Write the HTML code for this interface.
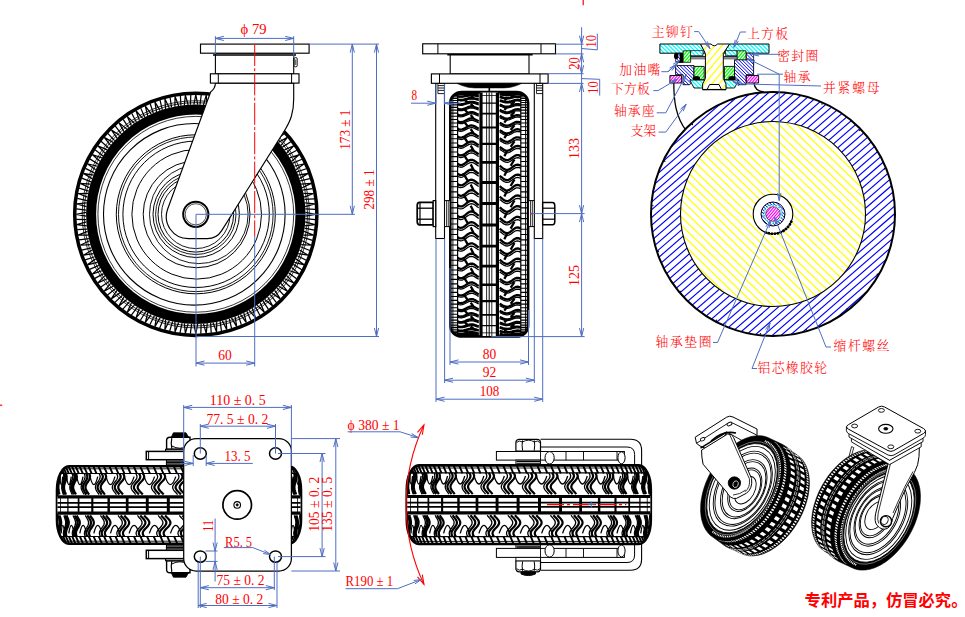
<!DOCTYPE html>
<html lang="zh"><head><meta charset="utf-8"><title>脚轮图纸</title>
<style>
html,body{margin:0;padding:0;background:#fff;}
body{width:965px;height:617px;overflow:hidden;font-family:"Liberation Serif","Noto Serif CJK SC",serif;}
svg{display:block;}
text{white-space:pre;}
</style></head><body>
<svg width="965" height="617" viewBox="0 0 965 617">
<defs>

</defs>
<rect width="965" height="617" fill="#fff"/>
<g id="v1">
<circle cx="195.8" cy="214.3" r="121.1" stroke="#000" stroke-width="3.5" fill="#fff"/>
<path d="M315.4 214.3L305.38 212.39M315.4 214.3L305.38 216.21M315.28 219.73L305.32 218.51M314.94 224.72L305.13 221.95M314.94 224.72L304.8 225.76M314.35 230.12L304.54 228.04M313.58 235.07L304.05 231.45M313.58 235.07L303.39 235.21M312.52 240.39L302.92 237.46M311.32 245.25L302.14 240.81M311.32 245.25L301.15 244.51M309.8 250.46L300.5 246.71M308.19 255.21L299.43 249.98M308.19 255.21L298.12 253.58M306.22 260.26L297.28 255.71M304.19 264.85L295.92 258.88M304.19 264.85L294.31 262.35M301.79 269.71L293.28 264.4M299.38 274.1L291.66 267.44M299.38 274.1L289.75 270.75M296.56 278.74L288.54 272.7M293.77 282.9L286.66 275.59M293.77 282.9L284.47 278.72M290.56 287.27L283.1 280.56M287.42 291.18L280.98 283.27M287.42 291.18L278.52 286.2M283.84 295.25L276.99 287.92M280.37 298.87L274.64 290.43M280.37 298.87L271.93 293.14M276.45 302.62L270.27 294.72M272.68 305.92L267.7 297.02M272.68 305.92L264.77 299.48M268.44 309.31L262.97 300.9M264.4 312.27L260.22 302.97M264.4 312.27L257.09 305.16M259.88 315.28L255.17 306.43M255.6 317.88L252.25 308.25M255.6 317.88L248.94 310.16M250.84 320.48L246.92 311.25M246.35 322.69L243.85 312.81M246.35 322.69L240.38 314.42M241.38 324.88L238.27 315.34M236.71 326.69L235.08 316.62M236.71 326.69L231.48 317.93M231.57 328.43L229.3 318.65M226.75 329.82L226.01 319.65M226.75 329.82L222.31 320.64M221.48 331.11L220.08 321.18M216.57 332.08L216.71 321.89M216.57 332.08L212.95 322.55M211.2 332.9L210.67 322.89M206.22 333.44L207.26 323.3M206.22 333.44L203.45 323.63M200.81 333.8L201.15 323.77M195.8 333.9L197.71 323.88M195.8 333.9L193.89 323.88M190.37 333.78L191.59 323.82M185.38 333.44L188.15 323.63M185.38 333.44L184.34 323.3M179.98 332.85L182.06 323.04M175.03 332.08L178.65 322.55M175.03 332.08L174.89 321.89M169.71 331.02L172.64 321.42M164.85 329.82L169.29 320.64M164.85 329.82L165.59 319.65M159.64 328.3L163.39 319M154.89 326.69L160.12 317.93M154.89 326.69L156.52 316.62M149.84 324.72L154.39 315.78M145.25 322.69L151.22 314.42M145.25 322.69L147.75 312.81M140.39 320.29L145.7 311.78M136 317.88L142.66 310.16M136 317.88L139.35 308.25M131.36 315.06L137.4 307.04M127.2 312.27L134.51 305.16M127.2 312.27L131.38 302.97M122.83 309.06L129.54 301.6M118.92 305.92L126.83 299.48M118.92 305.92L123.9 297.02M114.85 302.34L122.18 295.49M111.23 298.87L119.67 293.14M111.23 298.87L116.96 290.43M107.48 294.95L115.38 288.77M104.18 291.18L113.08 286.2M104.18 291.18L110.62 283.27M100.79 286.94L109.2 281.47M97.83 282.9L107.13 278.72M97.83 282.9L104.94 275.59M94.82 278.38L103.67 273.67M92.22 274.1L101.85 270.75M92.22 274.1L99.94 267.44M89.62 269.34L98.85 265.42M87.41 264.85L97.29 262.35M87.41 264.85L95.68 258.88M85.22 259.88L94.76 256.77M83.41 255.21L93.48 253.58M83.41 255.21L92.17 249.98M81.67 250.07L91.45 247.8M80.28 245.25L90.45 244.51M80.28 245.25L89.46 240.81M78.99 239.98L88.92 238.58M78.02 235.07L88.21 235.21M78.02 235.07L87.55 231.45M77.2 229.7L87.21 229.17M76.66 224.72L86.8 225.76M76.66 224.72L86.47 221.95M76.3 219.31L86.33 219.65M76.2 214.3L86.22 216.21M76.2 214.3L86.22 212.39M76.32 208.87L86.28 210.09M76.66 203.88L86.47 206.65M76.66 203.88L86.8 202.84M77.25 198.48L87.06 200.56M78.02 193.53L87.55 197.15M78.02 193.53L88.21 193.39M79.08 188.21L88.68 191.14M80.28 183.35L89.46 187.79M80.28 183.35L90.45 184.09M81.8 178.14L91.1 181.89M83.41 173.39L92.17 178.62M83.41 173.39L93.48 175.02M85.38 168.34L94.32 172.89M87.41 163.75L95.68 169.72M87.41 163.75L97.29 166.25M89.81 158.89L98.32 164.2M92.22 154.5L99.94 161.16M92.22 154.5L101.85 157.85M95.04 149.86L103.06 155.9M97.83 145.7L104.94 153.01M97.83 145.7L107.13 149.88M101.04 141.33L108.5 148.04M104.18 137.42L110.62 145.33M104.18 137.42L113.08 142.4M107.76 133.35L114.61 140.68M111.23 129.73L116.96 138.17M111.23 129.73L119.67 135.46M115.15 125.98L121.33 133.88M118.92 122.68L123.9 131.58M118.92 122.68L126.83 129.12M123.16 119.29L128.63 127.7M127.2 116.33L131.38 125.63M127.2 116.33L134.51 123.44M131.72 113.32L136.43 122.17M136 110.72L139.35 120.35M136 110.72L142.66 118.44M140.76 108.12L144.68 117.35M145.25 105.91L147.75 115.79M145.25 105.91L151.22 114.18M150.22 103.72L153.33 113.26M154.89 101.91L156.52 111.98M154.89 101.91L160.12 110.67M160.03 100.17L162.3 109.95M164.85 98.78L165.59 108.95M164.85 98.78L169.29 107.96M170.12 97.49L171.52 107.42M175.03 96.52L174.89 106.71M175.03 96.52L178.65 106.05M180.4 95.7L180.93 105.71M185.38 95.16L184.34 105.3M185.38 95.16L188.15 104.97M190.79 94.8L190.45 104.83M195.8 94.7L193.89 104.72M195.8 94.7L197.71 104.72M201.23 94.82L200.01 104.78M206.22 95.16L203.45 104.97M206.22 95.16L207.26 105.3M211.62 95.75L209.54 105.56M216.57 96.52L212.95 106.05M216.57 96.52L216.71 106.71M221.89 97.58L218.96 107.18M226.75 98.78L222.31 107.96M226.75 98.78L226.01 108.95M231.96 100.3L228.21 109.6M236.71 101.91L231.48 110.67M236.71 101.91L235.08 111.98M241.76 103.88L237.21 112.82M246.35 105.91L240.38 114.18M246.35 105.91L243.85 115.79M251.21 108.31L245.9 116.82M255.6 110.72L248.94 118.44M255.6 110.72L252.25 120.35M260.24 113.54L254.2 121.56M264.4 116.33L257.09 123.44M264.4 116.33L260.22 125.63M268.77 119.54L262.06 127M272.68 122.68L264.77 129.12M272.68 122.68L267.7 131.58M276.75 126.26L269.42 133.11M280.37 129.73L271.93 135.46M280.37 129.73L274.64 138.17M284.12 133.65L276.22 139.83M287.42 137.42L278.52 142.4M287.42 137.42L280.98 145.33M290.81 141.66L282.4 147.13M293.77 145.7L284.47 149.88M293.77 145.7L286.66 153.01M296.78 150.22L287.93 154.93M299.38 154.5L289.75 157.85M299.38 154.5L291.66 161.16M301.98 159.26L292.75 163.18M304.19 163.75L294.31 166.25M304.19 163.75L295.92 169.72M306.38 168.72L296.84 171.83M308.19 173.39L298.12 175.02M308.19 173.39L299.43 178.62M309.93 178.53L300.15 180.8M311.32 183.35L301.15 184.09M311.32 183.35L302.14 187.79M312.61 188.62L302.68 190.02M313.58 193.53L303.39 193.39M313.58 193.53L304.05 197.15M314.4 198.9L304.39 199.43M314.94 203.88L304.8 202.84M314.94 203.88L305.13 206.65M315.3 209.29L305.27 208.95" stroke="#000" stroke-width="1.25" fill="none"/>
<circle cx="195.8" cy="214.3" r="111.7" stroke="#000" stroke-width="0.8" fill="none"/>
<circle cx="195.8" cy="214.3" r="113.6" stroke="#000" stroke-width="0.8" fill="none"/>
<circle cx="195.8" cy="214.3" r="104.7" stroke="#000" stroke-width="10" fill="none"/>
<circle cx="194.3" cy="214.3" r="90.8" stroke="#000" stroke-width="1.1" fill="none"/>
<circle cx="195.8" cy="214.3" r="79.5" stroke="#000" stroke-width="1" fill="none"/>
<circle cx="195.8" cy="214.3" r="77.3" stroke="#000" stroke-width="0.9" fill="none"/>
<circle cx="196.1" cy="214.3" r="73.2" stroke="#000" stroke-width="1" fill="none"/>
<circle cx="196.7" cy="214.3" r="64.8" stroke="#000" stroke-width="1" fill="none"/>
<circle cx="196.6" cy="214.3" r="53.4" stroke="#000" stroke-width="1" fill="none"/>
<circle cx="198.8" cy="214.3" r="49.3" stroke="#000" stroke-width="0.9" fill="none"/>
<circle cx="196.2" cy="214.3" r="43.2" stroke="#000" stroke-width="1" fill="none"/>
<circle cx="195.8" cy="214.3" r="40.2" stroke="#000" stroke-width="0.9" fill="none"/>
<circle cx="195.8" cy="214.3" r="37.8" stroke="#000" stroke-width="1" fill="none"/>
<circle cx="195.8" cy="214.3" r="34.3" stroke="#000" stroke-width="0.9" fill="none"/>
<circle cx="195.8" cy="214.3" r="97.9" stroke="#000" stroke-width="0.8" fill="none"/>
<path d="M215.4 83.1 Q215.4 88.5 210.63 92 L167.67 209.05 A22 22 0 0 0 188.33 238.6 L207.3 238.6 A17 17 0 0 0 221.7 230.64 L284.27 131 C290.5 121 293.7 113 293.7 99 L293.7 83.1 Z" stroke="#000" stroke-width="1.15" fill="#fff" stroke-linejoin="round"/>
<circle cx="195.8" cy="214.3" r="12.6" stroke="#000" stroke-width="2" fill="#fff"/>
<circle cx="195.8" cy="214.3" r="10.6" stroke="#000" stroke-width="0.7" fill="none"/>
<rect x="215.4" y="53.2" width="78.3" height="20.6" stroke="#000" stroke-width="1.1" fill="#fff"/>
<line x1="213" y1="55" x2="296" y2="55" stroke="#000" stroke-width="1.7"/>
<rect x="200.5" y="44.1" width="108.6" height="9.1" stroke="#000" stroke-width="1.15" fill="#fff"/>
<rect x="210.4" y="73.8" width="88.6" height="9.3" stroke="#000" stroke-width="1.15" fill="#fff"/>
<line x1="218.3" y1="73.8" x2="218.3" y2="83.1" stroke="#000" stroke-width="1"/>
<line x1="291.6" y1="73.8" x2="291.6" y2="83.1" stroke="#000" stroke-width="1"/>
<rect x="294.2" y="57.6" width="3" height="9.2" stroke="#000" stroke-width="0.9" fill="#fff" rx="1.2"/>
<line x1="295.7" y1="59.5" x2="295.7" y2="65" stroke="#000" stroke-width="0.7"/>
<line x1="254.7" y1="44" x2="254.7" y2="236" stroke="#ff0000" stroke-width="1" stroke-dasharray="22 2.2 3 2.2"/>
<line x1="215.4" y1="36.2" x2="215.4" y2="54" stroke="#4f6ec2" stroke-width="1"/>
<line x1="293.7" y1="36.2" x2="293.7" y2="57.5" stroke="#4f6ec2" stroke-width="1"/>
<line x1="215.4" y1="38.4" x2="293.7" y2="38.4" stroke="#4f6ec2" stroke-width="1"/>
<polyline points="223.9,36.3 215.4,38.4 223.9,40.5" stroke="#4f6ec2" stroke-width="1" fill="none"/>
<polyline points="285.2,40.5 293.7,38.4 285.2,36.3" stroke="#4f6ec2" stroke-width="1" fill="none"/>
<text x="253.6" y="33.8" font-size="14" text-anchor="middle" fill="#ff0000" font-family="'Liberation Serif','Noto Serif CJK SC',serif" textLength="26" lengthAdjust="spacingAndGlyphs">ϕ 79</text>
<line x1="309.1" y1="44.1" x2="379" y2="44.1" stroke="#4f6ec2" stroke-width="1"/>
<line x1="196" y1="214.3" x2="355" y2="214.3" stroke="#4f6ec2" stroke-width="1"/>
<line x1="196" y1="336.5" x2="379" y2="336.5" stroke="#4f6ec2" stroke-width="1"/>
<line x1="352.3" y1="44.1" x2="352.3" y2="214.3" stroke="#4f6ec2" stroke-width="1"/>
<polyline points="354.4,52.6 352.3,44.1 350.2,52.6" stroke="#4f6ec2" stroke-width="1" fill="none"/>
<polyline points="350.2,205.8 352.3,214.3 354.4,205.8" stroke="#4f6ec2" stroke-width="1" fill="none"/>
<line x1="376.5" y1="44.1" x2="376.5" y2="336.5" stroke="#4f6ec2" stroke-width="1"/>
<polyline points="378.6,52.6 376.5,44.1 374.4,52.6" stroke="#4f6ec2" stroke-width="1" fill="none"/>
<polyline points="374.4,328 376.5,336.5 378.6,328" stroke="#4f6ec2" stroke-width="1" fill="none"/>
<text x="350.4" y="129.7" font-size="14" text-anchor="middle" fill="#ff0000" font-family="'Liberation Serif','Noto Serif CJK SC',serif" transform="rotate(-90 350.4 129.7)" textLength="40" lengthAdjust="spacingAndGlyphs">173 ± 1</text>
<text x="373.6" y="189.5" font-size="14" text-anchor="middle" fill="#ff0000" font-family="'Liberation Serif','Noto Serif CJK SC',serif" transform="rotate(-90 373.6 189.5)" textLength="40" lengthAdjust="spacingAndGlyphs">298 ± 1</text>
<line x1="196" y1="214.3" x2="196" y2="366.5" stroke="#4f6ec2" stroke-width="1"/>
<line x1="254.7" y1="236" x2="254.7" y2="366.5" stroke="#4f6ec2" stroke-width="1"/>
<line x1="196" y1="363.1" x2="254.7" y2="363.1" stroke="#4f6ec2" stroke-width="1"/>
<polyline points="204.5,361 196,363.1 204.5,365.2" stroke="#4f6ec2" stroke-width="1" fill="none"/>
<polyline points="246.2,365.2 254.7,363.1 246.2,361" stroke="#4f6ec2" stroke-width="1" fill="none"/>
<text x="224.9" y="360.1" font-size="14" text-anchor="middle" fill="#ff0000" font-family="'Liberation Serif','Noto Serif CJK SC',serif" textLength="13.5" lengthAdjust="spacingAndGlyphs">60</text>
</g>
<g id="v2">
<g transform="matrix(0 1 1 0 489.2 214.3)" fill="none" stroke="#000" stroke-linecap="butt">
<rect x="-122.2" y="-38.9" width="244.4" height="77.8" rx="10.5" ry="11.55" fill="#fff" stroke="#000" stroke-width="2.6"/>
<clipPath id="tc57"><rect x="-121.8" y="-38.5" width="243.6" height="77" rx="10.5" ry="11.55"/></clipPath>
<g clip-path="url(#tc57)">
<path d="M-122.73 -31.6L-122.73 -38.5M-122.73 31.6L-122.73 38.5M-122.42 -31.6L-122.42 -38.5M-122.42 31.6L-122.42 38.5M-121.88 -31.6L-121.88 -38.5M-121.88 31.6L-121.88 38.5M-121.12 -31.6L-121.12 -38.5M-121.12 31.6L-121.12 38.5M-120.12 -31.6L-120.12 -38.5M-120.12 31.6L-120.12 38.5M-118.89 -31.6L-118.89 -38.5M-118.89 31.6L-118.89 38.5M-117.43 -31.6L-117.43 -38.5M-117.43 31.6L-117.43 38.5M-115.76 -31.6L-115.76 -38.5M-115.76 31.6L-115.76 38.5M-113.86 -31.6L-113.86 -38.5M-113.86 31.6L-113.86 38.5M-111.74 -31.6L-111.74 -38.5M-111.74 31.6L-111.74 38.5M-109.42 -31.6L-109.42 -38.5M-109.42 31.6L-109.42 38.5M-106.88 -31.6L-106.88 -38.5M-106.88 31.6L-106.88 38.5M-104.14 -31.6L-104.14 -38.5M-104.14 31.6L-104.14 38.5M-101.2 -31.6L-101.2 -38.5M-101.2 31.6L-101.2 38.5M-98.07 -31.6L-98.07 -38.5M-98.07 31.6L-98.07 38.5M-94.76 -31.6L-94.76 -38.5M-94.76 31.6L-94.76 38.5M-91.26 -31.6L-91.26 -38.5M-91.26 31.6L-91.26 38.5M-87.59 -31.6L-87.59 -38.5M-87.59 31.6L-87.59 38.5M-83.75 -31.6L-83.75 -38.5M-83.75 31.6L-83.75 38.5M-79.75 -31.6L-79.75 -38.5M-79.75 31.6L-79.75 38.5M-75.6 -31.6L-75.6 -38.5M-75.6 31.6L-75.6 38.5M-71.31 -31.6L-71.31 -38.5M-71.31 31.6L-71.31 38.5M-66.88 -31.6L-66.88 -38.5M-66.88 31.6L-66.88 38.5M-62.33 -31.6L-62.33 -38.5M-62.33 31.6L-62.33 38.5M-57.65 -31.6L-57.65 -38.5M-57.65 31.6L-57.65 38.5M-52.87 -31.6L-52.87 -38.5M-52.87 31.6L-52.87 38.5M-47.98 -31.6L-47.98 -38.5M-47.98 31.6L-47.98 38.5M-43.01 -31.6L-43.01 -38.5M-43.01 31.6L-43.01 38.5M-37.95 -31.6L-37.95 -38.5M-37.95 31.6L-37.95 38.5M-32.82 -31.6L-32.82 -38.5M-32.82 31.6L-32.82 38.5M-27.62 -31.6L-27.62 -38.5M-27.62 31.6L-27.62 38.5M-22.38 -31.6L-22.38 -38.5M-22.38 31.6L-22.38 38.5M-17.09 -31.6L-17.09 -38.5M-17.09 31.6L-17.09 38.5M-11.77 -31.6L-11.77 -38.5M-11.77 31.6L-11.77 38.5M-6.43 -31.6L-6.43 -38.5M-6.43 31.6L-6.43 38.5M-1.07 -31.6L-1.07 -38.5M-1.07 31.6L-1.07 38.5M4.29 -31.6L4.29 -38.5M4.29 31.6L4.29 38.5M9.63 -31.6L9.63 -38.5M9.63 31.6L9.63 38.5M14.97 -31.6L14.97 -38.5M14.97 31.6L14.97 38.5M20.27 -31.6L20.27 -38.5M20.27 31.6L20.27 38.5M25.53 -31.6L25.53 -38.5M25.53 31.6L25.53 38.5M30.75 -31.6L30.75 -38.5M30.75 31.6L30.75 38.5M35.9 -31.6L35.9 -38.5M35.9 31.6L35.9 38.5M40.99 -31.6L40.99 -38.5M40.99 31.6L40.99 38.5M46 -31.6L46 -38.5M46 31.6L46 38.5M50.92 -31.6L50.92 -38.5M50.92 31.6L50.92 38.5M55.75 -31.6L55.75 -38.5M55.75 31.6L55.75 38.5M60.47 -31.6L60.47 -38.5M60.47 31.6L60.47 38.5M65.07 -31.6L65.07 -38.5M65.07 31.6L65.07 38.5M69.55 -31.6L69.55 -38.5M69.55 31.6L69.55 38.5M73.9 -31.6L73.9 -38.5M73.9 31.6L73.9 38.5M78.11 -31.6L78.11 -38.5M78.11 31.6L78.11 38.5M82.17 -31.6L82.17 -38.5M82.17 31.6L82.17 38.5M86.07 -31.6L86.07 -38.5M86.07 31.6L86.07 38.5M89.81 -31.6L89.81 -38.5M89.81 31.6L89.81 38.5M93.38 -31.6L93.38 -38.5M93.38 31.6L93.38 38.5M96.77 -31.6L96.77 -38.5M96.77 31.6L96.77 38.5M99.97 -31.6L99.97 -38.5M99.97 31.6L99.97 38.5M102.99 -31.6L102.99 -38.5M102.99 31.6L102.99 38.5M105.81 -31.6L105.81 -38.5M105.81 31.6L105.81 38.5M108.43 -31.6L108.43 -38.5M108.43 31.6L108.43 38.5M110.84 -31.6L110.84 -38.5M110.84 31.6L110.84 38.5M113.04 -31.6L113.04 -38.5M113.04 31.6L113.04 38.5M115.02 -31.6L115.02 -38.5M115.02 31.6L115.02 38.5M116.79 -31.6L116.79 -38.5M116.79 31.6L116.79 38.5M118.33 -31.6L118.33 -38.5M118.33 31.6L118.33 38.5M119.65 -31.6L119.65 -38.5M119.65 31.6L119.65 38.5M120.74 -31.6L120.74 -38.5M120.74 31.6L120.74 38.5M121.6 -31.6L121.6 -38.5M121.6 31.6L121.6 38.5M122.23 -31.6L122.23 -38.5M122.23 31.6L122.23 38.5M122.63 -31.6L122.63 -38.5M122.63 31.6L122.63 38.5" stroke-width="1.1"/>
<line x1="-122.8" y1="-31.6" x2="122.8" y2="-31.6" stroke-width="1.2"/>
<line x1="-122.8" y1="-36.3" x2="122.8" y2="-36.3" stroke-width="0.9"/>
<line x1="-122.8" y1="31.6" x2="122.8" y2="31.6" stroke-width="1.2"/>
<line x1="-122.8" y1="36.3" x2="122.8" y2="36.3" stroke-width="0.9"/>
<path d="M-122.79 -31.6L-122.77 -30.09L-122.77 -28.58L-122.77 -27.07L-122.78 -25.56L-122.8 -24.05L-122.8 -22.54L-122.8 -21.03L-122.8 -19.52L-122.8 -18.01L-122.8 -16.51L-122.8 -15L-122.8 -13.49L-122.8 -11.98L-122.79 -10.47M-122.78 -25.26L-122.47 -21.46M-122.74 31.6L-122.77 30.09L-122.78 28.58L-122.77 27.07L-122.75 25.56L-122.72 24.05L-122.66 22.54L-122.6 21.03L-122.55 19.52L-122.52 18.01L-122.54 16.51L-122.58 15L-122.64 13.49L-122.7 11.98L-122.74 10.47M-122.57 25.26L-121.96 21.46M-122.18 -31.6L-122.09 -30.09L-122.05 -28.58L-122.07 -27.07L-122.15 -25.56L-122.26 -24.05L-122.37 -22.54L-122.46 -21.03L-122.53 -19.52L-122.55 -18.01L-122.54 -16.51L-122.49 -15L-122.4 -13.49L-122.29 -11.98L-122.18 -10.47M-122.13 -18.5L-121.22 -15.12M-121.95 31.6L-122.05 30.09L-122.09 28.58L-122.07 27.07L-121.99 25.56L-121.86 24.05L-121.69 22.54L-121.53 21.03L-121.4 19.52L-121.34 18.01L-121.37 16.51L-121.48 15L-121.64 13.49L-121.81 11.98L-121.95 10.47M-121.45 18.5L-120.25 15.12M-120.64 -31.6L-120.47 -30.09L-120.4 -28.58L-120.44 -27.07L-120.58 -25.56L-120.78 -24.05L-121.01 -22.54L-121.21 -21.03L-121.34 -19.52L-121.4 -18.01L-121.37 -16.51L-121.26 -15L-121.08 -13.49L-120.86 -11.98L-120.64 -10.47M-120.54 -25.26L-119.05 -21.46M-120.23 31.6L-120.41 30.09L-120.48 28.58L-120.44 27.07L-120.3 25.56L-120.07 24.05L-119.79 22.54L-119.52 21.03L-119.32 19.52L-119.23 18.01L-119.28 16.51L-119.45 15L-119.7 13.49L-119.98 11.98L-120.23 10.47M-119.41 25.26L-117.62 21.46M-118.18 -31.6L-117.94 -30.09L-117.84 -28.58L-117.89 -27.07L-118.09 -25.56L-118.39 -24.05L-118.73 -22.54L-119.03 -21.03L-119.24 -19.52L-119.33 -18.01L-119.28 -16.51L-119.11 -15L-118.83 -13.49L-118.5 -11.98L-118.18 -10.47M-118.04 -18.5L-115.97 -15.12M-117.6 31.6L-117.85 30.09L-117.95 28.58L-117.9 27.07L-117.69 25.56L-117.37 24.05L-116.98 22.54L-116.61 21.03L-116.34 19.52L-116.22 18.01L-116.28 16.51L-116.51 15L-116.86 13.49L-117.25 11.98L-117.6 10.47M-116.45 18.5L-114.1 15.12M-114.83 -31.6L-114.51 -30.09L-114.38 -28.58L-114.45 -27.07L-114.71 -25.56L-115.1 -24.05L-115.54 -22.54L-115.94 -21.03L-116.23 -19.52L-116.35 -18.01L-116.29 -16.51L-116.05 -15L-115.68 -13.49L-115.24 -11.98L-114.83 -10.47M-114.64 -25.26L-112.01 -21.46M-114.07 31.6L-114.39 30.09L-114.53 28.58L-114.46 27.07L-114.19 25.56L-113.77 24.05L-113.28 22.54L-112.82 21.03L-112.47 19.52L-112.32 18.01L-112.4 16.51L-112.69 15L-113.13 13.49L-113.62 11.98L-114.07 10.47M-112.61 25.26L-109.71 21.46M-110.59 -31.6L-110.21 -30.09L-110.04 -28.58L-110.13 -27.07L-110.45 -25.56L-110.93 -24.05L-111.48 -22.54L-111.98 -21.03L-112.33 -19.52L-112.48 -18.01L-112.41 -16.51L-112.11 -15L-111.65 -13.49L-111.11 -11.98L-110.59 -10.47M-110.37 -18.5L-107.19 -15.12M-109.67 31.6L-110.06 30.09L-110.23 28.58L-110.14 27.07L-109.82 25.56L-109.31 24.05L-108.72 22.54L-108.16 21.03L-107.74 19.52L-107.56 18.01L-107.66 16.51L-108 15L-108.53 13.49L-109.13 11.98L-109.67 10.47M-107.92 18.5L-104.48 15.12M-105.52 -31.6L-105.07 -30.09L-104.88 -28.58L-104.98 -27.07L-105.35 -25.56L-105.92 -24.05L-106.57 -22.54L-107.16 -21.03L-107.58 -19.52L-107.76 -18.01L-107.67 -16.51L-107.32 -15L-106.77 -13.49L-106.13 -11.98L-105.52 -10.47M-105.26 -25.26L-101.57 -21.46M-104.44 31.6L-104.89 30.09L-105.09 28.58L-104.99 27.07L-104.61 25.56L-104.02 24.05L-103.33 22.54L-102.68 21.03L-102.2 19.52L-101.99 18.01L-102.1 16.51L-102.5 15L-103.11 13.49L-103.8 11.98L-104.44 10.47M-102.4 25.26L-98.46 21.46M-99.65 -31.6L-99.13 -30.09L-98.91 -28.58L-99.02 -27.07L-99.45 -25.56L-100.1 -24.05L-100.84 -22.54L-101.52 -21.03L-102.01 -19.52L-102.22 -18.01L-102.11 -16.51L-101.71 -15L-101.08 -13.49L-100.34 -11.98L-99.65 -10.47M-99.35 -18.5L-95.16 -15.12M-98.41 31.6L-98.93 30.09L-99.15 28.58L-99.04 27.07L-98.61 25.56L-97.94 24.05L-97.16 22.54L-96.42 21.03L-95.88 19.52L-95.64 18.01L-95.76 16.51L-96.22 15L-96.9 13.49L-97.69 11.98L-98.41 10.47M-96.1 18.5L-91.69 15.12M-93.01 -31.6L-92.44 -30.09L-92.19 -28.58L-92.32 -27.07L-92.8 -25.56L-93.52 -24.05L-94.35 -22.54L-95.11 -21.03L-95.66 -19.52L-95.9 -18.01L-95.78 -16.51L-95.32 -15L-94.61 -13.49L-93.79 -11.98L-93.01 -10.47M-92.68 -25.26L-88.04 -21.46M-91.63 31.6L-92.21 30.09L-92.46 28.58L-92.33 27.07L-91.85 25.56L-91.11 24.05L-90.24 22.54L-89.43 21.03L-88.82 19.52L-88.56 18.01L-88.7 16.51L-89.2 15L-89.96 13.49L-90.83 11.98L-91.63 10.47M-89.08 25.26L-84.22 21.46M-85.67 -31.6L-85.04 -30.09L-84.77 -28.58L-84.91 -27.07L-85.43 -25.56L-86.23 -24.05L-87.14 -22.54L-87.98 -21.03L-88.59 -19.52L-88.85 -18.01L-88.72 -16.51L-88.21 -15L-87.43 -13.49L-86.52 -11.98L-85.67 -10.47M-85.3 -18.5L-80.24 -15.12M-84.16 31.6L-84.79 30.09L-85.07 28.58L-84.93 27.07L-84.4 25.56L-83.59 24.05L-82.64 22.54L-81.75 21.03L-81.1 19.52L-80.81 18.01L-80.96 16.51L-81.5 15L-82.33 13.49L-83.28 11.98L-84.16 10.47M-81.37 18.5L-76.11 15.12M-77.68 -31.6L-77 -30.09L-76.7 -28.58L-76.85 -27.07L-77.42 -25.56L-78.28 -24.05L-79.27 -22.54L-80.18 -21.03L-80.84 -19.52L-81.12 -18.01L-80.98 -16.51L-80.43 -15L-79.58 -13.49L-78.6 -11.98L-77.68 -10.47M-77.28 -25.26L-71.83 -21.46M-76.05 31.6L-76.73 30.09L-77.02 28.58L-76.87 27.07L-76.3 25.56L-75.43 24.05L-74.41 22.54L-73.45 21.03L-72.75 19.52L-72.45 18.01L-72.6 16.51L-73.19 15L-74.08 13.49L-75.1 11.98L-76.05 10.47M-73.04 25.26L-67.42 21.46M-69.09 -31.6L-68.37 -30.09L-68.05 -28.58L-68.21 -27.07L-68.82 -25.56L-69.74 -24.05L-70.79 -22.54L-71.77 -21.03L-72.47 -19.52L-72.78 -18.01L-72.62 -16.51L-72.04 -15L-71.13 -13.49L-70.08 -11.98L-69.09 -10.47M-68.67 -18.5L-62.88 -15.12M-67.35 31.6L-68.08 30.09L-68.4 28.58L-68.23 27.07L-67.63 25.56L-66.69 24.05L-65.61 22.54L-64.6 21.03L-63.85 19.52L-63.53 18.01L-63.69 16.51L-64.32 15L-65.26 13.49L-66.35 11.98L-67.35 10.47M-64.16 18.5L-58.22 15.12M-59.98 -31.6L-59.22 -30.09L-58.88 -28.58L-59.05 -27.07L-59.69 -25.56L-60.66 -24.05L-61.78 -22.54L-62.81 -21.03L-63.56 -19.52L-63.88 -18.01L-63.72 -16.51L-63.09 -15L-62.13 -13.49L-61.02 -11.98L-59.98 -10.47M-59.53 -25.26L-53.45 -21.46M-58.15 31.6L-58.92 30.09L-59.25 28.58L-59.08 27.07L-58.44 25.56L-57.45 24.05L-56.32 22.54L-55.25 21.03L-54.47 19.52L-54.13 18.01L-54.3 16.51L-54.95 15L-55.95 13.49L-57.09 11.98L-58.15 10.47M-54.79 25.26L-48.57 21.46M-50.41 -31.6L-49.61 -30.09L-49.27 -28.58L-49.45 -27.07L-50.11 -25.56L-51.13 -24.05L-52.29 -22.54L-53.37 -21.03L-54.16 -19.52L-54.5 -18.01L-54.32 -16.51L-53.67 -15L-52.67 -13.49L-51.5 -11.98L-50.41 -10.47M-49.95 -18.5L-43.61 -15.12M-48.5 31.6L-49.3 30.09L-49.65 28.58L-49.47 27.07L-48.8 25.56L-47.78 24.05L-46.59 22.54L-45.48 21.03L-44.67 19.52L-44.31 18.01L-44.5 16.51L-45.17 15L-46.21 13.49L-47.4 11.98L-48.5 10.47M-45.01 18.5L-38.56 15.12M-40.46 -31.6L-39.63 -30.09L-39.28 -28.58L-39.46 -27.07L-40.15 -25.56L-41.2 -24.05L-42.41 -22.54L-43.53 -21.03L-44.35 -19.52L-44.7 -18.01L-44.52 -16.51L-43.84 -15L-42.8 -13.49L-41.59 -11.98L-40.46 -10.47M-39.98 -25.26L-33.44 -21.46M-38.48 31.6L-39.31 30.09L-39.67 28.58L-39.48 27.07L-38.8 25.56L-37.73 24.05L-36.51 22.54L-35.37 21.03L-34.53 19.52L-34.16 18.01L-34.35 16.51L-35.05 15L-36.12 13.49L-37.34 11.98L-38.48 10.47M-34.88 25.26L-28.25 21.46M-30.2 -31.6L-29.35 -30.09L-28.99 -28.58L-29.18 -27.07L-29.88 -25.56L-30.96 -24.05L-32.2 -22.54L-33.36 -21.03L-34.2 -19.52L-34.56 -18.01L-34.38 -16.51L-33.68 -15L-32.6 -13.49L-31.36 -11.98L-30.2 -10.47M-29.71 -18.5L-23.01 -15.12M-28.17 31.6L-29.02 30.09L-29.39 28.58L-29.2 27.07L-28.49 25.56L-27.41 24.05L-26.15 22.54L-24.98 21.03L-24.12 19.52L-23.75 18.01L-23.94 16.51L-24.66 15L-25.75 13.49L-27 11.98L-28.17 10.47M-24.48 18.5L-17.73 15.12M-19.71 -31.6L-18.85 -30.09L-18.48 -28.58L-18.67 -27.07L-19.39 -25.56L-20.49 -24.05L-21.75 -22.54L-22.93 -21.03L-23.79 -19.52L-24.16 -18.01L-23.97 -16.51L-23.26 -15L-22.16 -13.49L-20.89 -11.98L-19.71 -10.47M-19.21 -25.26L-12.41 -21.46M-17.65 31.6L-18.51 30.09L-18.88 28.58L-18.69 27.07L-17.97 25.56L-16.87 24.05L-15.6 22.54L-14.41 21.03L-13.54 19.52L-13.16 18.01L-13.36 16.51L-14.08 15L-15.19 13.49L-16.46 11.98L-17.65 10.47M-13.9 25.26L-7.07 21.46M-9.07 -31.6L-8.2 -30.09L-7.83 -28.58L-8.02 -27.07L-8.74 -25.56L-9.86 -24.05L-11.14 -22.54L-12.33 -21.03L-13.2 -19.52L-13.57 -18.01L-13.38 -16.51L-12.66 -15L-11.55 -13.49L-10.27 -11.98L-9.07 -10.47M-8.57 -18.5L-1.71 -15.12M-6.99 31.6L-7.86 30.09L-8.24 28.58L-8.04 27.07L-7.32 25.56L-6.2 24.05L-4.92 22.54L-3.72 21.03L-2.85 19.52L-2.47 18.01L-2.67 16.51L-3.39 15L-4.51 13.49L-5.79 11.98L-6.99 10.47M-3.21 18.5L3.64 15.12M1.63 -31.6L2.51 -30.09L2.89 -28.58L2.69 -27.07L1.96 -25.56L0.85 -24.05L-0.44 -22.54L-1.63 -21.03L-2.51 -19.52L-2.89 -18.01L-2.69 -16.51L-1.96 -15L-0.85 -13.49L0.44 -11.98L1.63 -10.47M2.14 -25.26L8.99 -21.46M3.72 31.6L2.85 30.09L2.47 28.58L2.67 27.07L3.39 25.56L4.51 24.05L5.79 22.54L6.99 21.03L7.86 19.52L8.24 18.01L8.04 16.51L7.32 15L6.2 13.49L4.92 11.98L3.72 10.47M7.5 25.26L14.33 21.46M12.33 -31.6L13.2 -30.09L13.57 -28.58L13.38 -27.07L12.66 -25.56L11.55 -24.05L10.27 -22.54L9.07 -21.03L8.2 -19.52L7.83 -18.01L8.02 -16.51L8.74 -15L9.86 -13.49L11.14 -11.98L12.33 -10.47M12.84 -18.5L19.63 -15.12M14.41 31.6L13.54 30.09L13.16 28.58L13.36 27.07L14.08 25.56L15.19 24.05L16.46 22.54L17.65 21.03L18.51 19.52L18.88 18.01L18.69 16.51L17.97 15L16.87 13.49L15.6 11.98L14.41 10.47M18.15 18.5L24.9 15.12M22.93 -31.6L23.79 -30.09L24.16 -28.58L23.97 -27.07L23.26 -25.56L22.16 -24.05L20.89 -22.54L19.71 -21.03L18.85 -19.52L18.48 -18.01L18.67 -16.51L19.39 -15L20.49 -13.49L21.75 -11.98L22.93 -10.47M23.43 -25.26L30.12 -21.46M24.98 31.6L24.12 30.09L23.75 28.58L23.94 27.07L24.66 25.56L25.75 24.05L27 22.54L28.17 21.03L29.02 19.52L29.39 18.01L29.2 16.51L28.49 15L27.41 13.49L26.15 11.98L24.98 10.47M28.67 25.26L35.29 21.46M33.36 -31.6L34.2 -30.09L34.56 -28.58L34.38 -27.07L33.68 -25.56L32.6 -24.05L31.36 -22.54L30.2 -21.03L29.35 -19.52L28.99 -18.01L29.18 -16.51L29.88 -15L30.96 -13.49L32.2 -11.98L33.36 -10.47M33.85 -18.5L40.38 -15.12M35.37 31.6L34.53 30.09L34.16 28.58L34.35 27.07L35.05 25.56L36.12 24.05L37.34 22.54L38.48 21.03L39.31 19.52L39.67 18.01L39.48 16.51L38.8 15L37.73 13.49L36.51 11.98L35.37 10.47M38.97 18.5L45.4 15.12M43.53 -31.6L44.35 -30.09L44.7 -28.58L44.52 -27.07L43.84 -25.56L42.8 -24.05L41.59 -22.54L40.46 -21.03L39.63 -19.52L39.28 -18.01L39.46 -16.51L40.15 -15L41.2 -13.49L42.41 -11.98L43.53 -10.47M44.01 -25.26L50.34 -21.46M45.48 31.6L44.67 30.09L44.31 28.58L44.5 27.07L45.17 25.56L46.21 24.05L47.4 22.54L48.5 21.03L49.3 19.52L49.65 18.01L49.47 16.51L48.8 15L47.78 13.49L46.59 11.98L45.48 10.47M48.97 25.26L55.18 21.46M53.37 -31.6L54.16 -30.09L54.5 -28.58L54.32 -27.07L53.67 -25.56L52.67 -24.05L51.5 -22.54L50.41 -21.03L49.61 -19.52L49.27 -18.01L49.45 -16.51L50.11 -15L51.13 -13.49L52.29 -11.98L53.37 -10.47M53.83 -18.5L59.91 -15.12M55.25 31.6L54.47 30.09L54.13 28.58L54.3 27.07L54.95 25.56L55.95 24.05L57.09 22.54L58.15 21.03L58.92 19.52L59.25 18.01L59.08 16.51L58.44 15L57.45 13.49L56.32 11.98L55.25 10.47M58.6 18.5L64.53 15.12M62.81 -31.6L63.56 -30.09L63.88 -28.58L63.72 -27.07L63.09 -25.56L62.13 -24.05L61.02 -22.54L59.98 -21.03L59.22 -19.52L58.88 -18.01L59.05 -16.51L59.69 -15L60.66 -13.49L61.78 -11.98L62.81 -10.47M63.25 -25.26L69.02 -21.46M64.6 31.6L63.85 30.09L63.53 28.58L63.69 27.07L64.32 25.56L65.26 24.05L66.35 22.54L67.35 21.03L68.08 19.52L68.4 18.01L68.23 16.51L67.63 15L66.69 13.49L65.61 11.98L64.6 10.47M67.78 25.26L73.39 21.46M71.77 -31.6L72.47 -30.09L72.78 -28.58L72.62 -27.07L72.04 -25.56L71.13 -24.05L70.08 -22.54L69.09 -21.03L68.37 -19.52L68.05 -18.01L68.21 -16.51L68.82 -15L69.74 -13.49L70.79 -11.98L71.77 -10.47M72.18 -18.5L77.61 -15.12M73.45 31.6L72.75 30.09L72.45 28.58L72.6 27.07L73.19 25.56L74.08 24.05L75.1 22.54L76.05 21.03L76.73 19.52L77.02 18.01L76.87 16.51L76.3 15L75.43 13.49L74.41 11.98L73.45 10.47M76.44 18.5L81.69 15.12M80.18 -31.6L80.84 -30.09L81.12 -28.58L80.98 -27.07L80.43 -25.56L79.58 -24.05L78.6 -22.54L77.68 -21.03L77 -19.52L76.7 -18.01L76.85 -16.51L77.42 -15L78.28 -13.49L79.27 -11.98L80.18 -10.47M80.56 -25.26L85.61 -21.46M81.75 31.6L81.1 30.09L80.81 28.58L80.96 27.07L81.5 25.56L82.33 24.05L83.28 22.54L84.16 21.03L84.79 19.52L85.07 18.01L84.93 16.51L84.4 15L83.59 13.49L82.64 11.98L81.75 10.47M84.53 25.26L89.37 21.46M87.98 -31.6L88.59 -30.09L88.85 -28.58L88.72 -27.07L88.21 -25.56L87.43 -24.05L86.52 -22.54L85.67 -21.03L85.04 -19.52L84.77 -18.01L84.91 -16.51L85.43 -15L86.23 -13.49L87.14 -11.98L87.98 -10.47M88.33 -18.5L92.96 -15.12M89.43 31.6L88.82 30.09L88.56 28.58L88.7 27.07L89.2 25.56L89.96 24.05L90.83 22.54L91.63 21.03L92.21 19.52L92.46 18.01L92.33 16.51L91.85 15L91.11 13.49L90.24 11.98L89.43 10.47M91.97 18.5L96.37 15.12M95.11 -31.6L95.66 -30.09L95.9 -28.58L95.78 -27.07L95.32 -25.56L94.61 -24.05L93.79 -22.54L93.01 -21.03L92.44 -19.52L92.19 -18.01L92.32 -16.51L92.8 -15L93.52 -13.49L94.35 -11.98L95.11 -10.47M95.43 -25.26L99.6 -21.46M96.42 31.6L95.88 30.09L95.64 28.58L95.76 27.07L96.22 25.56L96.9 24.05L97.69 22.54L98.41 21.03L98.93 19.52L99.15 18.01L99.04 16.51L98.61 15L97.94 13.49L97.16 11.98L96.42 10.47M98.71 25.26L102.64 21.46M101.52 -31.6L102.01 -30.09L102.22 -28.58L102.11 -27.07L101.71 -25.56L101.08 -24.05L100.34 -22.54L99.65 -21.03L99.13 -19.52L98.91 -18.01L99.02 -16.51L99.45 -15L100.1 -13.49L100.84 -11.98L101.52 -10.47M101.81 -18.5L105.48 -15.12M102.68 31.6L102.2 30.09L101.99 28.58L102.1 27.07L102.5 25.56L103.11 24.05L103.8 22.54L104.44 21.03L104.89 19.52L105.09 18.01L104.99 16.51L104.61 15L104.02 13.49L103.33 11.98L102.68 10.47M104.7 18.5L108.12 15.12M107.16 -31.6L107.58 -30.09L107.76 -28.58L107.67 -27.07L107.32 -25.56L106.77 -24.05L106.13 -22.54L105.52 -21.03L105.07 -19.52L104.88 -18.01L104.98 -16.51L105.35 -15L105.92 -13.49L106.57 -11.98L107.16 -10.47M107.4 -25.26L110.56 -21.46M108.16 31.6L107.74 30.09L107.56 28.58L107.66 27.07L108 25.56L108.53 24.05L109.13 22.54L109.67 21.03L110.06 19.52L110.23 18.01L110.14 16.51L109.82 15L109.31 13.49L108.72 11.98L108.16 10.47M109.9 25.26L112.79 21.46M111.98 -31.6L112.33 -30.09L112.48 -28.58L112.41 -27.07L112.11 -25.56L111.65 -24.05L111.11 -22.54L110.59 -21.03L110.21 -19.52L110.04 -18.01L110.13 -16.51L110.45 -15L110.93 -13.49L111.48 -11.98L111.98 -10.47M112.18 -18.5L114.8 -15.12M112.82 31.6L112.47 30.09L112.32 28.58L112.4 27.07L112.69 25.56L113.13 24.05L113.62 22.54L114.07 21.03L114.39 19.52L114.53 18.01L114.46 16.51L114.19 15L113.77 13.49L113.28 11.98L112.82 10.47M114.26 18.5L116.59 15.12M115.94 -31.6L116.23 -30.09L116.35 -28.58L116.29 -27.07L116.05 -25.56L115.68 -24.05L115.24 -22.54L114.83 -21.03L114.51 -19.52L114.38 -18.01L114.45 -16.51L114.71 -15L115.1 -13.49L115.54 -11.98L115.94 -10.47M116.11 -25.26L118.16 -21.46M116.61 31.6L116.34 30.09L116.22 28.58L116.28 27.07L116.51 25.56L116.86 24.05L117.25 22.54L117.6 21.03L117.85 19.52L117.95 18.01L117.9 16.51L117.69 15L117.37 13.49L116.98 11.98L116.61 10.47M117.74 25.26L119.51 21.46M119.03 -31.6L119.24 -30.09L119.33 -28.58L119.28 -27.07L119.11 -25.56L118.83 -24.05L118.5 -22.54L118.18 -21.03L117.94 -19.52L117.84 -18.01L117.89 -16.51L118.09 -15L118.39 -13.49L118.73 -11.98L119.03 -10.47M119.15 -18.5L120.62 -15.12M119.52 31.6L119.32 30.09L119.23 28.58L119.28 27.07L119.45 25.56L119.7 24.05L119.98 22.54L120.23 21.03L120.41 19.52L120.48 18.01L120.44 16.51L120.3 15L120.07 13.49L119.79 11.98L119.52 10.47M120.33 18.5L121.51 15.12M121.21 -31.6L121.34 -30.09L121.4 -28.58L121.37 -27.07L121.26 -25.56L121.08 -24.05L120.86 -22.54L120.64 -21.03L120.47 -19.52L120.4 -18.01L120.44 -16.51L120.58 -15L120.78 -13.49L121.01 -11.98L121.21 -10.47M121.29 -25.26L122.17 -21.46M121.53 31.6L121.4 30.09L121.34 28.58L121.37 27.07L121.48 25.56L121.64 24.05L121.81 22.54L121.95 21.03L122.05 19.52L122.09 18.01L122.07 16.51L121.99 15L121.86 13.49L121.69 11.98L121.53 10.47M122.01 25.26L122.6 21.46M122.46 -31.6L122.53 -30.09L122.55 -28.58L122.54 -27.07L122.49 -25.56L122.4 -24.05L122.29 -22.54L122.18 -21.03L122.09 -19.52L122.05 -18.01L122.07 -16.51L122.15 -15L122.26 -13.49L122.37 -11.98L122.46 -10.47M122.5 -18.5L122.79 -15.12M122.6 31.6L122.55 30.09L122.52 28.58L122.54 27.07L122.58 25.56L122.64 24.05L122.7 22.54L122.74 21.03L122.77 19.52L122.78 18.01L122.77 16.51L122.75 15L122.72 13.49L122.66 11.98L122.6 10.47M122.76 18.5L122.8 15.12M122.8 -31.6L122.8 -30.09L122.8 -28.58L122.8 -27.07L122.8 -25.56L122.8 -24.05L122.8 -22.54L122.79 -21.03L122.77 -19.52L122.77 -18.01L122.77 -16.51L122.78 -15L122.8 -13.49L122.8 -11.98L122.8 -10.47M122.8 -25.26L122.8 -21.46M122.8 31.6L122.8 30.09L122.8 28.58L122.8 27.07L122.8 25.56L122.8 24.05L122.8 22.54L122.8 21.03L122.8 19.52L122.8 18.01L122.8 16.51L122.8 15L122.8 13.49L122.8 11.98L122.8 10.47M122.8 25.26L122.8 21.46" stroke-width="2.3" stroke-linejoin="round"/>
<path d="M-122.73 -31.6L-122.7 -30.09L-122.69 -28.58L-122.69 -27.07L-122.72 -25.56L-122.75 -24.05L-122.78 -22.54L-122.79 -21.03L-122.8 -19.52L-122.8 -18.01L-122.8 -16.51L-122.8 -15L-122.79 -13.49L-122.76 -11.98L-122.73 -10.47M-122.62 31.6L-122.66 30.09L-122.68 28.58L-122.67 27.07L-122.64 25.56L-122.58 24.05L-122.51 22.54L-122.43 21.03L-122.37 19.52L-122.34 18.01L-122.35 16.51L-122.41 15L-122.48 13.49L-122.56 11.98L-122.62 10.47M-121.9 -31.6L-121.8 -30.09L-121.76 -28.58L-121.78 -27.07L-121.86 -25.56L-121.98 -24.05L-122.11 -22.54L-122.22 -21.03L-122.3 -19.52L-122.33 -18.01L-122.31 -16.51L-122.25 -15L-122.15 -13.49L-122.03 -11.98L-121.9 -10.47M-121.59 31.6L-121.69 30.09L-121.74 28.58L-121.72 27.07L-121.63 25.56L-121.48 24.05L-121.31 22.54L-121.14 21.03L-121.01 19.52L-120.95 18.01L-120.98 16.51L-121.09 15L-121.25 13.49L-121.43 11.98L-121.59 10.47M-120.14 -31.6L-119.98 -30.09L-119.91 -28.58L-119.94 -27.07L-120.08 -25.56L-120.29 -24.05L-120.52 -22.54L-120.72 -21.03L-120.86 -19.52L-120.92 -18.01L-120.89 -16.51L-120.77 -15L-120.59 -13.49L-120.36 -11.98L-120.14 -10.47M-119.62 31.6L-119.8 30.09L-119.87 28.58L-119.83 27.07L-119.69 25.56L-119.46 24.05L-119.19 22.54L-118.92 21.03L-118.72 19.52L-118.64 18.01L-118.68 16.51L-118.85 15L-119.1 13.49L-119.37 11.98L-119.62 10.47M-117.47 -31.6L-117.24 -30.09L-117.14 -28.58L-117.19 -27.07L-117.39 -25.56L-117.68 -24.05L-118 -22.54L-118.3 -21.03L-118.51 -19.52L-118.59 -18.01L-118.55 -16.51L-118.38 -15L-118.11 -13.49L-117.78 -11.98L-117.47 -10.47M-116.75 31.6L-116.99 30.09L-117.09 28.58L-117.04 27.07L-116.84 25.56L-116.53 24.05L-116.16 22.54L-115.8 21.03L-115.54 19.52L-115.42 18.01L-115.48 16.51L-115.7 15L-116.04 13.49L-116.41 11.98L-116.75 10.47M-113.91 -31.6L-113.61 -30.09L-113.48 -28.58L-113.55 -27.07L-113.8 -25.56L-114.17 -24.05L-114.59 -22.54L-114.98 -21.03L-115.25 -19.52L-115.37 -18.01L-115.31 -16.51L-115.08 -15L-114.73 -13.49L-114.31 -11.98L-113.91 -10.47M-112.98 31.6L-113.29 30.09L-113.42 28.58L-113.35 27.07L-113.1 25.56L-112.71 24.05L-112.24 22.54L-111.8 21.03L-111.47 19.52L-111.33 18.01L-111.4 16.51L-111.68 15L-112.09 13.49L-112.56 11.98L-112.98 10.47M-109.48 -31.6L-109.12 -30.09L-108.96 -28.58L-109.04 -27.07L-109.34 -25.56L-109.8 -24.05L-110.31 -22.54L-110.78 -21.03L-111.12 -19.52L-111.26 -18.01L-111.19 -16.51L-110.91 -15L-110.47 -13.49L-109.96 -11.98L-109.48 -10.47M-108.36 31.6L-108.73 30.09L-108.89 28.58L-108.81 27.07L-108.5 25.56L-108.03 24.05L-107.47 22.54L-106.95 21.03L-106.56 19.52L-106.39 18.01L-106.48 16.51L-106.8 15L-107.29 13.49L-107.85 11.98L-108.36 10.47M-104.21 -31.6L-103.79 -30.09L-103.61 -28.58L-103.71 -27.07L-104.06 -25.56L-104.59 -24.05L-105.19 -22.54L-105.74 -21.03L-106.14 -19.52L-106.31 -18.01L-106.22 -16.51L-105.89 -15L-105.38 -13.49L-104.78 -11.98L-104.21 -10.47M-102.91 31.6L-103.34 30.09L-103.52 28.58L-103.43 27.07L-103.08 25.56L-102.53 24.05L-101.89 22.54L-101.28 21.03L-100.83 19.52L-100.64 18.01L-100.74 16.51L-101.11 15L-101.68 13.49L-102.32 11.98L-102.91 10.47M-98.15 -31.6L-97.68 -30.09L-97.47 -28.58L-97.58 -27.07L-97.98 -25.56L-98.58 -24.05L-99.26 -22.54L-99.89 -21.03L-100.35 -19.52L-100.54 -18.01L-100.44 -16.51L-100.07 -15L-99.48 -13.49L-98.8 -11.98L-98.15 -10.47M-96.68 31.6L-97.17 30.09L-97.37 28.58L-97.27 27.07L-96.87 25.56L-96.25 24.05L-95.52 22.54L-94.84 21.03L-94.34 19.52L-94.12 18.01L-94.23 16.51L-94.65 15L-95.29 13.49L-96.01 11.98L-96.68 10.47M-91.35 -31.6L-90.82 -30.09L-90.59 -28.58L-90.71 -27.07L-91.15 -25.56L-91.82 -24.05L-92.58 -22.54L-93.29 -21.03L-93.8 -19.52L-94.02 -18.01L-93.91 -16.51L-93.48 -15L-92.83 -13.49L-92.07 -11.98L-91.35 -10.47M-89.72 31.6L-90.25 30.09L-90.48 28.58L-90.36 27.07L-89.92 25.56L-89.23 24.05L-88.43 22.54L-87.68 21.03L-87.13 19.52L-86.89 18.01L-87.01 16.51L-87.47 15L-88.18 13.49L-88.98 11.98L-89.72 10.47M-83.85 -31.6L-83.27 -30.09L-83.02 -28.58L-83.15 -27.07L-83.63 -25.56L-84.36 -24.05L-85.2 -22.54L-85.97 -21.03L-86.53 -19.52L-86.77 -18.01L-86.65 -16.51L-86.19 -15L-85.47 -13.49L-84.63 -11.98L-83.85 -10.47M-82.07 31.6L-82.65 30.09L-82.9 28.58L-82.77 27.07L-82.29 25.56L-81.54 24.05L-80.67 22.54L-79.86 21.03L-79.26 19.52L-79 18.01L-79.13 16.51L-79.63 15L-80.39 13.49L-81.26 11.98L-82.07 10.47M-75.71 -31.6L-75.09 -30.09L-74.82 -28.58L-74.96 -27.07L-75.48 -25.56L-76.27 -24.05L-77.17 -22.54L-78 -21.03L-78.61 -19.52L-78.87 -18.01L-78.74 -16.51L-78.23 -15L-77.46 -13.49L-76.56 -11.98L-75.71 -10.47M-73.79 31.6L-74.42 30.09L-74.69 28.58L-74.55 27.07L-74.03 25.56L-73.23 24.05L-72.3 22.54L-71.42 21.03L-70.78 19.52L-70.5 18.01L-70.65 16.51L-71.18 15L-72 13.49L-72.93 11.98L-73.79 10.47M-67 -31.6L-66.34 -30.09L-66.05 -28.58L-66.2 -27.07L-66.75 -25.56L-67.59 -24.05L-68.55 -22.54L-69.44 -21.03L-70.09 -19.52L-70.37 -18.01L-70.22 -16.51L-69.69 -15L-68.86 -13.49L-67.9 -11.98L-67 -10.47M-64.96 31.6L-65.62 30.09L-65.91 28.58L-65.76 27.07L-65.21 25.56L-64.36 24.05L-63.37 22.54L-62.44 21.03L-61.76 19.52L-61.47 18.01L-61.62 16.51L-62.19 15L-63.05 13.49L-64.04 11.98L-64.96 10.47M-57.77 -31.6L-57.08 -30.09L-56.78 -28.58L-56.93 -27.07L-57.51 -25.56L-58.39 -24.05L-59.41 -22.54L-60.35 -21.03L-61.03 -19.52L-61.33 -18.01L-61.18 -16.51L-60.61 -15L-59.73 -13.49L-58.72 -11.98L-57.77 -10.47M-55.63 31.6L-56.33 30.09L-56.63 28.58L-56.48 27.07L-55.89 25.56L-55 24.05L-53.96 22.54L-52.99 21.03L-52.28 19.52L-51.97 18.01L-52.13 16.51L-52.72 15L-53.63 13.49L-54.66 11.98L-55.63 10.47M-48.11 -31.6L-47.38 -30.09L-47.07 -28.58L-47.23 -27.07L-47.83 -25.56L-48.76 -24.05L-49.82 -22.54L-50.8 -21.03L-51.51 -19.52L-51.82 -18.01L-51.66 -16.51L-51.07 -15L-50.16 -13.49L-49.1 -11.98L-48.11 -10.47M-45.87 31.6L-46.6 30.09L-46.92 28.58L-46.76 27.07L-46.15 25.56L-45.22 24.05L-44.14 22.54L-43.13 21.03L-42.4 19.52L-42.08 18.01L-42.24 16.51L-42.85 15L-43.79 13.49L-44.87 11.98L-45.87 10.47M-38.08 -31.6L-37.33 -30.09L-37 -28.58L-37.17 -27.07L-37.79 -25.56L-38.75 -24.05L-39.84 -22.54L-40.86 -21.03L-41.6 -19.52L-41.92 -18.01L-41.76 -16.51L-41.14 -15L-40.2 -13.49L-39.1 -11.98L-38.08 -10.47M-35.77 31.6L-36.52 30.09L-36.85 28.58L-36.68 27.07L-36.06 25.56L-35.1 24.05L-33.99 22.54L-32.95 21.03L-32.19 19.52L-31.86 18.01L-32.03 16.51L-32.66 15L-33.63 13.49L-34.74 11.98L-35.77 10.47M-27.76 -31.6L-26.99 -30.09L-26.66 -28.58L-26.83 -27.07L-27.47 -25.56L-28.45 -24.05L-29.57 -22.54L-30.61 -21.03L-31.38 -19.52L-31.7 -18.01L-31.54 -16.51L-30.9 -15L-29.93 -13.49L-28.81 -11.98L-27.76 -10.47M-25.4 31.6L-26.17 30.09L-26.5 28.58L-26.33 27.07L-25.69 25.56L-24.71 24.05L-23.57 22.54L-22.51 21.03L-21.74 19.52L-21.4 18.01L-21.58 16.51L-22.22 15L-23.21 13.49L-24.34 11.98L-25.4 10.47M-17.23 -31.6L-16.45 -30.09L-16.11 -28.58L-16.28 -27.07L-16.93 -25.56L-17.93 -24.05L-19.07 -22.54L-20.13 -21.03L-20.91 -19.52L-21.24 -18.01L-21.07 -16.51L-20.43 -15L-19.44 -13.49L-18.29 -11.98L-17.23 -10.47M-14.83 31.6L-15.61 30.09L-15.95 28.58L-15.77 27.07L-15.13 25.56L-14.13 24.05L-12.98 22.54L-11.91 21.03L-11.12 19.52L-10.78 18.01L-10.96 16.51L-11.61 15L-12.61 13.49L-13.76 11.98L-14.83 10.47M-6.56 -31.6L-5.78 -30.09L-5.44 -28.58L-5.61 -27.07L-6.27 -25.56L-7.27 -24.05L-8.42 -22.54L-9.5 -21.03L-10.28 -19.52L-10.62 -18.01L-10.45 -16.51L-9.79 -15L-8.79 -13.49L-7.64 -11.98L-6.56 -10.47M-4.15 31.6L-4.94 30.09L-5.27 28.58L-5.1 27.07L-4.45 25.56L-3.44 24.05L-2.29 22.54L-1.21 21.03L-0.42 19.52L-0.08 18.01L-0.26 16.51L-0.91 15L-1.92 13.49L-3.07 11.98L-4.15 10.47M4.15 -31.6L4.94 -30.09L5.27 -28.58L5.1 -27.07L4.45 -25.56L3.44 -24.05L2.29 -22.54L1.21 -21.03L0.42 -19.52L0.08 -18.01L0.26 -16.51L0.91 -15L1.92 -13.49L3.07 -11.98L4.15 -10.47M6.56 31.6L5.78 30.09L5.44 28.58L5.61 27.07L6.27 25.56L7.27 24.05L8.42 22.54L9.5 21.03L10.28 19.52L10.62 18.01L10.45 16.51L9.79 15L8.79 13.49L7.64 11.98L6.56 10.47M14.83 -31.6L15.61 -30.09L15.95 -28.58L15.77 -27.07L15.13 -25.56L14.13 -24.05L12.98 -22.54L11.91 -21.03L11.12 -19.52L10.78 -18.01L10.96 -16.51L11.61 -15L12.61 -13.49L13.76 -11.98L14.83 -10.47M17.23 31.6L16.45 30.09L16.11 28.58L16.28 27.07L16.93 25.56L17.93 24.05L19.07 22.54L20.13 21.03L20.91 19.52L21.24 18.01L21.07 16.51L20.43 15L19.44 13.49L18.29 11.98L17.23 10.47M25.4 -31.6L26.17 -30.09L26.5 -28.58L26.33 -27.07L25.69 -25.56L24.71 -24.05L23.57 -22.54L22.51 -21.03L21.74 -19.52L21.4 -18.01L21.58 -16.51L22.22 -15L23.21 -13.49L24.34 -11.98L25.4 -10.47M27.76 31.6L26.99 30.09L26.66 28.58L26.83 27.07L27.47 25.56L28.45 24.05L29.57 22.54L30.61 21.03L31.38 19.52L31.7 18.01L31.54 16.51L30.9 15L29.93 13.49L28.81 11.98L27.76 10.47M35.77 -31.6L36.52 -30.09L36.85 -28.58L36.68 -27.07L36.06 -25.56L35.1 -24.05L33.99 -22.54L32.95 -21.03L32.19 -19.52L31.86 -18.01L32.03 -16.51L32.66 -15L33.63 -13.49L34.74 -11.98L35.77 -10.47M38.08 31.6L37.33 30.09L37 28.58L37.17 27.07L37.79 25.56L38.75 24.05L39.84 22.54L40.86 21.03L41.6 19.52L41.92 18.01L41.76 16.51L41.14 15L40.2 13.49L39.1 11.98L38.08 10.47M45.87 -31.6L46.6 -30.09L46.92 -28.58L46.76 -27.07L46.15 -25.56L45.22 -24.05L44.14 -22.54L43.13 -21.03L42.4 -19.52L42.08 -18.01L42.24 -16.51L42.85 -15L43.79 -13.49L44.87 -11.98L45.87 -10.47M48.11 31.6L47.38 30.09L47.07 28.58L47.23 27.07L47.83 25.56L48.76 24.05L49.82 22.54L50.8 21.03L51.51 19.52L51.82 18.01L51.66 16.51L51.07 15L50.16 13.49L49.1 11.98L48.11 10.47M55.63 -31.6L56.33 -30.09L56.63 -28.58L56.48 -27.07L55.89 -25.56L55 -24.05L53.96 -22.54L52.99 -21.03L52.28 -19.52L51.97 -18.01L52.13 -16.51L52.72 -15L53.63 -13.49L54.66 -11.98L55.63 -10.47M57.77 31.6L57.08 30.09L56.78 28.58L56.93 27.07L57.51 25.56L58.39 24.05L59.41 22.54L60.35 21.03L61.03 19.52L61.33 18.01L61.18 16.51L60.61 15L59.73 13.49L58.72 11.98L57.77 10.47M64.96 -31.6L65.62 -30.09L65.91 -28.58L65.76 -27.07L65.21 -25.56L64.36 -24.05L63.37 -22.54L62.44 -21.03L61.76 -19.52L61.47 -18.01L61.62 -16.51L62.19 -15L63.05 -13.49L64.04 -11.98L64.96 -10.47M67 31.6L66.34 30.09L66.05 28.58L66.2 27.07L66.75 25.56L67.59 24.05L68.55 22.54L69.44 21.03L70.09 19.52L70.37 18.01L70.22 16.51L69.69 15L68.86 13.49L67.9 11.98L67 10.47M73.79 -31.6L74.42 -30.09L74.69 -28.58L74.55 -27.07L74.03 -25.56L73.23 -24.05L72.3 -22.54L71.42 -21.03L70.78 -19.52L70.5 -18.01L70.65 -16.51L71.18 -15L72 -13.49L72.93 -11.98L73.79 -10.47M75.71 31.6L75.09 30.09L74.82 28.58L74.96 27.07L75.48 25.56L76.27 24.05L77.17 22.54L78 21.03L78.61 19.52L78.87 18.01L78.74 16.51L78.23 15L77.46 13.49L76.56 11.98L75.71 10.47M82.07 -31.6L82.65 -30.09L82.9 -28.58L82.77 -27.07L82.29 -25.56L81.54 -24.05L80.67 -22.54L79.86 -21.03L79.26 -19.52L79 -18.01L79.13 -16.51L79.63 -15L80.39 -13.49L81.26 -11.98L82.07 -10.47M83.85 31.6L83.27 30.09L83.02 28.58L83.15 27.07L83.63 25.56L84.36 24.05L85.2 22.54L85.97 21.03L86.53 19.52L86.77 18.01L86.65 16.51L86.19 15L85.47 13.49L84.63 11.98L83.85 10.47M89.72 -31.6L90.25 -30.09L90.48 -28.58L90.36 -27.07L89.92 -25.56L89.23 -24.05L88.43 -22.54L87.68 -21.03L87.13 -19.52L86.89 -18.01L87.01 -16.51L87.47 -15L88.18 -13.49L88.98 -11.98L89.72 -10.47M91.35 31.6L90.82 30.09L90.59 28.58L90.71 27.07L91.15 25.56L91.82 24.05L92.58 22.54L93.29 21.03L93.8 19.52L94.02 18.01L93.91 16.51L93.48 15L92.83 13.49L92.07 11.98L91.35 10.47M96.68 -31.6L97.17 -30.09L97.37 -28.58L97.27 -27.07L96.87 -25.56L96.25 -24.05L95.52 -22.54L94.84 -21.03L94.34 -19.52L94.12 -18.01L94.23 -16.51L94.65 -15L95.29 -13.49L96.01 -11.98L96.68 -10.47M98.15 31.6L97.68 30.09L97.47 28.58L97.58 27.07L97.98 25.56L98.58 24.05L99.26 22.54L99.89 21.03L100.35 19.52L100.54 18.01L100.44 16.51L100.07 15L99.48 13.49L98.8 11.98L98.15 10.47M102.91 -31.6L103.34 -30.09L103.52 -28.58L103.43 -27.07L103.08 -25.56L102.53 -24.05L101.89 -22.54L101.28 -21.03L100.83 -19.52L100.64 -18.01L100.74 -16.51L101.11 -15L101.68 -13.49L102.32 -11.98L102.91 -10.47M104.21 31.6L103.79 30.09L103.61 28.58L103.71 27.07L104.06 25.56L104.59 24.05L105.19 22.54L105.74 21.03L106.14 19.52L106.31 18.01L106.22 16.51L105.89 15L105.38 13.49L104.78 11.98L104.21 10.47M108.36 -31.6L108.73 -30.09L108.89 -28.58L108.81 -27.07L108.5 -25.56L108.03 -24.05L107.47 -22.54L106.95 -21.03L106.56 -19.52L106.39 -18.01L106.48 -16.51L106.8 -15L107.29 -13.49L107.85 -11.98L108.36 -10.47M109.48 31.6L109.12 30.09L108.96 28.58L109.04 27.07L109.34 25.56L109.8 24.05L110.31 22.54L110.78 21.03L111.12 19.52L111.26 18.01L111.19 16.51L110.91 15L110.47 13.49L109.96 11.98L109.48 10.47M112.98 -31.6L113.29 -30.09L113.42 -28.58L113.35 -27.07L113.1 -25.56L112.71 -24.05L112.24 -22.54L111.8 -21.03L111.47 -19.52L111.33 -18.01L111.4 -16.51L111.68 -15L112.09 -13.49L112.56 -11.98L112.98 -10.47M113.91 31.6L113.61 30.09L113.48 28.58L113.55 27.07L113.8 25.56L114.17 24.05L114.59 22.54L114.98 21.03L115.25 19.52L115.37 18.01L115.31 16.51L115.08 15L114.73 13.49L114.31 11.98L113.91 10.47M116.75 -31.6L116.99 -30.09L117.09 -28.58L117.04 -27.07L116.84 -25.56L116.53 -24.05L116.16 -22.54L115.8 -21.03L115.54 -19.52L115.42 -18.01L115.48 -16.51L115.7 -15L116.04 -13.49L116.41 -11.98L116.75 -10.47M117.47 31.6L117.24 30.09L117.14 28.58L117.19 27.07L117.39 25.56L117.68 24.05L118 22.54L118.3 21.03L118.51 19.52L118.59 18.01L118.55 16.51L118.38 15L118.11 13.49L117.78 11.98L117.47 10.47M119.62 -31.6L119.8 -30.09L119.87 -28.58L119.83 -27.07L119.69 -25.56L119.46 -24.05L119.19 -22.54L118.92 -21.03L118.72 -19.52L118.64 -18.01L118.68 -16.51L118.85 -15L119.1 -13.49L119.37 -11.98L119.62 -10.47M120.14 31.6L119.98 30.09L119.91 28.58L119.94 27.07L120.08 25.56L120.29 24.05L120.52 22.54L120.72 21.03L120.86 19.52L120.92 18.01L120.89 16.51L120.77 15L120.59 13.49L120.36 11.98L120.14 10.47M121.59 -31.6L121.69 -30.09L121.74 -28.58L121.72 -27.07L121.63 -25.56L121.48 -24.05L121.31 -22.54L121.14 -21.03L121.01 -19.52L120.95 -18.01L120.98 -16.51L121.09 -15L121.25 -13.49L121.43 -11.98L121.59 -10.47M121.9 31.6L121.8 30.09L121.76 28.58L121.78 27.07L121.86 25.56L121.98 24.05L122.11 22.54L122.22 21.03L122.3 19.52L122.33 18.01L122.31 16.51L122.25 15L122.15 13.49L122.03 11.98L121.9 10.47M122.62 -31.6L122.66 -30.09L122.68 -28.58L122.67 -27.07L122.64 -25.56L122.58 -24.05L122.51 -22.54L122.43 -21.03L122.37 -19.52L122.34 -18.01L122.35 -16.51L122.41 -15L122.48 -13.49L122.56 -11.98L122.62 -10.47M122.73 31.6L122.7 30.09L122.69 28.58L122.69 27.07L122.72 25.56L122.75 24.05L122.78 22.54L122.79 21.03L122.8 19.52L122.8 18.01L122.8 16.51L122.8 15L122.79 13.49L122.76 11.98L122.73 10.47M122.8 -31.6L122.8 -30.09L122.8 -28.58L122.8 -27.07L122.8 -25.56L122.8 -24.05L122.8 -22.54L122.8 -21.03L122.8 -19.52L122.8 -18.01L122.8 -16.51L122.8 -15L122.8 -13.49L122.8 -11.98L122.8 -10.47M122.8 31.6L122.8 30.09L122.8 28.58L122.8 27.07L122.8 25.56L122.8 24.05L122.8 22.54L122.8 21.03L122.8 19.52L122.8 18.01L122.8 16.51L122.8 15L122.8 13.49L122.8 11.98L122.8 10.47" stroke-width="1.3" stroke-linejoin="round"/>
<rect x="-122.8" y="-8.7" width="245.6" height="17.4" fill="#fff" stroke="none"/>
<line x1="-122.8" y1="-8.2" x2="122.8" y2="-8.2" stroke-width="3.2"/>
<line x1="-122.8" y1="8.2" x2="122.8" y2="8.2" stroke-width="3.2"/>
<line x1="-122.8" y1="-2.6" x2="122.8" y2="-2.6" stroke-width="0.85"/>
<line x1="-122.8" y1="0" x2="122.8" y2="0" stroke-width="1"/>
<line x1="-122.8" y1="2.6" x2="122.8" y2="2.6" stroke-width="0.85"/>
<path d="M-122.45 -7.5L-122.19 -7.5L-122.19 7.5L-122.45 7.5ZM-119 -7.5L-118.22 -7.5L-118.22 7.5L-119 7.5ZM-111.92 -7.5L-110.65 -7.5L-110.65 7.5L-111.92 7.5ZM-101.44 -7.5L-99.72 -7.5L-99.72 7.5L-101.44 7.5ZM-87.89 -7.5L-85.77 -7.5L-85.77 7.5L-87.89 7.5ZM-71.66 -7.5L-69.2 -7.5L-69.2 7.5L-71.66 7.5ZM-53.25 -7.5L-50.53 -7.5L-50.53 7.5L-53.25 7.5ZM-33.23 -7.5L-30.33 -7.5L-30.33 7.5L-33.23 7.5ZM-12.2 -7.5L-9.21 -7.5L-9.21 7.5L-12.2 7.5ZM9.21 -7.5L12.2 -7.5L12.2 7.5L9.21 7.5ZM30.33 -7.5L33.23 -7.5L33.23 7.5L30.33 7.5ZM50.53 -7.5L53.25 -7.5L53.25 7.5L50.53 7.5ZM69.2 -7.5L71.66 -7.5L71.66 7.5L69.2 7.5ZM85.77 -7.5L87.89 -7.5L87.89 7.5L85.77 7.5ZM99.72 -7.5L101.44 -7.5L101.44 7.5L99.72 7.5ZM110.65 -7.5L111.92 -7.5L111.92 7.5L110.65 7.5ZM118.22 -7.5L119 -7.5L119 7.5L118.22 7.5ZM122.19 -7.5L122.45 -7.5L122.45 7.5L122.19 7.5Z" fill="#000" stroke="none"/>
</g>
</g>
<rect x="435.7" y="83.3" width="8.8" height="155.2" stroke="#000" stroke-width="1.1" fill="#fff"/>
<line x1="437.9" y1="85.6" x2="444.5" y2="85.6" stroke="#000" stroke-width="0.9"/>
<line x1="437.9" y1="88" x2="444.5" y2="88" stroke="#000" stroke-width="0.9"/>
<line x1="437.9" y1="90.4" x2="444.5" y2="90.4" stroke="#000" stroke-width="0.9"/>
<line x1="437.9" y1="93.6" x2="444.5" y2="93.6" stroke="#000" stroke-width="0.9"/>
<line x1="437.9" y1="83.3" x2="437.9" y2="93.6" stroke="#000" stroke-width="0.8"/>
<rect x="534.3" y="83.3" width="8.4" height="155.2" stroke="#000" stroke-width="1.1" fill="#fff"/>
<line x1="536.5" y1="85.6" x2="542.7" y2="85.6" stroke="#000" stroke-width="0.9"/>
<line x1="536.5" y1="88" x2="542.7" y2="88" stroke="#000" stroke-width="0.9"/>
<line x1="536.5" y1="90.4" x2="542.7" y2="90.4" stroke="#000" stroke-width="0.9"/>
<line x1="536.5" y1="93.6" x2="542.7" y2="93.6" stroke="#000" stroke-width="0.9"/>
<line x1="536.5" y1="83.3" x2="536.5" y2="93.6" stroke="#000" stroke-width="0.8"/>
<rect x="444.5" y="200.6" width="5.5" height="26" stroke="#000" stroke-width="1" fill="#fff"/>
<line x1="446.45" y1="200.6" x2="446.45" y2="226.6" stroke="#000" stroke-width="0.8"/>
<line x1="448.25" y1="200.6" x2="448.25" y2="226.6" stroke="#000" stroke-width="0.8"/>
<rect x="528.4" y="200.6" width="5.9" height="26" stroke="#000" stroke-width="1" fill="#fff"/>
<line x1="530.55" y1="200.6" x2="530.55" y2="226.6" stroke="#000" stroke-width="0.8"/>
<line x1="532.35" y1="200.6" x2="532.35" y2="226.6" stroke="#000" stroke-width="0.8"/>
<path d="M419.5 202.4 L433.2 202.4 L433.2 224.8 L419.5 224.8 Q417.2 224.8 417.2 221.5 L417.2 205.7 Q417.2 202.4 419.5 202.4 Z" stroke="#000" stroke-width="1.7" fill="#fff"/>
<line x1="417.2" y1="208.2" x2="433.2" y2="208.2" stroke="#000" stroke-width="1.3"/>
<line x1="417.2" y1="219.2" x2="433.2" y2="219.2" stroke="#000" stroke-width="1.3"/>
<line x1="420" y1="202.4" x2="420" y2="224.8" stroke="#000" stroke-width="1.2"/>
<rect x="433.2" y="200.6" width="2.5" height="26" stroke="#000" stroke-width="1.2" fill="#fff"/>
<path d="M542.7 202.4 L552.5 202.4 Q554.8 202.4 554.8 205.7 L554.8 221.5 Q554.8 224.8 552.5 224.8 L542.7 224.8 Z" stroke="#000" stroke-width="1.5" fill="#fff"/>
<line x1="542.7" y1="208.2" x2="554.8" y2="208.2" stroke="#000" stroke-width="1.2"/>
<line x1="542.7" y1="219.2" x2="554.8" y2="219.2" stroke="#000" stroke-width="1.2"/>
<rect x="450.2" y="53.8" width="78.8" height="20.1" stroke="#000" stroke-width="1.1" fill="#fff"/>
<line x1="447.3" y1="54.7" x2="532.7" y2="54.7" stroke="#000" stroke-width="1.8"/>
<rect x="422.7" y="43.8" width="132.8" height="10" stroke="#000" stroke-width="1.15" fill="#fff"/>
<line x1="437.9" y1="43.8" x2="437.9" y2="53.8" stroke="#000" stroke-width="1"/>
<line x1="541" y1="43.8" x2="541" y2="53.8" stroke="#000" stroke-width="1"/>
<rect x="431.4" y="73.9" width="116.7" height="9.4" stroke="#000" stroke-width="1.15" fill="#fff"/>
<line x1="439.5" y1="73.9" x2="439.5" y2="83.3" stroke="#000" stroke-width="1"/>
<line x1="540" y1="73.9" x2="540" y2="83.3" stroke="#000" stroke-width="1"/>
<path d="M456.9 83.4 L521.7 83.4 L516.5 85.6 Q511 87.9 504 87.9 L474.5 87.9 Q468 87.9 462.2 85.6 Z" stroke="#000" stroke-width="0.6" fill="#000"/>
<line x1="489.3" y1="87.9" x2="489.3" y2="91.5" stroke="#000" stroke-width="1.6"/>
<rect x="530.2" y="212.8" width="1.7" height="1.7" fill="#ff0000"/>
<line x1="583.2" y1="0" x2="583.2" y2="5.2" stroke="#ff0000" stroke-width="1.2"/>
<line x1="581.6" y1="27.2" x2="581.6" y2="336.6" stroke="#4f6ec2" stroke-width="1"/>
<line x1="555.5" y1="44.2" x2="583.6" y2="44.2" stroke="#4f6ec2" stroke-width="1"/>
<line x1="555.5" y1="53.9" x2="583.6" y2="53.9" stroke="#4f6ec2" stroke-width="1"/>
<line x1="548.1" y1="73.7" x2="583.6" y2="73.7" stroke="#4f6ec2" stroke-width="1"/>
<line x1="548.1" y1="83.4" x2="583.6" y2="83.4" stroke="#4f6ec2" stroke-width="1"/>
<line x1="530.5" y1="213.6" x2="584.6" y2="213.6" stroke="#4f6ec2" stroke-width="1"/>
<line x1="491.4" y1="336.6" x2="584.6" y2="336.6" stroke="#4f6ec2" stroke-width="1"/>
<polyline points="579.5,35.7 581.6,44.2 583.7,35.7" stroke="#4f6ec2" stroke-width="1" fill="none"/>
<polyline points="583.7,62.4 581.6,53.9 579.5,62.4" stroke="#4f6ec2" stroke-width="1" fill="none"/>
<polyline points="579.5,65.2 581.6,73.7 583.7,65.2" stroke="#4f6ec2" stroke-width="1" fill="none"/>
<polyline points="583.7,91.9 581.6,83.4 579.5,91.9" stroke="#4f6ec2" stroke-width="1" fill="none"/>
<polyline points="579.5,205.1 581.6,213.6 583.7,205.1" stroke="#4f6ec2" stroke-width="1" fill="none"/>
<polyline points="583.7,222.1 581.6,213.6 579.5,222.1" stroke="#4f6ec2" stroke-width="1" fill="none"/>
<polyline points="579.5,328.1 581.6,336.6 583.7,328.1" stroke="#4f6ec2" stroke-width="1" fill="none"/>
<polyline points="597.3,33.6 597.3,49.9 581.6,48.5" stroke="#4f6ec2" stroke-width="1" fill="none"/>
<polyline points="581.6,78.6 599.7,79.3 599.7,95.6" stroke="#4f6ec2" stroke-width="1" fill="none"/>
<text x="595.6" y="41.3" font-size="14" text-anchor="middle" fill="#ff0000" font-family="'Liberation Serif','Noto Serif CJK SC',serif" transform="rotate(-90 595.6 41.3)" textLength="12.5" lengthAdjust="spacingAndGlyphs">10</text>
<text x="579" y="63.6" font-size="14" text-anchor="middle" fill="#ff0000" font-family="'Liberation Serif','Noto Serif CJK SC',serif" transform="rotate(-90 579 63.6)" textLength="12.5" lengthAdjust="spacingAndGlyphs">20</text>
<text x="597.6" y="87.6" font-size="14" text-anchor="middle" fill="#ff0000" font-family="'Liberation Serif','Noto Serif CJK SC',serif" transform="rotate(-90 597.6 87.6)" textLength="12.5" lengthAdjust="spacingAndGlyphs">10</text>
<text x="579" y="148.5" font-size="14" text-anchor="middle" fill="#ff0000" font-family="'Liberation Serif','Noto Serif CJK SC',serif" transform="rotate(-90 579 148.5)" textLength="21" lengthAdjust="spacingAndGlyphs">133</text>
<text x="579" y="275.5" font-size="14" text-anchor="middle" fill="#ff0000" font-family="'Liberation Serif','Noto Serif CJK SC',serif" transform="rotate(-90 579 275.5)" textLength="21" lengthAdjust="spacingAndGlyphs">125</text>
<text x="414.2" y="100" font-size="14" text-anchor="middle" fill="#ff0000" font-family="'Liberation Serif','Noto Serif CJK SC',serif" textLength="5.6" lengthAdjust="spacingAndGlyphs">8</text>
<line x1="435.9" y1="84" x2="435.9" y2="104.5" stroke="#4f6ec2" stroke-width="1"/>
<line x1="444.4" y1="84" x2="444.4" y2="104.5" stroke="#4f6ec2" stroke-width="1"/>
<line x1="411" y1="103.2" x2="435.7" y2="103.2" stroke="#4f6ec2" stroke-width="1"/>
<polyline points="427.2,105.3 435.7,103.2 427.2,101.1" stroke="#4f6ec2" stroke-width="1" fill="none"/>
<line x1="444.5" y1="103.2" x2="461" y2="103.2" stroke="#4f6ec2" stroke-width="1"/>
<polyline points="453,101.1 444.5,103.2 453,105.3" stroke="#4f6ec2" stroke-width="1" fill="none"/>
<line x1="450" y1="268" x2="450" y2="365" stroke="#4f6ec2" stroke-width="1"/>
<line x1="528.5" y1="310" x2="528.5" y2="365" stroke="#4f6ec2" stroke-width="1"/>
<line x1="444.6" y1="238.5" x2="444.6" y2="383" stroke="#4f6ec2" stroke-width="1"/>
<line x1="534.3" y1="238.5" x2="534.3" y2="383" stroke="#4f6ec2" stroke-width="1"/>
<line x1="436" y1="238.5" x2="436" y2="402" stroke="#4f6ec2" stroke-width="1"/>
<line x1="542.7" y1="238.5" x2="542.7" y2="402" stroke="#4f6ec2" stroke-width="1"/>
<line x1="450" y1="362" x2="528.5" y2="362" stroke="#4f6ec2" stroke-width="1"/>
<polyline points="458.5,359.9 450,362 458.5,364.1" stroke="#4f6ec2" stroke-width="1" fill="none"/>
<polyline points="520,364.1 528.5,362 520,359.9" stroke="#4f6ec2" stroke-width="1" fill="none"/>
<line x1="444.6" y1="380.2" x2="534.3" y2="380.2" stroke="#4f6ec2" stroke-width="1"/>
<polyline points="453.1,378.1 444.6,380.2 453.1,382.3" stroke="#4f6ec2" stroke-width="1" fill="none"/>
<polyline points="525.8,382.3 534.3,380.2 525.8,378.1" stroke="#4f6ec2" stroke-width="1" fill="none"/>
<line x1="436" y1="399.2" x2="542.7" y2="399.2" stroke="#4f6ec2" stroke-width="1"/>
<polyline points="444.5,397.1 436,399.2 444.5,401.3" stroke="#4f6ec2" stroke-width="1" fill="none"/>
<polyline points="534.2,401.3 542.7,399.2 534.2,397.1" stroke="#4f6ec2" stroke-width="1" fill="none"/>
<text x="489.5" y="358.8" font-size="14" text-anchor="middle" fill="#ff0000" font-family="'Liberation Serif','Noto Serif CJK SC',serif" textLength="13.5" lengthAdjust="spacingAndGlyphs">80</text>
<text x="489.5" y="377" font-size="14" text-anchor="middle" fill="#ff0000" font-family="'Liberation Serif','Noto Serif CJK SC',serif" textLength="13.5" lengthAdjust="spacingAndGlyphs">92</text>
<text x="489.5" y="396.4" font-size="14" text-anchor="middle" fill="#ff0000" font-family="'Liberation Serif','Noto Serif CJK SC',serif" textLength="19.5" lengthAdjust="spacingAndGlyphs">108</text>
</g>
<g id="v3">
<path d="M673.8 83 C673.8 100 675.5 117 686.5 131" stroke="#000" stroke-width="1.3" fill="none"/>
<path d="M754.0 83 C754.5 88 757 91.5 764 92" stroke="#000" stroke-width="1.4" fill="none"/>
<path d="M651 214A122 122 0 1 0 895 214A122 122 0 1 0 651 214ZM680.5 214A92.5 92.5 0 1 0 865.5 214A92.5 92.5 0 1 0 680.5 214Z" fill="#fff" fill-rule="evenodd"/>
<clipPath id="hc1"><path d="M651 214A122 122 0 1 0 895 214A122 122 0 1 0 651 214ZM680.5 214A92.5 92.5 0 1 0 865.5 214A92.5 92.5 0 1 0 680.5 214Z" clip-rule="evenodd"/></clipPath>
<path d="M519.37 194.06L788.55 -39.93M523.18 198.44L792.36 -35.56M526.98 202.82L796.16 -31.18M530.79 207.19L799.97 -26.8M534.59 211.57L803.77 -22.42M538.4 215.95L807.58 -18.05M542.2 220.33L811.38 -13.67M546.01 224.7L815.19 -9.29M549.81 229.08L819 -4.91M553.62 233.46L822.8 -0.54M557.42 237.84L826.61 3.84M561.23 242.21L830.41 8.22M565.03 246.59L834.22 12.59M568.84 250.97L838.02 16.97M572.65 255.34L841.83 21.35M576.45 259.72L845.63 25.73M580.26 264.1L849.44 30.1M584.06 268.48L853.24 34.48M587.87 272.85L857.05 38.86M591.67 277.23L860.85 43.24M595.48 281.61L864.66 47.61M599.28 285.99L868.46 51.99M603.09 290.36L872.27 56.37M606.89 294.74L876.07 60.74M610.7 299.12L879.88 65.12M614.5 303.49L883.68 69.5M618.31 307.87L887.49 73.88M622.11 312.25L891.29 78.25M625.92 316.63L895.1 82.63M629.72 321L898.9 87.01M633.53 325.38L902.71 91.39M637.33 329.76L906.51 95.76M641.14 334.14L910.32 100.14M644.94 338.51L914.12 104.52M648.75 342.89L917.93 108.9M652.55 347.27L921.73 113.27M656.36 351.65L925.54 117.65M660.16 356.02L929.34 122.03M663.97 360.4L933.15 126.4M667.77 364.78L936.95 130.78M671.58 369.15L940.76 135.16M675.38 373.53L944.56 139.54M679.19 377.91L948.37 143.91M682.99 382.29L952.18 148.29M686.8 386.66L955.98 152.67M690.6 391.04L959.79 157.05M694.41 395.42L963.59 161.42M698.21 399.8L967.4 165.8M702.02 404.17L971.2 170.18M705.83 408.55L975.01 174.56M709.63 412.93L978.81 178.93M713.44 417.31L982.62 183.31M717.24 421.68L986.42 187.69M721.05 426.06L990.23 192.06M724.85 430.44L994.03 196.44M728.66 434.81L997.84 200.82M732.46 439.19L1001.64 205.2M736.27 443.57L1005.45 209.57M740.07 447.95L1009.25 213.95M743.88 452.32L1013.06 218.33M747.68 456.7L1016.86 222.71M751.49 461.08L1020.67 227.08M755.29 465.46L1024.47 231.46M759.1 469.83L1028.28 235.84" stroke="#0000ff" stroke-width="1.15" fill="none" clip-path="url(#hc1)"/>
<circle cx="773" cy="214" r="122" stroke="#000" stroke-width="2" fill="none"/>
<path d="M680.5 214A92.5 92.5 0 1 0 865.5 214A92.5 92.5 0 1 0 680.5 214Z" fill="#fff" fill-rule="evenodd"/>
<clipPath id="hc2"><path d="M680.5 214A92.5 92.5 0 1 0 865.5 214A92.5 92.5 0 1 0 680.5 214Z"/></clipPath>
<path d="M772.85 17.06L969.83 207.27M768.62 21.44L965.59 211.66M764.38 25.83L961.35 216.05M760.14 30.22L957.12 220.44M755.9 34.61L952.88 224.83M751.67 39L948.64 229.21M747.43 43.38L944.4 233.6M743.19 47.77L940.17 237.99M738.95 52.16L935.93 242.38M734.72 56.55L931.69 246.77M730.48 60.94L927.46 251.15M726.24 65.32L923.22 255.54M722 69.71L918.98 259.93M717.77 74.1L914.74 264.32M713.53 78.49L910.51 268.71M709.29 82.88L906.27 273.09M705.05 87.26L902.03 277.48M700.82 91.65L897.79 281.87M696.58 96.04L893.56 286.26M692.34 100.43L889.32 290.65M688.1 104.82L885.08 295.03M683.87 109.2L880.84 299.42M679.63 113.59L876.61 303.81M675.39 117.98L872.37 308.2M671.16 122.37L868.13 312.58M666.92 126.75L863.89 316.97M662.68 131.14L859.66 321.36M658.44 135.53L855.42 325.75M654.21 139.92L851.18 330.14M649.97 144.31L846.94 334.52M645.73 148.69L842.71 338.91M641.49 153.08L838.47 343.3M637.26 157.47L834.23 347.69M633.02 161.86L829.99 352.08M628.78 166.25L825.76 356.46M624.54 170.63L821.52 360.85M620.31 175.02L817.28 365.24M616.07 179.41L813.05 369.63M611.83 183.8L808.81 374.02M607.59 188.19L804.57 378.4M603.36 192.57L800.33 382.79M599.12 196.96L796.1 387.18M594.88 201.35L791.86 391.57M590.64 205.74L787.62 395.96M586.41 210.13L783.38 400.34M582.17 214.51L779.15 404.73M577.93 218.9L774.91 409.12" stroke="#ffff00" stroke-width="1.25" fill="none" clip-path="url(#hc2)"/>
<circle cx="773" cy="214" r="92.5" stroke="#000" stroke-width="1.1" fill="none"/>
<circle cx="892.23" cy="230.76" r="0.7" stroke="#000" stroke-width="0" fill="#000"/>
<circle cx="877.27" cy="274.2" r="0.7" stroke="#000" stroke-width="0" fill="#000"/>
<circle cx="847.13" cy="308.88" r="0.7" stroke="#000" stroke-width="0" fill="#000"/>
<circle cx="806.19" cy="329.74" r="0.7" stroke="#000" stroke-width="0" fill="#000"/>
<circle cx="760.41" cy="333.74" r="0.7" stroke="#000" stroke-width="0" fill="#000"/>
<circle cx="716.48" cy="320.31" r="0.7" stroke="#000" stroke-width="0" fill="#000"/>
<circle cx="680.77" cy="291.39" r="0.7" stroke="#000" stroke-width="0" fill="#000"/>
<circle cx="658.49" cy="251.21" r="0.7" stroke="#000" stroke-width="0" fill="#000"/>
<circle cx="652.89" cy="205.6" r="0.7" stroke="#000" stroke-width="0" fill="#000"/>
<circle cx="664.79" cy="161.22" r="0.7" stroke="#000" stroke-width="0" fill="#000"/>
<circle cx="692.44" cy="124.53" r="0.7" stroke="#000" stroke-width="0" fill="#000"/>
<circle cx="731.82" cy="100.86" r="0.7" stroke="#000" stroke-width="0" fill="#000"/>
<circle cx="777.2" cy="93.67" r="0.7" stroke="#000" stroke-width="0" fill="#000"/>
<circle cx="821.97" cy="104.01" r="0.7" stroke="#000" stroke-width="0" fill="#000"/>
<circle cx="859.61" cy="130.36" r="0.7" stroke="#000" stroke-width="0" fill="#000"/>
<circle cx="884.63" cy="168.9" r="0.7" stroke="#000" stroke-width="0" fill="#000"/>
<circle cx="773" cy="214" r="19.8" stroke="#000" stroke-width="1.1" fill="#fff"/>
<path d="M791.61 220.77 A19.8 19.8 0 0 1 764.63 231.94" stroke="#000" stroke-width="2.6" fill="none" stroke-dasharray="2.2 0.8"/>
<path d="M761 214A12 12 0 1 0 785 214A12 12 0 1 0 761 214Z" fill="#fff" fill-rule="evenodd"/>
<clipPath id="hc3"><path d="M761 214A12 12 0 1 0 785 214A12 12 0 1 0 761 214Z"/></clipPath>
<path d="M773.39 186.21L800.79 213.61M771.7 187.91L799.09 215.3M770 189.61L797.39 217M768.3 191.3L795.7 218.7M766.61 193L794 220.39M764.91 194.7L792.3 222.09M763.21 196.39L790.61 223.79M761.51 198.09L788.91 225.49M759.82 199.79L787.21 227.18M758.12 201.49L785.51 228.88M756.42 203.18L783.82 230.58M754.73 204.88L782.12 232.27M753.03 206.58L780.42 233.97M751.33 208.27L778.73 235.67M749.63 209.97L777.03 237.37M747.94 211.67L775.33 239.06M746.24 213.37L773.63 240.76M744.54 215.06L771.94 242.46" stroke="#0000ff" stroke-width="1" fill="none" clip-path="url(#hc3)"/>
<circle cx="773" cy="214" r="12" stroke="#000" stroke-width="1" fill="none"/>
<circle cx="773" cy="214" r="9" stroke="#00d0d0" stroke-width="1.4" fill="#fff" stroke-dasharray="1.6 1.6"/>
<path d="M765.7 214A7.3 7.3 0 1 0 780.3 214A7.3 7.3 0 1 0 765.7 214Z" fill="#fff" fill-rule="evenodd"/>
<clipPath id="hc4"><path d="M765.7 214A7.3 7.3 0 1 0 780.3 214A7.3 7.3 0 1 0 765.7 214Z"/></clipPath>
<path d="M753.68 214.14L769.78 194.95M755.37 215.55L771.47 196.37M757.05 216.97L773.15 197.78M758.74 218.38L774.84 199.19M760.42 219.8L776.52 200.61M762.11 221.21L778.21 202.02M763.79 222.62L779.89 203.44M765.48 224.04L781.58 204.85M767.16 225.45L783.26 206.26M768.85 226.87L784.95 207.68M770.54 228.28L786.64 209.09M772.22 229.69L788.32 210.51M773.91 231.11L790.01 211.92M775.59 232.52L791.69 213.34" stroke="#ff00ff" stroke-width="1.15" fill="none" clip-path="url(#hc4)"/>
<circle cx="773" cy="214" r="7.3" stroke="#000" stroke-width="0.6" fill="none"/>
<path d="M659.9 44 L700.5 44 L705.5 53.2 L659.9 53.2 Z" stroke="none" stroke-width="0" fill="#fff"/>
<clipPath id="hc5"><path d="M659.9 44 L700.5 44 L705.5 53.2 L659.9 53.2 Z"/></clipPath>
<path d="M683.45 10.85L720.45 47.85M681.4 12.9L718.4 49.9M679.35 14.95L716.35 51.95M677.3 17L714.3 54M675.25 19.05L712.25 56.05M673.2 21.11L710.19 58.1M671.15 23.16L708.14 60.15M669.1 25.21L706.09 62.2M667.05 27.26L704.04 64.25M665 29.31L701.99 66.3M662.95 31.36L699.94 68.35M660.9 33.41L697.89 70.4M658.85 35.46L695.84 72.45M656.79 37.51L693.79 74.51M654.74 39.56L691.74 76.56M652.69 41.61L689.69 78.61M650.64 43.66L687.64 80.66M648.59 45.71L685.59 82.71M646.54 47.76L683.54 84.76M644.49 49.81L681.49 86.81" stroke="#00ffff" stroke-width="1.25" fill="none" clip-path="url(#hc5)"/>
<path d="M659.9 44 L700.5 44 L705.5 53.2 L659.9 53.2 Z" stroke="#000" stroke-width="1" fill="none"/>
<path d="M729.5 44 L769 44 L769 53.2 L723.5 53.2 Z" stroke="none" stroke-width="0" fill="#fff"/>
<clipPath id="hc6"><path d="M729.5 44 L769 44 L769 53.2 L723.5 53.2 Z"/></clipPath>
<path d="M748.07 9.85L785 46.78M746.02 11.9L782.95 48.83M743.97 13.95L780.9 50.88M741.92 16L778.85 52.93M739.87 18.05L776.8 54.98M737.82 20.11L774.74 57.03M735.77 22.16L772.69 59.08M733.72 24.21L770.64 61.13M731.67 26.26L768.59 63.18M729.62 28.31L766.54 65.23M727.57 30.36L764.49 67.28M725.52 32.41L762.44 69.33M723.46 34.46L760.39 71.39M721.41 36.51L758.34 73.44M719.36 38.56L756.29 75.49M717.31 40.61L754.24 77.54M715.26 42.66L752.19 79.59M713.21 44.71L750.14 81.64M711.16 46.76L748.09 83.69M709.11 48.81L746.04 85.74" stroke="#00ffff" stroke-width="1.25" fill="none" clip-path="url(#hc6)"/>
<path d="M729.5 44 L769 44 L769 53.2 L723.5 53.2 Z" stroke="#000" stroke-width="1" fill="none"/>
<path d="M690.5 50.6L703 50.6L703 55.6L690.5 55.6Z" stroke="none" stroke-width="0" fill="#fff"/>
<clipPath id="hc7"><path d="M690.5 50.6L703 50.6L703 55.6L690.5 55.6Z"/></clipPath>
<path d="M698.26 37.97L711.88 51.59M696.21 40.02L709.83 53.64M694.16 42.07L707.78 55.69M692.11 44.12L705.73 57.74M690.06 46.17L703.68 59.79M688.01 48.22L701.63 61.84M685.96 50.27L699.58 63.89M683.91 52.32L697.53 65.94M681.86 54.37L695.48 67.99" stroke="#00ffff" stroke-width="1.25" fill="none" clip-path="url(#hc7)"/>
<path d="M690.5 50.6L703 50.6L703 55.6L690.5 55.6Z" stroke="#000" stroke-width="0.7" fill="none"/>
<path d="M725.5 50.6L737 50.6L737 55.6L725.5 55.6Z" stroke="none" stroke-width="0" fill="#fff"/>
<clipPath id="hc8"><path d="M725.5 50.6L737 50.6L737 55.6L725.5 55.6Z"/></clipPath>
<path d="M732.24 39.14L745.21 52.11M730.19 41.19L743.16 54.16M728.14 43.24L741.11 56.21M726.09 45.29L739.06 58.26M724.04 47.34L737.01 60.31M721.99 49.39L734.96 62.36M719.94 51.44L732.91 64.41M717.89 53.49L730.86 66.46" stroke="#00ffff" stroke-width="1.25" fill="none" clip-path="url(#hc8)"/>
<path d="M725.5 50.6L737 50.6L737 55.6L725.5 55.6Z" stroke="#000" stroke-width="0.7" fill="none"/>
<rect x="677" y="53.2" width="6" height="9.3" stroke="#000" stroke-width="0.8" fill="#000"/>
<path d="M746.2 53.2L753.6 53.2L753.6 64.8L746.2 64.8Z" stroke="none" stroke-width="0" fill="#fff"/>
<clipPath id="hc9"><path d="M746.2 53.2L753.6 53.2L753.6 64.8L746.2 64.8Z"/></clipPath>
<path d="M750.88 44.9L764 58.02M749.18 46.6L762.3 59.72M747.48 48.29L760.61 61.42M745.78 49.99L758.91 63.12M744.09 51.69L757.21 64.81M742.39 53.39L755.51 66.51M740.69 55.08L753.82 68.21M739 56.78L752.12 69.9M737.3 58.48L750.42 71.6M735.6 60.17L748.73 73.3" stroke="#0000ff" stroke-width="1" fill="none" clip-path="url(#hc9)"/>
<path d="M746.2 53.2L753.6 53.2L753.6 64.8L746.2 64.8Z" stroke="#000" stroke-width="0.8" fill="none"/>
<path d="M675.6 53.6L680 53.6L680 61.5L675.6 61.5Z" stroke="none" stroke-width="0" fill="#fff"/>
<clipPath id="hc10"><path d="M675.6 53.6L680 53.6L680 61.5L675.6 61.5Z"/></clipPath>
<path d="M678.43 47.13L688.22 56.92M676.74 48.83L686.52 58.61M675.04 50.52L684.83 60.31M673.34 52.22L683.13 62.01M671.65 53.92L681.43 63.7M669.95 55.61L679.74 65.4M668.25 57.31L678.04 67.1M666.55 59.01L676.34 68.8" stroke="#0000ff" stroke-width="1" fill="none" clip-path="url(#hc10)"/>
<path d="M675.6 53.6L680 53.6L680 61.5L675.6 61.5Z" stroke="#000" stroke-width="0.7" fill="none"/>
<path d="M683.2 50.8L690.6 50.8L690.6 62.3L683.2 62.3Z" stroke="none" stroke-width="0" fill="#fff"/>
<clipPath id="hc11"><path d="M683.2 50.8L690.6 50.8L690.6 62.3L683.2 62.3Z"/></clipPath>
<path d="M672.88 56.85L684.76 42.7M674.72 58.39L686.6 44.24M676.56 59.93L688.44 45.78M678.4 61.48L690.27 47.32M680.24 63.02L692.11 48.87M682.08 64.56L693.95 50.41M683.91 66.1L695.79 51.95M685.75 67.65L697.63 53.49M687.59 69.19L699.47 55.04M689.43 70.73L701.31 56.58" stroke="#00ff00" stroke-width="1.25" fill="none" clip-path="url(#hc11)"/>
<path d="M683.2 50.8L690.6 50.8L690.6 62.3L683.2 62.3Z" stroke="#000" stroke-width="0.8" fill="none"/>
<path d="M737.2 50.8L746 50.8L746 63L737.2 63Z" stroke="none" stroke-width="0" fill="#fff"/>
<clipPath id="hc12"><path d="M737.2 50.8L746 50.8L746 63L737.2 63Z"/></clipPath>
<path d="M726.13 56.87L738.88 41.67M727.97 58.41L740.72 43.21M729.8 59.95L742.56 44.75M731.64 61.5L744.4 46.3M733.48 63.04L746.24 47.84M735.32 64.58L748.07 49.38M737.16 66.12L749.91 50.92M739 67.67L751.75 52.47M740.84 69.21L753.59 54.01M742.67 70.75L755.43 55.55M744.51 72.3L757.27 57.09" stroke="#00ff00" stroke-width="1.25" fill="none" clip-path="url(#hc12)"/>
<path d="M737.2 50.8L746 50.8L746 63L737.2 63Z" stroke="#000" stroke-width="0.8" fill="none"/>
<line x1="690.6" y1="56.8" x2="705.5" y2="56.8" stroke="#000" stroke-width="1.3"/>
<line x1="723.2" y1="56.8" x2="737.2" y2="56.8" stroke="#000" stroke-width="1.3"/>
<line x1="690.6" y1="58.8" x2="705.5" y2="58.8" stroke="#000" stroke-width="0.7"/>
<line x1="723.2" y1="58.8" x2="737.2" y2="58.8" stroke="#000" stroke-width="0.7"/>
<path d="M675.6 65.6 L694 65.6 L694 79 L689.8 84.7 L683 84.7 L683 74.7 L675.6 74.7 Z" stroke="none" stroke-width="0" fill="#fff"/>
<clipPath id="hc13"><path d="M675.6 65.6 L694 65.6 L694 79 L689.8 84.7 L683 84.7 L683 74.7 L675.6 74.7 Z"/></clipPath>
<path d="M686.25 51.55L708.4 73.7M684.55 53.25L706.7 75.4M682.86 54.95L705 77.09M681.16 56.64L703.31 78.79M679.46 58.34L701.61 80.49M677.77 60.04L699.91 82.18M676.07 61.73L698.22 83.88M674.37 63.43L696.52 85.58M672.67 65.13L694.82 87.28M670.98 66.83L693.12 88.97M669.28 68.52L691.43 90.67M667.58 70.22L689.73 92.37M665.89 71.92L688.03 94.06M664.19 73.61L686.34 95.76M662.49 75.31L684.64 97.46" stroke="#0000ff" stroke-width="1" fill="none" clip-path="url(#hc13)"/>
<path d="M675.6 65.6 L694 65.6 L694 79 L689.8 84.7 L683 84.7 L683 74.7 L675.6 74.7 Z" stroke="#000" stroke-width="0.9" fill="none"/>
<path d="M734.5 59.8 L753.6 59.8 L753.6 74.7 L746.1 74.7 L746.1 84.7 L738.7 84.7 L734.5 79 Z" stroke="none" stroke-width="0" fill="#fff"/>
<clipPath id="hc14"><path d="M734.5 59.8 L753.6 59.8 L753.6 74.7 L746.1 74.7 L746.1 84.7 L738.7 84.7 L734.5 79 Z"/></clipPath>
<path d="M744.95 45.76L770.54 71.35M743.25 47.46L768.84 73.05M741.56 49.16L767.14 74.74M739.86 50.86L765.44 76.44M738.16 52.55L763.75 78.14M736.47 54.25L762.05 79.83M734.77 55.95L760.35 81.53M733.07 57.64L758.66 83.23M731.37 59.34L756.96 84.93M729.68 61.04L755.26 86.62M727.98 62.73L753.57 88.32M726.28 64.43L751.87 90.02M724.59 66.13L750.17 91.71M722.89 67.83L748.47 93.41M721.19 69.52L746.78 95.11M719.5 71.22L745.08 96.8M717.8 72.92L743.38 98.5" stroke="#0000ff" stroke-width="1" fill="none" clip-path="url(#hc14)"/>
<path d="M734.5 59.8 L753.6 59.8 L753.6 74.7 L746.1 74.7 L746.1 84.7 L738.7 84.7 L734.5 79 Z" stroke="#000" stroke-width="0.9" fill="none"/>
<path d="M694 66.4L704.2 66.4L704.2 79.7L694 79.7Z" stroke="none" stroke-width="0" fill="#fff"/>
<clipPath id="hc15"><path d="M694 66.4L704.2 66.4L704.2 79.7L694 79.7Z"/></clipPath>
<path d="M683.52 74.05L697.38 57.53M685.35 75.59L699.21 59.07M687.19 77.13L701.05 60.62M689.03 78.67L702.89 62.16M690.87 80.22L704.73 63.7M692.71 81.76L706.57 65.24M694.55 83.3L708.41 66.79M696.39 84.85L710.24 68.33M698.22 86.39L712.08 69.87M700.06 87.93L713.92 71.41M701.9 89.47L715.76 72.96" stroke="#00ff00" stroke-width="1.25" fill="none" clip-path="url(#hc15)"/>
<path d="M694 66.4L704.2 66.4L704.2 79.7L694 79.7Z" stroke="#000" stroke-width="0.9" fill="none"/>
<path d="M724.4 66.4L734.5 66.4L734.5 79.7L724.4 79.7Z" stroke="none" stroke-width="0" fill="#fff"/>
<clipPath id="hc16"><path d="M724.4 66.4L734.5 66.4L734.5 79.7L724.4 79.7Z"/></clipPath>
<path d="M712.62 72.96L726.44 56.49M714.46 74.51L728.28 58.04M716.3 76.05L730.12 59.58M718.14 77.59L731.96 61.12M719.98 79.13L733.8 62.66M721.81 80.68L735.63 64.21M723.65 82.22L737.47 65.75M725.49 83.76L739.31 67.29M727.33 85.3L741.15 68.83M729.17 86.85L742.99 70.38M731.01 88.39L744.83 71.92" stroke="#00ff00" stroke-width="1.25" fill="none" clip-path="url(#hc16)"/>
<path d="M724.4 66.4L734.5 66.4L734.5 79.7L724.4 79.7Z" stroke="#000" stroke-width="0.9" fill="none"/>
<path d="M669.9 75.5L681.5 75.5L681.5 83L669.9 83Z" stroke="none" stroke-width="0" fill="#fff"/>
<clipPath id="hc17"><path d="M669.9 75.5L681.5 75.5L681.5 83L669.9 83Z"/></clipPath>
<path d="M662.37 79.95L674.08 66M664.06 81.37L675.76 67.42M665.74 82.78L677.45 68.83M667.43 84.2L679.14 70.24M669.11 85.61L680.82 71.66M670.8 87.03L682.51 73.07M672.48 88.44L684.19 74.49M674.17 89.85L685.88 75.9M675.85 91.27L687.56 77.32M677.54 92.68L689.25 78.73" stroke="#ff00ff" stroke-width="1.15" fill="none" clip-path="url(#hc17)"/>
<path d="M669.9 75.5L681.5 75.5L681.5 83L669.9 83Z" stroke="#000" stroke-width="0.9" fill="none"/>
<path d="M746.4 75.5L758.6 75.5L758.6 83L746.4 83Z" stroke="none" stroke-width="0" fill="#fff"/>
<clipPath id="hc18"><path d="M746.4 75.5L758.6 75.5L758.6 83L746.4 83Z"/></clipPath>
<path d="M737.76 79.1L749.79 64.76M739.44 80.51L751.48 66.17M741.13 81.93L753.16 67.59M742.81 83.34L754.85 69M744.5 84.76L756.53 70.42M746.18 86.17L758.22 71.83M747.87 87.58L759.9 73.24M749.56 89L761.59 74.66M751.24 90.41L763.27 76.07M752.93 91.83L764.96 77.49M754.61 93.24L766.65 78.9" stroke="#ff00ff" stroke-width="1.15" fill="none" clip-path="url(#hc18)"/>
<path d="M746.4 75.5L758.6 75.5L758.6 83L746.4 83Z" stroke="#000" stroke-width="0.9" fill="none"/>
<path d="M689.8 80 L704.7 80 L704.7 88 L694 88 Z" stroke="none" stroke-width="0" fill="#fff"/>
<clipPath id="hc19"><path d="M689.8 80 L704.7 80 L704.7 88 L694 88 Z"/></clipPath>
<path d="M698.39 66.8L714.45 82.86M696.34 68.85L712.4 84.91M694.29 70.9L710.35 86.96M692.24 72.95L708.3 89.01M690.19 75L706.25 91.06M688.14 77.05L704.2 93.11M686.09 79.1L702.15 95.16M684.03 81.16L700.09 97.22M681.98 83.21L698.04 99.27M679.93 85.26L695.99 101.32" stroke="#00ffff" stroke-width="1.25" fill="none" clip-path="url(#hc19)"/>
<path d="M689.8 80 L704.7 80 L704.7 88 L694 88 Z" stroke="#000" stroke-width="0.9" fill="none"/>
<path d="M723.9 80 L738.7 80 L734.5 88 L723.9 88 Z" stroke="none" stroke-width="0" fill="#fff"/>
<clipPath id="hc20"><path d="M723.9 80 L738.7 80 L734.5 88 L723.9 88 Z"/></clipPath>
<path d="M731.85 67.45L747.85 83.45M729.8 69.5L745.8 85.5M727.75 71.55L743.75 87.55M725.7 73.6L741.7 89.6M723.65 75.65L739.65 91.65M721.6 77.71L737.59 93.7M719.55 79.76L735.54 95.75M717.5 81.81L733.49 97.8M715.45 83.86L731.44 99.85M713.39 85.91L729.39 101.91" stroke="#00ffff" stroke-width="1.25" fill="none" clip-path="url(#hc20)"/>
<path d="M723.9 80 L738.7 80 L734.5 88 L723.9 88 Z" stroke="#000" stroke-width="0.9" fill="none"/>
<ellipse cx="696.5" cy="78.2" rx="3.6" ry="2.1" fill="#000"/>
<ellipse cx="732" cy="78.2" rx="3.6" ry="2.1" fill="#000"/>
<ellipse cx="676.2" cy="56" rx="2.2" ry="3.2" fill="#000"/>
<path d="M700.5 44 L711 44 Q714.3 47.5 717.6 44 L729.5 44 L723.3 53.5 L723.3 78.5 L726 84 L726 89.6 L721.5 89.6 L719 84.5 L709.6 84.5 L707.1 89.6 L702.6 89.6 L702.6 84 L705.4 78.5 L705.4 53.5 Z" stroke="none" stroke-width="0" fill="#fff"/>
<clipPath id="hc21"><path d="M700.5 44 L711 44 Q714.3 47.5 717.6 44 L729.5 44 L723.3 53.5 L723.3 78.5 L726 84 L726 89.6 L721.5 89.6 L719 84.5 L709.6 84.5 L707.1 89.6 L702.6 89.6 L702.6 84 L705.4 78.5 L705.4 53.5 Z"/></clipPath>
<path d="M666.26 68.48L708.19 18.5M670.55 72.08L712.48 22.1M674.84 75.68L716.77 25.7M679.12 79.28L721.06 29.3M683.41 82.88L725.35 32.9M687.7 86.48L729.64 36.5M691.99 90.08L733.93 40.1M696.28 93.68L738.22 43.7M700.57 97.28L742.51 47.3M704.86 100.88L746.8 50.9M709.15 104.48L751.09 54.5M713.44 108.08L755.38 58.1M717.73 111.68L759.67 61.7M722.02 115.28L763.96 65.3" stroke="#ffff00" stroke-width="1.25" fill="none" clip-path="url(#hc21)"/>
<path d="M700.5 44 L711 44 Q714.3 47.5 717.6 44 L729.5 44 L723.3 53.5 L723.3 78.5 L726 84 L726 89.6 L721.5 89.6 L719 84.5 L709.6 84.5 L707.1 89.6 L702.6 89.6 L702.6 84 L705.4 78.5 L705.4 53.5 Z" stroke="#000" stroke-width="1" fill="none"/>
<line x1="702.6" y1="89.6" x2="726" y2="89.6" stroke="#000" stroke-width="1.3"/>
<polyline points="694.2,31.6 698.7,31.6 710,48.6" stroke="#4f6ec2" stroke-width="1" fill="none"/>
<polyline points="704.43,43.3 710,48.6 707.26,41.41" stroke="#4f6ec2" stroke-width="1" fill="none"/>
<polyline points="746,32 740.3,32 733.9,47.4" stroke="#4f6ec2" stroke-width="1" fill="none"/>
<polyline points="735.21,39.82 733.9,47.4 738.35,41.13" stroke="#4f6ec2" stroke-width="1" fill="none"/>
<polyline points="780,54.3 751.6,54.3" stroke="#4f6ec2" stroke-width="1" fill="none"/>
<polyline points="759.1,52.6 751.6,54.3 759.1,56" stroke="#4f6ec2" stroke-width="1" fill="none"/>
<polyline points="661.3,71.7 668,71.7 679.6,60.2" stroke="#4f6ec2" stroke-width="1" fill="none"/>
<polyline points="675.47,66.69 679.6,60.2 673.08,64.27" stroke="#4f6ec2" stroke-width="1" fill="none"/>
<polyline points="668,71.7 676.5,64.5" stroke="#4f6ec2" stroke-width="1" fill="none"/>
<polyline points="671.88,70.64 676.5,64.5 669.68,68.05" stroke="#4f6ec2" stroke-width="1" fill="none"/>
<polyline points="653.3,90.6 658,90.6 677.2,79.2" stroke="#4f6ec2" stroke-width="1" fill="none"/>
<polyline points="671.62,84.49 677.2,79.2 669.88,81.57" stroke="#4f6ec2" stroke-width="1" fill="none"/>
<polyline points="656.7,112.8 665.8,112.8 686.2,74.7" stroke="#4f6ec2" stroke-width="1" fill="none"/>
<polyline points="684.16,82.11 686.2,74.7 681.16,80.51" stroke="#4f6ec2" stroke-width="1" fill="none"/>
<polyline points="658.6,132.1 665.8,132.1 686.2,104.2" stroke="#4f6ec2" stroke-width="1" fill="none"/>
<polyline points="683.15,111.26 686.2,104.2 680.4,109.25" stroke="#4f6ec2" stroke-width="1" fill="none"/>
<polyline points="783,74.2 757,74.2" stroke="#4f6ec2" stroke-width="1" fill="none"/>
<polyline points="779.2,74.2 747.5,58.5" stroke="#4f6ec2" stroke-width="1" fill="none"/>
<polyline points="754.93,60.49 747.5,58.5 753.35,63.5" stroke="#4f6ec2" stroke-width="1" fill="none"/>
<polyline points="779.2,74.2 779.2,200.6" stroke="#4f6ec2" stroke-width="1" fill="none"/>
<polyline points="777.5,193.1 779.2,200.6 780.9,193.1" stroke="#4f6ec2" stroke-width="1" fill="none"/>
<polyline points="821,86 753,84.2 738.4,83.8 732.8,81.5" stroke="#4f6ec2" stroke-width="1" fill="none"/>
<polyline points="740.38,82.78 732.8,81.5 739.09,85.92" stroke="#4f6ec2" stroke-width="1" fill="none"/>
<polyline points="713,342.5 717.5,342.5 770.5,220.5" stroke="#4f6ec2" stroke-width="1" fill="none"/>
<polyline points="769.07,228.06 770.5,220.5 765.95,226.7" stroke="#4f6ec2" stroke-width="1" fill="none"/>
<polyline points="831,347 826,347 774.5,217" stroke="#4f6ec2" stroke-width="1" fill="none"/>
<polyline points="778.84,223.35 774.5,217 775.68,224.6" stroke="#4f6ec2" stroke-width="1" fill="none"/>
<polyline points="757,368.5 752,368.5 770,323" stroke="#4f6ec2" stroke-width="1" fill="none"/>
<polyline points="768.82,330.6 770,323 765.66,329.35" stroke="#4f6ec2" stroke-width="1" fill="none"/>
<text x="651.7" y="35.6" font-size="12.8" text-anchor="start" fill="#ff0000" font-family="'Liberation Serif','Noto Serif CJK SC',serif" textLength="41" lengthAdjust="spacing" font-weight="300">主铆钉</text>
<text x="747" y="38.4" font-size="12.8" text-anchor="start" fill="#ff0000" font-family="'Liberation Serif','Noto Serif CJK SC',serif" textLength="41" lengthAdjust="spacing" font-weight="300">上方板</text>
<text x="777.2" y="60.2" font-size="12.8" text-anchor="start" fill="#ff0000" font-family="'Liberation Serif','Noto Serif CJK SC',serif" textLength="41" lengthAdjust="spacing" font-weight="300">密封圈</text>
<text x="619.3" y="74.3" font-size="12.8" text-anchor="start" fill="#ff0000" font-family="'Liberation Serif','Noto Serif CJK SC',serif" textLength="41" lengthAdjust="spacing" font-weight="300">加油嘴</text>
<text x="783.5" y="80.6" font-size="12.8" text-anchor="start" fill="#ff0000" font-family="'Liberation Serif','Noto Serif CJK SC',serif" textLength="27" lengthAdjust="spacing" font-weight="300">轴承</text>
<text x="610.9" y="92.7" font-size="12.8" text-anchor="start" fill="#ff0000" font-family="'Liberation Serif','Noto Serif CJK SC',serif" textLength="39" lengthAdjust="spacing" font-weight="300">下方板</text>
<text x="823" y="91.8" font-size="12.8" text-anchor="start" fill="#ff0000" font-family="'Liberation Serif','Noto Serif CJK SC',serif" textLength="56.5" lengthAdjust="spacing" font-weight="300">并紧螺母</text>
<text x="614" y="115.3" font-size="12.8" text-anchor="start" fill="#ff0000" font-family="'Liberation Serif','Noto Serif CJK SC',serif" textLength="40.5" lengthAdjust="spacing" font-weight="300">轴承座</text>
<text x="630.6" y="134.6" font-size="12.8" text-anchor="start" fill="#ff0000" font-family="'Liberation Serif','Noto Serif CJK SC',serif" textLength="25.5" lengthAdjust="spacing" font-weight="300">支架</text>
<text x="655.5" y="345.6" font-size="12.8" text-anchor="start" fill="#ff0000" font-family="'Liberation Serif','Noto Serif CJK SC',serif" textLength="56" lengthAdjust="spacing" font-weight="300">轴承垫圈</text>
<text x="833.5" y="350" font-size="12.8" text-anchor="start" fill="#ff0000" font-family="'Liberation Serif','Noto Serif CJK SC',serif" textLength="56" lengthAdjust="spacing" font-weight="300">缩杆螺丝</text>
<text x="757.5" y="371.6" font-size="12.8" text-anchor="start" fill="#ff0000" font-family="'Liberation Serif','Noto Serif CJK SC',serif" textLength="69.5" lengthAdjust="spacing" font-weight="300">铝芯橡胶轮</text>
</g>
<g id="v4">
<polygon points="171.2,437.4 173.4,432.8 186,432.8 188.7,437.4" stroke="#000" stroke-width="0.8" fill="#000"/>
<path d="M166.6 449.3 L166.6 440.6 Q166.6 437.3 170 437.3 L190 437.3 L190 449.3 Z" stroke="#000" stroke-width="1.4" fill="#fff"/>
<path d="M171.8 438.2 Q170.6 443.5 171.8 448.8" stroke="#000" stroke-width="1.2" fill="none"/>
<path d="M171.8 446 Q180 450.5 188 446" stroke="#000" stroke-width="1" fill="none"/>
<rect x="165.6" y="449.3" width="24.4" height="2.1" stroke="#000" stroke-width="1.1" fill="#fff"/>
<rect x="146.3" y="451.4" width="43.7" height="8.3" stroke="#000" stroke-width="1.5" fill="#fff"/>
<line x1="148.6" y1="451.4" x2="148.6" y2="459.7" stroke="#000" stroke-width="1"/>
<rect x="166.4" y="459.7" width="23.6" height="5.5" stroke="#000" stroke-width="1" fill="#555"/>
<line x1="166.4" y1="462.3" x2="190" y2="462.3" stroke="#000" stroke-width="1.2"/>
<polygon points="171.2,572.6 173.4,577.2 186,577.2 188.7,572.6" stroke="#000" stroke-width="0.8" fill="#000"/>
<path d="M166.6 560.7 L166.6 569.4 Q166.6 572.7 170 572.7 L190 572.7 L190 560.7 Z" stroke="#000" stroke-width="1.4" fill="#fff"/>
<path d="M171.8 571.8 Q170.6 566.5 171.8 561.2" stroke="#000" stroke-width="1.2" fill="none"/>
<path d="M171.8 564 Q180 559.5 188 564" stroke="#000" stroke-width="1" fill="none"/>
<rect x="165.6" y="558.6" width="24.4" height="2.1" stroke="#000" stroke-width="1.1" fill="#fff"/>
<rect x="146.3" y="550.3" width="43.7" height="8.3" stroke="#000" stroke-width="1.5" fill="#fff"/>
<line x1="148.6" y1="558.6" x2="148.6" y2="550.3" stroke="#000" stroke-width="1"/>
<rect x="166.4" y="544.8" width="23.6" height="5.5" stroke="#000" stroke-width="1" fill="#555"/>
<line x1="166.4" y1="547.7" x2="190" y2="547.7" stroke="#000" stroke-width="1.2"/>
<g transform="matrix(1 0 0 1 179 505)" fill="none" stroke="#000" stroke-linecap="butt">
<rect x="-122" y="-38.8" width="244" height="77.6" rx="12" ry="24" fill="#fff" stroke="#000" stroke-width="2.6"/>
<clipPath id="tc338"><rect x="-121.6" y="-38.4" width="243.2" height="76.8" rx="12" ry="24"/></clipPath>
<g clip-path="url(#tc338)">
<path d="M-120.93 -31.02L-124.13 -38.4M-124.13 31.02L-120.93 38.4M-120.5 -31.02L-123.7 -38.4M-123.7 31.02L-120.5 38.4M-119.68 -31.02L-122.88 -38.4M-122.88 31.02L-119.68 38.4M-118.5 -31.02L-121.7 -38.4M-121.7 31.02L-118.5 38.4M-116.93 -31.02L-120.13 -38.4M-120.13 31.02L-116.93 38.4M-115 -31.02L-118.2 -38.4M-118.2 31.02L-115 38.4M-112.7 -31.02L-115.9 -38.4M-115.9 31.02L-112.7 38.4M-110.05 -31.02L-113.25 -38.4M-113.25 31.02L-110.05 38.4M-107.05 -31.02L-110.25 -38.4M-110.25 31.02L-107.05 38.4M-103.71 -31.02L-106.91 -38.4M-106.91 31.02L-103.71 38.4M-100.04 -31.02L-103.24 -38.4M-103.24 31.02L-100.04 38.4M-96.05 -31.02L-99.25 -38.4M-99.25 31.02L-96.05 38.4M-91.76 -31.02L-94.96 -38.4M-94.96 31.02L-91.76 38.4M-87.18 -31.02L-90.38 -38.4M-90.38 31.02L-87.18 38.4M-82.33 -31.02L-85.53 -38.4M-85.53 31.02L-82.33 38.4M-77.21 -31.02L-80.41 -38.4M-80.41 31.02L-77.21 38.4M-71.84 -31.02L-75.04 -38.4M-75.04 31.02L-71.84 38.4M-66.25 -31.02L-69.45 -38.4M-69.45 31.02L-66.25 38.4M-60.44 -31.02L-63.64 -38.4M-63.64 31.02L-60.44 38.4M-54.44 -31.02L-57.64 -38.4M-57.64 31.02L-54.44 38.4M-48.27 -31.02L-51.47 -38.4M-51.47 31.02L-48.27 38.4M-41.94 -31.02L-45.14 -38.4M-45.14 31.02L-41.94 38.4M-35.47 -31.02L-38.67 -38.4M-38.67 31.02L-35.47 38.4M-28.89 -31.02L-32.09 -38.4M-32.09 31.02L-28.89 38.4M-22.21 -31.02L-25.41 -38.4M-25.41 31.02L-22.21 38.4M-15.46 -31.02L-18.66 -38.4M-18.66 31.02L-15.46 38.4M-8.66 -31.02L-11.86 -38.4M-11.86 31.02L-8.66 38.4M-1.82 -31.02L-5.02 -38.4M-5.02 31.02L-1.82 38.4M5.02 -31.02L1.82 -38.4M1.82 31.02L5.02 38.4M11.86 -31.02L8.66 -38.4M8.66 31.02L11.86 38.4M18.66 -31.02L15.46 -38.4M15.46 31.02L18.66 38.4M25.41 -31.02L22.21 -38.4M22.21 31.02L25.41 38.4M32.09 -31.02L28.89 -38.4M28.89 31.02L32.09 38.4M38.67 -31.02L35.47 -38.4M35.47 31.02L38.67 38.4M45.14 -31.02L41.94 -38.4M41.94 31.02L45.14 38.4M51.47 -31.02L48.27 -38.4M48.27 31.02L51.47 38.4M57.64 -31.02L54.44 -38.4M54.44 31.02L57.64 38.4M63.64 -31.02L60.44 -38.4M60.44 31.02L63.64 38.4M69.45 -31.02L66.25 -38.4M66.25 31.02L69.45 38.4M75.04 -31.02L71.84 -38.4M71.84 31.02L75.04 38.4M80.41 -31.02L77.21 -38.4M77.21 31.02L80.41 38.4M85.53 -31.02L82.33 -38.4M82.33 31.02L85.53 38.4M90.38 -31.02L87.18 -38.4M87.18 31.02L90.38 38.4M94.96 -31.02L91.76 -38.4M91.76 31.02L94.96 38.4M99.25 -31.02L96.05 -38.4M96.05 31.02L99.25 38.4M103.24 -31.02L100.04 -38.4M100.04 31.02L103.24 38.4M106.91 -31.02L103.71 -38.4M103.71 31.02L106.91 38.4M110.25 -31.02L107.05 -38.4M107.05 31.02L110.25 38.4M113.25 -31.02L110.05 -38.4M110.05 31.02L113.25 38.4M115.9 -31.02L112.7 -38.4M112.7 31.02L115.9 38.4M118.2 -31.02L115 -38.4M115 31.02L118.2 38.4M120.13 -31.02L116.93 -38.4M116.93 31.02L120.13 38.4M121.7 -31.02L118.5 -38.4M118.5 31.02L121.7 38.4M122.88 -31.02L119.68 -38.4M119.68 31.02L122.88 38.4M123.7 -31.02L120.5 -38.4M120.5 31.02L123.7 38.4" stroke-width="1.9"/>
<line x1="-122.6" y1="-31.52" x2="122.6" y2="-31.52" stroke-width="1.2"/>
<line x1="-122.6" y1="-36.2" x2="122.6" y2="-36.2" stroke-width="0.9"/>
<line x1="-122.6" y1="31.52" x2="122.6" y2="31.52" stroke-width="1.2"/>
<line x1="-122.6" y1="36.2" x2="122.6" y2="36.2" stroke-width="0.9"/>
<path d="M-122.58 -31.52L-122.56 -30.01L-122.55 -28.51L-122.56 -27L-122.58 -25.5L-122.6 -23.99L-122.6 -22.49L-122.6 -20.98L-122.6 -19.47L-122.6 -17.97L-122.6 -16.46L-122.6 -14.96L-122.6 -13.45L-122.6 -11.95L-122.58 -10.44M-122.45 -31.52L-122.4 -30.01L-122.37 -28.51L-122.38 -27L-122.43 -25.5L-122.49 -23.99L-122.55 -22.49L-122.58 -20.98L-122.6 -19.47L-122.6 -17.97L-122.6 -16.46L-122.59 -14.96L-122.56 -13.45L-122.51 -11.95L-122.45 -10.44M-122.55 31.52L-122.58 30.01L-122.59 28.51L-122.58 27L-122.56 25.5L-122.52 23.99L-122.46 22.49L-122.38 20.98L-122.32 19.47L-122.28 17.97L-122.3 16.46L-122.36 14.96L-122.43 13.45L-122.5 11.95L-122.55 10.44M-122.37 31.52L-122.43 30.01L-122.46 28.51L-122.44 27L-122.4 25.5L-122.31 23.99L-122.2 22.49L-122.07 20.98L-121.97 19.47L-121.92 17.97L-121.95 16.46L-122.04 14.96L-122.16 13.45L-122.28 11.95L-122.37 10.44M-120.38 -31.52L-120.18 -30.01L-120.09 -28.51L-120.14 -27L-120.31 -25.5L-120.56 -23.99L-120.83 -22.49L-121.06 -20.98L-121.22 -19.47L-121.29 -17.97L-121.26 -16.46L-121.12 -14.96L-120.91 -13.45L-120.65 -11.95L-120.38 -10.44M-119.55 -31.52L-119.31 -30.01L-119.2 -28.51L-119.26 -27L-119.46 -25.5L-119.75 -23.99L-120.07 -22.49L-120.35 -20.98L-120.55 -19.47L-120.63 -17.97L-120.59 -16.46L-120.43 -14.96L-120.17 -13.45L-119.86 -11.95L-119.55 -10.44M-120.1 31.52L-120.31 30.01L-120.39 28.51L-120.35 27L-120.18 25.5L-119.91 23.99L-119.58 22.49L-119.26 20.98L-119.01 19.47L-118.9 17.97L-118.95 16.46L-119.16 14.96L-119.47 13.45L-119.81 11.95L-120.1 10.44M-119.22 31.52L-119.46 30.01L-119.56 28.51L-119.51 27L-119.31 25.5L-119 23.99L-118.62 22.49L-118.25 20.98L-117.97 19.47L-117.84 17.97L-117.91 16.46L-118.14 14.96L-118.49 13.45L-118.88 11.95L-119.22 10.44M-114.52 -31.52L-114.14 -30.01L-113.98 -28.51L-114.06 -27L-114.38 -25.5L-114.85 -23.99L-115.38 -22.49L-115.86 -20.98L-116.2 -19.47L-116.34 -17.97L-116.27 -16.46L-115.99 -14.96L-115.55 -13.45L-115.03 -11.95L-114.52 -10.44M-113.01 -31.52L-112.6 -30.01L-112.42 -28.51L-112.51 -27L-112.85 -25.5L-113.37 -23.99L-113.95 -22.49L-114.47 -20.98L-114.84 -19.47L-115 -17.97L-114.92 -16.46L-114.61 -14.96L-114.13 -13.45L-113.56 -11.95L-113.01 -10.44M-114 31.52L-114.38 30.01L-114.55 28.51L-114.46 27L-114.15 25.5L-113.65 23.99L-113.07 22.49L-112.5 20.98L-112.08 19.47L-111.9 17.97L-111.99 16.46L-112.35 14.96L-112.87 13.45L-113.47 11.95L-114 10.44M-112.44 31.52L-112.86 30.01L-113.03 28.51L-112.94 27L-112.6 25.5L-112.07 23.99L-111.43 22.49L-110.83 20.98L-110.38 19.47L-110.18 17.97L-110.28 16.46L-110.66 14.96L-111.23 13.45L-111.86 11.95L-112.44 10.44M-105.18 -31.52L-104.64 -30.01L-104.4 -28.51L-104.53 -27L-104.98 -25.5L-105.66 -23.99L-106.43 -22.49L-107.14 -20.98L-107.65 -19.47L-107.86 -17.97L-107.75 -16.46L-107.33 -14.96L-106.68 -13.45L-105.91 -11.95L-105.18 -10.44M-103.04 -31.52L-102.46 -30.01L-102.22 -28.51L-102.34 -27L-102.82 -25.5L-103.54 -23.99L-104.36 -22.49L-105.1 -20.98L-105.64 -19.47L-105.87 -17.97L-105.75 -16.46L-105.31 -14.96L-104.62 -13.45L-103.81 -11.95L-103.04 -10.44M-104.44 31.52L-104.98 30.01L-105.22 28.51L-105.1 27L-104.65 25.5L-103.94 23.99L-103.12 22.49L-102.34 20.98L-101.75 19.47L-101.5 17.97L-101.63 16.46L-102.12 14.96L-102.85 13.45L-103.68 11.95L-104.44 10.44M-102.25 31.52L-102.83 30.01L-103.07 28.51L-102.95 27L-102.47 25.5L-101.73 23.99L-100.86 22.49L-100.04 20.98L-99.43 19.47L-99.17 17.97L-99.3 16.46L-99.81 14.96L-100.58 13.45L-101.45 11.95L-102.25 10.44M-92.65 -31.52L-91.96 -30.01L-91.66 -28.51L-91.81 -27L-92.39 -25.5L-93.26 -23.99L-94.25 -22.49L-95.16 -20.98L-95.82 -19.47L-96.1 -17.97L-95.96 -16.46L-95.41 -14.96L-94.57 -13.45L-93.58 -11.95L-92.65 -10.44M-89.93 -31.52L-89.22 -30.01L-88.91 -28.51L-89.07 -27L-89.66 -25.5L-90.57 -23.99L-91.6 -22.49L-92.55 -20.98L-93.23 -19.47L-93.52 -17.97L-93.37 -16.46L-92.81 -14.96L-91.93 -13.45L-90.9 -11.95L-89.93 -10.44M-91.7 31.52L-92.39 30.01L-92.69 28.51L-92.54 27L-91.96 25.5L-91.07 23.99L-90.04 22.49L-89.06 20.98L-88.33 19.47L-88.02 17.97L-88.18 16.46L-88.78 14.96L-89.7 13.45L-90.74 11.95L-91.7 10.44M-88.95 31.52L-89.67 30.01L-89.98 28.51L-89.82 27L-89.22 25.5L-88.3 23.99L-87.23 22.49L-86.21 20.98L-85.47 19.47L-85.14 17.97L-85.31 16.46L-85.93 14.96L-86.88 13.45L-87.96 11.95L-88.95 10.44M-77.3 -31.52L-76.48 -30.01L-76.13 -28.51L-76.31 -27L-76.99 -25.5L-78.02 -23.99L-79.21 -22.49L-80.3 -20.98L-81.08 -19.47L-81.42 -17.97L-81.25 -16.46L-80.59 -14.96L-79.58 -13.45L-78.41 -11.95L-77.3 -10.44M-74.1 -31.52L-73.26 -30.01L-72.9 -28.51L-73.09 -27L-73.78 -25.5L-74.85 -23.99L-76.06 -22.49L-77.18 -20.98L-77.99 -19.47L-78.34 -17.97L-78.16 -16.46L-77.49 -14.96L-76.45 -13.45L-75.24 -11.95L-74.1 -10.44M-76.18 31.52L-77 30.01L-77.35 28.51L-77.17 27L-76.49 25.5L-75.44 23.99L-74.22 22.49L-73.07 20.98L-72.23 19.47L-71.86 17.97L-72.05 16.46L-72.75 14.96L-73.83 13.45L-75.05 11.95L-76.18 10.44M-72.95 31.52L-73.79 30.01L-74.15 28.51L-73.97 27L-73.27 25.5L-72.19 23.99L-70.94 22.49L-69.77 20.98L-68.9 19.47L-68.53 17.97L-68.72 16.46L-69.44 14.96L-70.54 13.45L-71.79 11.95L-72.95 10.44M-59.6 -31.52L-58.68 -30.01L-58.28 -28.51L-58.49 -27L-59.25 -25.5L-60.42 -23.99L-61.75 -22.49L-62.99 -20.98L-63.88 -19.47L-64.27 -17.97L-64.07 -16.46L-63.33 -14.96L-62.18 -13.45L-60.85 -11.95L-59.6 -10.44M-56.01 -31.52L-55.08 -30.01L-54.67 -28.51L-54.88 -27L-55.66 -25.5L-56.85 -23.99L-58.21 -22.49L-59.47 -20.98L-60.38 -19.47L-60.77 -17.97L-60.57 -16.46L-59.81 -14.96L-58.64 -13.45L-57.28 -11.95L-56.01 -10.44M-58.34 31.52L-59.26 30.01L-59.65 28.51L-59.45 27L-58.69 25.5L-57.51 23.99L-56.15 22.49L-54.87 20.98L-53.93 19.47L-53.52 17.97L-53.73 16.46L-54.51 14.96L-55.71 13.45L-57.07 11.95L-58.34 10.44M-54.73 31.52L-55.67 30.01L-56.07 28.51L-55.86 27L-55.09 25.5L-53.89 23.99L-52.5 22.49L-51.2 20.98L-50.25 19.47L-49.84 17.97L-50.05 16.46L-50.84 14.96L-52.06 13.45L-53.44 11.95L-54.73 10.44M-40.09 -31.52L-39.1 -30.01L-38.67 -28.51L-38.89 -27L-39.71 -25.5L-40.98 -23.99L-42.42 -22.49L-43.77 -20.98L-44.74 -19.47L-45.16 -17.97L-44.95 -16.46L-44.14 -14.96L-42.89 -13.45L-41.44 -11.95L-40.09 -10.44M-36.22 -31.52L-35.22 -30.01L-34.79 -28.51L-35.01 -27L-35.84 -25.5L-37.12 -23.99L-38.58 -22.49L-39.94 -20.98L-40.93 -19.47L-41.36 -17.97L-41.14 -16.46L-40.32 -14.96L-39.05 -13.45L-37.59 -11.95L-36.22 -10.44M-38.73 31.52L-39.72 30.01L-40.15 28.51L-39.93 27L-39.1 25.5L-37.83 23.99L-36.37 22.49L-35 20.98L-33.99 19.47L-33.56 17.97L-33.78 16.46L-34.62 14.96L-35.9 13.45L-37.36 11.95L-38.73 10.44M-34.85 31.52L-35.85 30.01L-36.29 28.51L-36.06 27L-35.23 25.5L-33.95 23.99L-32.47 22.49L-31.08 20.98L-30.07 19.47L-29.63 17.97L-29.85 16.46L-30.7 14.96L-31.99 13.45L-33.47 11.95L-34.85 10.44M-19.36 -31.52L-18.32 -30.01L-17.88 -28.51L-18.11 -27L-18.97 -25.5L-20.29 -23.99L-21.8 -22.49L-23.21 -20.98L-24.24 -19.47L-24.68 -17.97L-24.46 -16.46L-23.6 -14.96L-22.29 -13.45L-20.77 -11.95L-19.36 -10.44M-15.33 -31.52L-14.29 -30.01L-13.85 -28.51L-14.08 -27L-14.94 -25.5L-16.27 -23.99L-17.79 -22.49L-19.21 -20.98L-20.24 -19.47L-20.69 -17.97L-20.46 -16.46L-19.6 -14.96L-18.28 -13.45L-16.76 -11.95L-15.33 -10.44M-17.94 31.52L-18.98 30.01L-19.42 28.51L-19.19 27L-18.33 25.5L-17.01 23.99L-15.48 22.49L-14.06 20.98L-13.02 19.47L-12.57 17.97L-12.8 16.46L-13.67 14.96L-14.99 13.45L-16.52 11.95L-17.94 10.44M-13.91 31.52L-14.95 30.01L-15.4 28.51L-15.17 27L-14.3 25.5L-12.97 23.99L-11.44 22.49L-10.01 20.98L-8.97 19.47L-8.52 17.97L-8.75 16.46L-9.62 14.96L-10.95 13.45L-12.48 11.95L-13.91 10.44M1.96 -31.52L3 -30.01L3.46 -28.51L3.22 -27L2.35 -25.5L1.02 -23.99L-0.52 -22.49L-1.96 -20.98L-3 -19.47L-3.46 -17.97L-3.22 -16.46L-2.35 -14.96L-1.02 -13.45L0.52 -11.95L1.96 -10.44M6.02 -31.52L7.07 -30.01L7.52 -28.51L7.29 -27L6.42 -25.5L5.08 -23.99L3.54 -22.49L2.11 -20.98L1.06 -19.47L0.61 -17.97L0.84 -16.46L1.71 -14.96L3.05 -13.45L4.59 -11.95L6.02 -10.44M3.39 31.52L2.34 30.01L1.89 28.51L2.12 27L3 25.5L4.33 23.99L5.87 22.49L7.3 20.98L8.35 19.47L8.8 17.97L8.57 16.46L7.7 14.96L6.36 13.45L4.83 11.95L3.39 10.44M7.45 31.52L6.41 30.01L5.96 28.51L6.19 27L7.06 25.5L8.39 23.99L9.93 22.49L11.36 20.98L12.4 19.47L12.85 17.97L12.62 16.46L11.75 14.96L10.42 13.45L8.89 11.95L7.45 10.44M23.21 -31.52L24.24 -30.01L24.68 -28.51L24.46 -27L23.6 -25.5L22.29 -23.99L20.77 -22.49L19.36 -20.98L18.32 -19.47L17.88 -17.97L18.11 -16.46L18.97 -14.96L20.29 -13.45L21.8 -11.95L23.21 -10.44M27.19 -31.52L28.21 -30.01L28.65 -28.51L28.43 -27L27.58 -25.5L26.27 -23.99L24.77 -22.49L23.36 -20.98L22.33 -19.47L21.89 -17.97L22.12 -16.46L22.97 -14.96L24.29 -13.45L25.79 -11.95L27.19 -10.44M24.62 31.52L23.59 30.01L23.15 28.51L23.38 27L24.23 25.5L25.54 23.99L27.05 22.49L28.44 20.98L29.46 19.47L29.9 17.97L29.67 16.46L28.83 14.96L27.53 13.45L26.03 11.95L24.62 10.44M28.59 31.52L27.57 30.01L27.13 28.51L27.36 27L28.2 25.5L29.5 23.99L30.99 22.49L32.38 20.98L33.39 19.47L33.83 17.97L33.6 16.46L32.76 14.96L31.47 13.45L29.98 11.95L28.59 10.44M43.77 -31.52L44.74 -30.01L45.16 -28.51L44.95 -27L44.14 -25.5L42.89 -23.99L41.44 -22.49L40.09 -20.98L39.1 -19.47L38.67 -17.97L38.89 -16.46L39.71 -14.96L40.98 -13.45L42.42 -11.95L43.77 -10.44M47.54 -31.52L48.5 -30.01L48.92 -28.51L48.7 -27L47.9 -25.5L46.67 -23.99L45.24 -22.49L43.91 -20.98L42.93 -19.47L42.5 -17.97L42.72 -16.46L43.54 -14.96L44.78 -13.45L46.21 -11.95L47.54 -10.44M45.1 31.52L44.13 30.01L43.7 28.51L43.92 27L44.73 25.5L45.98 23.99L47.4 22.49L48.72 20.98L49.68 19.47L50.09 17.97L49.88 16.46L49.08 14.96L47.85 13.45L46.43 11.95L45.1 10.44M48.86 31.52L47.9 30.01L47.48 28.51L47.69 27L48.49 25.5L49.72 23.99L51.12 22.49L52.42 20.98L53.37 19.47L53.77 17.97L53.57 16.46L52.78 14.96L51.57 13.45L50.17 11.95L48.86 10.44M62.99 -31.52L63.88 -30.01L64.27 -28.51L64.07 -27L63.33 -25.5L62.18 -23.99L60.85 -22.49L59.6 -20.98L58.68 -19.47L58.28 -17.97L58.49 -16.46L59.25 -14.96L60.42 -13.45L61.75 -11.95L62.99 -10.44M66.44 -31.52L67.32 -30.01L67.7 -28.51L67.5 -27L66.77 -25.5L65.65 -23.99L64.34 -22.49L63.12 -20.98L62.22 -19.47L61.83 -17.97L62.03 -16.46L62.78 -14.96L63.92 -13.45L65.23 -11.95L66.44 -10.44M64.21 31.52L63.32 30.01L62.93 28.51L63.13 27L63.88 25.5L65.01 23.99L66.31 22.49L67.52 20.98L68.39 19.47L68.76 17.97L68.57 16.46L67.85 14.96L66.73 13.45L65.43 11.95L64.21 10.44M67.64 31.52L66.77 30.01L66.39 28.51L66.58 27L67.31 25.5L68.42 23.99L69.7 22.49L70.87 20.98L71.72 19.47L72.09 17.97L71.9 16.46L71.19 14.96L70.1 13.45L68.83 11.95L67.64 10.44M80.3 -31.52L81.08 -30.01L81.42 -28.51L81.25 -27L80.59 -25.5L79.58 -23.99L78.41 -22.49L77.3 -20.98L76.48 -19.47L76.13 -17.97L76.31 -16.46L76.99 -14.96L78.02 -13.45L79.21 -11.95L80.3 -10.44M83.32 -31.52L84.09 -30.01L84.42 -28.51L84.25 -27L83.61 -25.5L82.63 -23.99L81.49 -22.49L80.41 -20.98L79.62 -19.47L79.27 -17.97L79.45 -16.46L80.11 -14.96L81.12 -13.45L82.26 -11.95L83.32 -10.44M81.37 31.52L80.59 30.01L80.25 28.51L80.42 27L81.08 25.5L82.08 23.99L83.21 22.49L84.26 20.98L85.02 19.47L85.34 17.97L85.18 16.46L84.55 14.96L83.57 13.45L82.44 11.95L81.37 10.44M84.37 31.52L83.61 30.01L83.27 28.51L83.45 27L84.08 25.5L85.05 23.99L86.15 22.49L87.17 20.98L87.9 19.47L88.21 17.97L88.05 16.46L87.44 14.96L86.5 13.45L85.4 11.95L84.37 10.44M95.16 -31.52L95.82 -30.01L96.1 -28.51L95.96 -27L95.41 -25.5L94.57 -23.99L93.58 -22.49L92.65 -20.98L91.96 -19.47L91.66 -17.97L91.81 -16.46L92.39 -14.96L93.26 -13.45L94.25 -11.95L95.16 -10.44M97.67 -31.52L98.3 -30.01L98.57 -28.51L98.43 -27L97.91 -25.5L97.1 -23.99L96.16 -22.49L95.26 -20.98L94.6 -19.47L94.31 -17.97L94.46 -16.46L95.01 -14.96L95.85 -13.45L96.8 -11.95L97.67 -10.44M96.06 31.52L95.41 30.01L95.12 28.51L95.27 27L95.81 25.5L96.64 23.99L97.58 22.49L98.44 20.98L99.06 19.47L99.33 17.97L99.19 16.46L98.68 14.96L97.88 13.45L96.95 11.95L96.06 10.44M98.53 31.52L97.91 30.01L97.63 28.51L97.77 27L98.3 25.5L99.09 23.99L99.99 22.49L100.81 20.98L101.41 19.47L101.66 17.97L101.53 16.46L101.04 14.96L100.27 13.45L99.38 11.95L98.53 10.44M107.14 -31.52L107.65 -30.01L107.86 -28.51L107.75 -27L107.33 -25.5L106.68 -23.99L105.91 -22.49L105.18 -20.98L104.64 -19.47L104.4 -17.97L104.53 -16.46L104.98 -14.96L105.66 -13.45L106.43 -11.95L107.14 -10.44M109.06 -31.52L109.53 -30.01L109.73 -28.51L109.63 -27L109.24 -25.5L108.62 -23.99L107.9 -22.49L107.21 -20.98L106.7 -19.47L106.48 -17.97L106.59 -16.46L107.02 -14.96L107.67 -13.45L108.39 -11.95L109.06 -10.44M107.83 31.52L107.33 30.01L107.11 28.51L107.22 27L107.64 25.5L108.27 23.99L108.99 22.49L109.64 20.98L110.1 19.47L110.3 17.97L110.2 16.46L109.81 14.96L109.21 13.45L108.51 11.95L107.83 10.44M109.7 31.52L109.23 30.01L109.03 28.51L109.13 27L109.53 25.5L110.12 23.99L110.79 22.49L111.4 20.98L111.83 19.47L112.01 17.97L111.92 16.46L111.56 14.96L111 13.45L110.34 11.95L109.7 10.44M115.86 -31.52L116.2 -30.01L116.34 -28.51L116.27 -27L115.99 -25.5L115.55 -23.99L115.03 -22.49L114.52 -20.98L114.14 -19.47L113.98 -17.97L114.06 -16.46L114.38 -14.96L114.85 -13.45L115.38 -11.95L115.86 -10.44M117.13 -31.52L117.43 -30.01L117.56 -28.51L117.49 -27L117.24 -25.5L116.85 -23.99L116.37 -22.49L115.91 -20.98L115.56 -19.47L115.41 -17.97L115.49 -16.46L115.78 -14.96L116.21 -13.45L116.69 -11.95L117.13 -10.44M116.32 31.52L115.99 30.01L115.84 28.51L115.92 27L116.2 25.5L116.62 23.99L117.08 22.49L117.5 20.98L117.79 19.47L117.92 17.97L117.85 16.46L117.61 14.96L117.23 13.45L116.77 11.95L116.32 10.44M117.54 31.52L117.24 30.01L117.11 28.51L117.18 27L117.43 25.5L117.81 23.99L118.22 22.49L118.6 20.98L118.86 19.47L118.97 17.97L118.91 16.46L118.69 14.96L118.35 13.45L117.94 11.95L117.54 10.44M121.06 -31.52L121.22 -30.01L121.29 -28.51L121.26 -27L121.12 -25.5L120.91 -23.99L120.65 -22.49L120.38 -20.98L120.18 -19.47L120.09 -17.97L120.14 -16.46L120.31 -14.96L120.56 -13.45L120.83 -11.95L121.06 -10.44M121.64 -31.52L121.76 -30.01L121.82 -28.51L121.79 -27L121.69 -25.5L121.52 -23.99L121.3 -22.49L121.09 -20.98L120.92 -19.47L120.84 -17.97L120.88 -16.46L121.02 -14.96L121.23 -13.45L121.45 -11.95L121.64 -10.44M121.28 31.52L121.12 30.01L121.05 28.51L121.09 27L121.22 25.5L121.41 23.99L121.62 22.49L121.79 20.98L121.91 19.47L121.95 17.97L121.93 16.46L121.84 14.96L121.68 13.45L121.48 11.95L121.28 10.44M121.81 31.52L121.69 30.01L121.63 28.51L121.66 27L121.76 25.5L121.91 23.99L122.06 22.49L122.19 20.98L122.27 19.47L122.3 17.97L122.29 16.46L122.22 14.96L122.11 13.45L121.96 11.95L121.81 10.44M122.6 -31.52L122.6 -30.01L122.6 -28.51L122.6 -27L122.6 -25.5L122.6 -23.99L122.6 -22.49L122.58 -20.98L122.56 -19.47L122.55 -17.97L122.56 -16.46L122.58 -14.96L122.6 -13.45L122.6 -11.95L122.6 -10.44M122.6 -31.52L122.6 -30.01L122.6 -28.51L122.6 -27L122.6 -25.5L122.6 -23.99L122.6 -22.49L122.6 -20.98L122.6 -19.47L122.6 -17.97L122.6 -16.46L122.6 -14.96L122.6 -13.45L122.6 -11.95L122.6 -10.44M122.6 31.52L122.6 30.01L122.6 28.51L122.6 27L122.6 25.5L122.6 23.99L122.6 22.49L122.6 20.98L122.6 19.47L122.6 17.97L122.6 16.46L122.6 14.96L122.6 13.45L122.6 11.95L122.6 10.44M122.6 31.52L122.6 30.01L122.6 28.51L122.6 27L122.6 25.5L122.6 23.99L122.6 22.49L122.6 20.98L122.6 19.47L122.6 17.97L122.6 16.46L122.6 14.96L122.6 13.45L122.6 11.95L122.6 10.44" stroke-width="2.2" stroke-linejoin="round"/>
<path d="M-122.6 -31.52L-122.6 -30.01L-122.6 -28.51L-122.6 -27L-122.6 -25.5L-122.6 -23.99L-122.6 -22.49L-122.6 -20.98L-122.6 -19.47L-122.6 -17.97L-122.6 -16.46L-122.6 -14.96L-122.6 -13.45L-122.6 -11.95L-122.6 -10.44M-122.6 31.52L-122.6 30.01L-122.6 28.51L-122.6 27L-122.6 25.5L-122.59 23.99L-122.57 22.49L-122.54 20.98L-122.5 19.47L-122.49 17.97L-122.49 16.46L-122.52 14.96L-122.56 13.45L-122.59 11.95L-122.6 10.44M-122.37 -28.36Q-121.93 -12.45 -121.25 -28.36M-121.93 28.36Q-121.25 12.45 -120.35 28.36M-120.98 -31.52L-120.82 -30.01L-120.74 -28.51L-120.78 -27L-120.92 -25.5L-121.11 -23.99L-121.32 -22.49L-121.51 -20.98L-121.63 -19.47L-121.68 -17.97L-121.65 -16.46L-121.55 -14.96L-121.39 -13.45L-121.18 -11.95L-120.98 -10.44M-120.68 31.52L-120.84 30.01L-120.91 28.51L-120.88 27L-120.74 25.5L-120.52 23.99L-120.26 22.49L-119.99 20.98L-119.79 19.47L-119.7 17.97L-119.75 16.46L-119.92 14.96L-120.17 13.45L-120.44 11.95L-120.68 10.44M-119.21 -28.36Q-117.85 -12.45 -116.26 -28.36M-117.85 28.36Q-116.26 12.45 -114.46 28.36M-115.68 -31.52L-115.36 -30.01L-115.22 -28.51L-115.29 -27L-115.56 -25.5L-115.97 -23.99L-116.42 -22.49L-116.82 -20.98L-117.11 -19.47L-117.23 -17.97L-117.17 -16.46L-116.93 -14.96L-116.56 -13.45L-116.11 -11.95L-115.68 -10.44M-115.09 31.52L-115.42 30.01L-115.55 28.51L-115.48 27L-115.21 25.5L-114.79 23.99L-114.28 22.49L-113.8 20.98L-113.44 19.47L-113.28 17.97L-113.36 16.46L-113.67 14.96L-114.12 13.45L-114.63 11.95L-115.09 10.44M-112.43 -28.36Q-110.19 -12.45 -107.74 -28.36M-110.19 28.36Q-107.74 12.45 -105.09 28.36M-106.88 -31.52L-106.4 -30.01L-106.2 -28.51L-106.3 -27L-106.7 -25.5L-107.3 -23.99L-107.97 -22.49L-108.59 -20.98L-109.03 -19.47L-109.22 -17.97L-109.12 -16.46L-108.76 -14.96L-108.18 -13.45L-107.51 -11.95L-106.88 -10.44M-106 31.52L-106.48 30.01L-106.69 28.51L-106.58 27L-106.18 25.5L-105.57 23.99L-104.84 22.49L-104.15 20.98L-103.64 19.47L-103.42 17.97L-103.54 16.46L-103.96 14.96L-104.61 13.45L-105.33 11.95L-106 10.44M-102.23 -28.36Q-99.19 -12.45 -95.95 -28.36M-99.19 28.36Q-95.95 12.45 -92.53 28.36M-94.82 -31.52L-94.21 -30.01L-93.94 -28.51L-94.08 -27L-94.59 -25.5L-95.36 -23.99L-96.24 -22.49L-97.05 -20.98L-97.64 -19.47L-97.89 -17.97L-97.76 -16.46L-97.28 -14.96L-96.53 -13.45L-95.65 -11.95L-94.82 -10.44M-93.69 31.52L-94.31 30.01L-94.58 28.51L-94.44 27L-93.93 25.5L-93.14 23.99L-92.21 22.49L-91.34 20.98L-90.7 19.47L-90.42 17.97L-90.56 16.46L-91.1 14.96L-91.91 13.45L-92.84 11.95L-93.69 10.44M-88.93 -28.36Q-85.17 -12.45 -81.24 -28.36M-85.17 28.36Q-81.24 12.45 -77.15 28.36M-79.88 -31.52L-79.15 -30.01L-78.84 -28.51L-79 -27L-79.61 -25.5L-80.54 -23.99L-81.6 -22.49L-82.57 -20.98L-83.28 -19.47L-83.58 -17.97L-83.43 -16.46L-82.84 -14.96L-81.93 -13.45L-80.88 -11.95L-79.88 -10.44M-78.54 31.52L-79.28 30.01L-79.59 28.51L-79.43 27L-78.82 25.5L-77.88 23.99L-76.78 22.49L-75.75 20.98L-74.99 19.47L-74.67 17.97L-74.84 16.46L-75.47 14.96L-76.43 13.45L-77.53 11.95L-78.54 10.44M-72.93 -28.36Q-68.56 -12.45 -64.06 -28.36M-68.56 28.36Q-64.06 12.45 -59.44 28.36M-62.52 -31.52L-61.69 -30.01L-61.34 -28.51L-61.52 -27L-62.21 -25.5L-63.26 -23.99L-64.47 -22.49L-65.58 -20.98L-66.39 -19.47L-66.74 -17.97L-66.56 -16.46L-65.89 -14.96L-64.85 -13.45L-63.65 -11.95L-62.52 -10.44M-61 31.52L-61.83 30.01L-62.19 28.51L-62.01 27L-61.32 25.5L-60.25 23.99L-59.02 22.49L-57.86 20.98L-57.01 19.47L-56.65 17.97L-56.84 16.46L-57.54 14.96L-58.62 13.45L-59.86 11.95L-61 10.44M-54.7 -28.36Q-49.87 -12.45 -44.93 -28.36M-49.87 28.36Q-44.93 12.45 -39.91 28.36M-43.26 -31.52L-42.36 -30.01L-41.97 -28.51L-42.17 -27L-42.92 -25.5L-44.06 -23.99L-45.38 -22.49L-46.6 -20.98L-47.48 -19.47L-47.87 -17.97L-47.67 -16.46L-46.93 -14.96L-45.8 -13.45L-44.49 -11.95L-43.26 -10.44M-41.61 31.52L-42.51 30.01L-42.9 28.51L-42.7 27L-41.95 25.5L-40.79 23.99L-39.46 22.49L-38.21 20.98L-37.3 19.47L-36.91 17.97L-37.11 16.46L-37.87 14.96L-39.03 13.45L-40.37 11.95L-41.61 10.44M-34.82 -28.36Q-29.66 -12.45 -24.44 -28.36M-29.66 28.36Q-24.44 12.45 -19.18 28.36M-22.68 -31.52L-21.74 -30.01L-21.33 -28.51L-21.54 -27L-22.32 -25.5L-23.53 -23.99L-24.91 -22.49L-26.2 -20.98L-27.14 -19.47L-27.54 -17.97L-27.33 -16.46L-26.55 -14.96L-25.35 -13.45L-23.97 -11.95L-22.68 -10.44M-20.95 31.52L-21.89 30.01L-22.3 28.51L-22.09 27L-21.31 25.5L-20.1 23.99L-18.71 22.49L-17.4 20.98L-16.45 19.47L-16.04 17.97L-16.25 16.46L-17.05 14.96L-18.26 13.45L-19.65 11.95L-20.95 10.44M-13.88 -28.36Q-8.55 -12.45 -3.21 -28.36M-8.55 28.36Q-3.21 12.45 2.14 28.36M-1.42 -31.52L-0.46 -30.01L-0.04 -28.51L-0.25 -27L-1.05 -25.5L-2.28 -23.99L-3.69 -22.49L-5 -20.98L-5.96 -19.47L-6.38 -17.97L-6.16 -16.46L-5.37 -14.96L-4.14 -13.45L-2.73 -11.95L-1.42 -10.44M0.35 31.52L-0.61 30.01L-1.03 28.51L-0.82 27L-0.02 25.5L1.21 23.99L2.62 22.49L3.93 20.98L4.89 19.47L5.31 17.97L5.09 16.46L4.3 14.96L3.07 13.45L1.66 11.95L0.35 10.44M7.48 -28.36Q12.82 -12.45 18.12 -28.36M12.82 28.36Q18.12 12.45 23.39 28.36M19.89 -31.52L20.84 -30.01L21.25 -28.51L21.04 -27L20.25 -25.5L19.04 -23.99L17.65 -22.49L16.35 -20.98L15.39 -19.47L14.98 -17.97L15.19 -16.46L15.98 -14.96L17.2 -13.45L18.59 -11.95L19.89 -10.44M21.63 31.52L20.68 30.01L20.27 28.51L20.48 27L21.27 25.5L22.48 23.99L23.86 22.49L25.15 20.98L26.09 19.47L26.5 17.97L26.29 16.46L25.51 14.96L24.31 13.45L22.92 11.95L21.63 10.44M28.62 -28.36Q33.79 -12.45 38.9 -28.36M33.79 28.36Q38.9 12.45 43.94 28.36M40.6 -31.52L41.5 -30.01L41.89 -28.51L41.69 -27L40.94 -25.5L39.78 -23.99L38.45 -22.49L37.2 -20.98L36.28 -19.47L35.88 -17.97L36.09 -16.46L36.85 -14.96L38.02 -13.45L39.36 -11.95L40.6 -10.44M42.26 31.52L41.35 30.01L40.96 28.51L41.16 27L41.91 25.5L43.06 23.99L44.38 22.49L45.61 20.98L46.5 19.47L46.88 17.97L46.68 16.46L45.94 14.96L44.8 13.45L43.49 11.95L42.26 10.44M48.89 -28.36Q53.74 -12.45 58.5 -28.36M53.74 28.36Q58.5 12.45 63.14 28.36M60.07 -31.52L60.91 -30.01L61.26 -28.51L61.08 -27L60.39 -25.5L59.32 -23.99L58.08 -22.49L56.92 -20.98L56.06 -19.47L55.7 -17.97L55.89 -16.46L56.59 -14.96L57.68 -13.45L58.92 -11.95L60.07 -10.44M61.6 31.52L60.77 30.01L60.41 28.51L60.59 27L61.28 25.5L62.34 23.99L63.55 22.49L64.67 20.98L65.49 19.47L65.84 17.97L65.66 16.46L64.98 14.96L63.94 13.45L62.73 11.95L61.6 10.44M67.67 -28.36Q72.06 -12.45 76.32 -28.36M72.06 28.36Q76.32 12.45 80.43 28.36M77.72 -31.52L78.46 -30.01L78.77 -28.51L78.61 -27L78 -25.5L77.05 -23.99L75.95 -22.49L74.91 -20.98L74.15 -19.47L73.81 -17.97L73.98 -16.46L74.62 -14.96L75.59 -13.45L76.69 -11.95L77.72 -10.44M79.07 31.52L78.33 30.01L78.01 28.51L78.18 27L78.79 25.5L79.73 23.99L80.79 22.49L81.78 20.98L82.49 19.47L82.8 17.97L82.64 16.46L82.05 14.96L81.13 13.45L80.07 11.95L79.07 10.44M84.39 -28.36Q88.19 -12.45 91.82 -28.36M88.19 28.36Q91.82 12.45 95.28 28.36M93 -31.52L93.62 -30.01L93.89 -28.51L93.75 -27L93.24 -25.5L92.44 -23.99L91.5 -22.49L90.62 -20.98L89.97 -19.47L89.69 -17.97L89.84 -16.46L90.38 -14.96L91.2 -13.45L92.14 -11.95L93 -10.44M94.14 31.52L93.52 30.01L93.25 28.51L93.39 27L93.91 25.5L94.69 23.99L95.58 22.49L96.4 20.98L96.99 19.47L97.24 17.97L97.11 16.46L96.62 14.96L95.86 13.45L94.98 11.95L94.14 10.44M98.55 -28.36Q101.64 -12.45 104.53 -28.36M101.64 28.36Q104.53 12.45 107.23 28.36M105.46 -31.52L105.95 -30.01L106.15 -28.51L106.05 -27L105.64 -25.5L105.02 -23.99L104.28 -22.49L103.59 -20.98L103.07 -19.47L102.84 -17.97L102.96 -16.46L103.39 -14.96L104.04 -13.45L104.78 -11.95L105.46 -10.44M106.35 31.52L105.87 30.01L105.66 28.51L105.76 27L106.17 25.5L106.77 23.99L107.46 22.49L108.09 20.98L108.54 19.47L108.73 17.97L108.63 16.46L108.26 14.96L107.68 13.45L107 11.95L106.35 10.44M109.72 -28.36Q112 -12.45 114.07 -28.36M112 28.36Q114.07 12.45 115.92 28.36M114.71 -31.52L115.05 -30.01L115.19 -28.51L115.12 -27L114.84 -25.5L114.41 -23.99L113.89 -22.49L113.4 -20.98L113.03 -19.47L112.87 -17.97L112.95 -16.46L113.26 -14.96L113.72 -13.45L114.24 -11.95L114.71 -10.44M115.32 31.52L114.99 30.01L114.85 28.51L114.92 27L115.2 25.5L115.61 23.99L116.08 22.49L116.49 20.98L116.79 19.47L116.91 17.97L116.85 16.46L116.61 14.96L116.22 13.45L115.76 11.95L115.32 10.44M117.55 -28.36Q118.96 -12.45 120.14 -28.36M118.96 28.36Q120.14 12.45 121.09 28.36M120.48 -31.52L120.66 -30.01L120.73 -28.51L120.69 -27L120.55 -25.5L120.32 -23.99L120.04 -22.49L119.77 -20.98L119.56 -19.47L119.47 -17.97L119.51 -16.46L119.69 -14.96L119.95 -13.45L120.23 -11.95L120.48 -10.44M120.8 31.52L120.63 30.01L120.55 28.51L120.59 27L120.73 25.5L120.94 23.99L121.16 22.49L121.36 20.98L121.49 19.47L121.55 17.97L121.52 16.46L121.41 14.96L121.23 13.45L121.01 11.95L120.8 10.44M121.81 -28.36Q122.3 -12.45 122.56 -28.36M122.3 28.36Q122.56 12.45 122.6 28.36M122.59 -31.52L122.6 -30.01L122.6 -28.51L122.6 -27L122.6 -25.5L122.58 -23.99L122.54 -22.49L122.5 -20.98L122.45 -19.47L122.43 -17.97L122.44 -16.46L122.48 -14.96L122.53 -13.45L122.57 -11.95L122.59 -10.44M122.6 31.52L122.6 30.01L122.6 28.51L122.6 27L122.6 25.5L122.6 23.99L122.6 22.49L122.6 20.98L122.6 19.47L122.6 17.97L122.6 16.46L122.6 14.96L122.6 13.45L122.6 11.95L122.6 10.44" stroke-width="1.3" stroke-linejoin="round"/>
<rect x="-122.6" y="-8.7" width="245.2" height="17.4" fill="#fff" stroke="none"/>
<line x1="-122.6" y1="-8.2" x2="122.6" y2="-8.2" stroke-width="3.2"/>
<line x1="-122.6" y1="8.2" x2="122.6" y2="8.2" stroke-width="3.2"/>
<line x1="-122.6" y1="-2.1" x2="122.6" y2="-2.1" stroke-width="1.8"/>
<line x1="-122.6" y1="2.1" x2="122.6" y2="2.1" stroke-width="1.8"/>
<path d="M-122.25 -7.5L-121.99 -7.5L-121.99 7.5L-122.25 7.5ZM-118.8 -7.5L-118.03 -7.5L-118.03 7.5L-118.8 7.5ZM-111.74 -7.5L-110.47 -7.5L-110.47 7.5L-111.74 7.5ZM-101.28 -7.5L-99.56 -7.5L-99.56 7.5L-101.28 7.5ZM-87.74 -7.5L-85.63 -7.5L-85.63 7.5L-87.74 7.5ZM-71.54 -7.5L-69.09 -7.5L-69.09 7.5L-71.54 7.5ZM-53.17 -7.5L-50.45 -7.5L-50.45 7.5L-53.17 7.5ZM-33.18 -7.5L-30.28 -7.5L-30.28 7.5L-33.18 7.5ZM-12.18 -7.5L-9.19 -7.5L-9.19 7.5L-12.18 7.5ZM9.19 -7.5L12.18 -7.5L12.18 7.5L9.19 7.5ZM30.28 -7.5L33.18 -7.5L33.18 7.5L30.28 7.5ZM50.45 -7.5L53.17 -7.5L53.17 7.5L50.45 7.5ZM69.09 -7.5L71.54 -7.5L71.54 7.5L69.09 7.5ZM85.63 -7.5L87.74 -7.5L87.74 7.5L85.63 7.5ZM99.56 -7.5L101.28 -7.5L101.28 7.5L99.56 7.5ZM110.47 -7.5L111.74 -7.5L111.74 7.5L110.47 7.5ZM118.03 -7.5L118.8 -7.5L118.8 7.5L118.03 7.5ZM121.99 -7.5L122.25 -7.5L122.25 7.5L121.99 7.5Z" fill="#000" stroke="none"/>
</g>
</g>
<rect x="183.7" y="438.6" width="107.7" height="132.4" stroke="#000" stroke-width="1.25" fill="#fff" rx="12.5"/>
<ellipse cx="200.3" cy="453.5" rx="6" ry="5.7" stroke="#000" stroke-width="1.5" fill="#fff"/>
<ellipse cx="200.3" cy="556.6" rx="6" ry="5.7" stroke="#000" stroke-width="1.5" fill="#fff"/>
<ellipse cx="275.5" cy="453.5" rx="6" ry="5.7" stroke="#000" stroke-width="1.5" fill="#fff"/>
<ellipse cx="275.5" cy="556.6" rx="6" ry="5.7" stroke="#000" stroke-width="1.5" fill="#fff"/>
<circle cx="237.2" cy="504.9" r="14.3" stroke="#000" stroke-width="1.7" fill="#fff"/>
<circle cx="237.2" cy="504.9" r="3.3" stroke="#000" stroke-width="1.1" fill="none"/>
<circle cx="237.2" cy="504.9" r="1.1" stroke="#000" stroke-width="0.8" fill="#000"/>
<line x1="183.7" y1="405" x2="183.7" y2="462" stroke="#4f6ec2" stroke-width="1"/>
<line x1="291.4" y1="405" x2="291.4" y2="466" stroke="#4f6ec2" stroke-width="1"/>
<line x1="183.7" y1="407.4" x2="291.4" y2="407.4" stroke="#4f6ec2" stroke-width="1"/>
<polyline points="192.2,405.3 183.7,407.4 192.2,409.5" stroke="#4f6ec2" stroke-width="1" fill="none"/>
<polyline points="282.9,409.5 291.4,407.4 282.9,405.3" stroke="#4f6ec2" stroke-width="1" fill="none"/>
<text x="237.8" y="405" font-size="14" text-anchor="middle" fill="#ff0000" font-family="'Liberation Serif','Noto Serif CJK SC',serif" textLength="56" lengthAdjust="spacingAndGlyphs">110 ± 0. 5</text>
<line x1="200.3" y1="424" x2="200.3" y2="453.5" stroke="#4f6ec2" stroke-width="1"/>
<line x1="275.5" y1="424" x2="275.5" y2="453.5" stroke="#4f6ec2" stroke-width="1"/>
<line x1="200.3" y1="426.2" x2="275.5" y2="426.2" stroke="#4f6ec2" stroke-width="1"/>
<polyline points="208.8,424.1 200.3,426.2 208.8,428.3" stroke="#4f6ec2" stroke-width="1" fill="none"/>
<polyline points="267,428.3 275.5,426.2 267,424.1" stroke="#4f6ec2" stroke-width="1" fill="none"/>
<text x="237.4" y="424" font-size="14" text-anchor="middle" fill="#ff0000" font-family="'Liberation Serif','Noto Serif CJK SC',serif" textLength="62" lengthAdjust="spacingAndGlyphs">77. 5 ± 0. 2</text>
<line x1="193.2" y1="455" x2="193.2" y2="466" stroke="#4f6ec2" stroke-width="1"/>
<line x1="206.2" y1="455" x2="206.2" y2="466" stroke="#4f6ec2" stroke-width="1"/>
<line x1="180" y1="463.4" x2="193.2" y2="463.4" stroke="#4f6ec2" stroke-width="1"/>
<polyline points="184.7,465.5 193.2,463.4 184.7,461.3" stroke="#4f6ec2" stroke-width="1" fill="none"/>
<line x1="206.2" y1="463.4" x2="252.8" y2="463.4" stroke="#4f6ec2" stroke-width="1"/>
<polyline points="214.7,461.3 206.2,463.4 214.7,465.5" stroke="#4f6ec2" stroke-width="1" fill="none"/>
<text x="237.6" y="460.6" font-size="14" text-anchor="middle" fill="#ff0000" font-family="'Liberation Serif','Noto Serif CJK SC',serif" textLength="26" lengthAdjust="spacingAndGlyphs">13. 5</text>
<line x1="215.1" y1="518.5" x2="215.1" y2="581.5" stroke="#4f6ec2" stroke-width="1"/>
<polyline points="213,542.5 215.1,551 217.2,542.5" stroke="#4f6ec2" stroke-width="1" fill="none"/>
<polyline points="217.2,569.9 215.1,561.4 213,569.9" stroke="#4f6ec2" stroke-width="1" fill="none"/>
<line x1="205.5" y1="551" x2="217.5" y2="551" stroke="#4f6ec2" stroke-width="1"/>
<line x1="205.5" y1="561.4" x2="217.5" y2="561.4" stroke="#4f6ec2" stroke-width="1"/>
<text x="213.2" y="525.8" font-size="14" text-anchor="middle" fill="#ff0000" font-family="'Liberation Serif','Noto Serif CJK SC',serif" transform="rotate(-90 213.2 525.8)" textLength="12" lengthAdjust="spacingAndGlyphs">11</text>
<text x="238.6" y="546.6" font-size="14" text-anchor="middle" fill="#ff0000" font-family="'Liberation Serif','Noto Serif CJK SC',serif" textLength="27" lengthAdjust="spacingAndGlyphs">R5. 5</text>
<polyline points="223.8,547.6 252.8,547.6 270.8,554.6" stroke="#4f6ec2" stroke-width="1" fill="none"/>
<polyline points="263.16,553.56 270.8,554.6 264.46,550.2" stroke="#4f6ec2" stroke-width="1" fill="none"/>
<line x1="200.3" y1="556.6" x2="200.3" y2="608" stroke="#4f6ec2" stroke-width="1"/>
<line x1="274.3" y1="556.6" x2="274.3" y2="590" stroke="#4f6ec2" stroke-width="1"/>
<line x1="198.2" y1="562" x2="198.2" y2="608" stroke="#4f6ec2" stroke-width="1"/>
<line x1="277" y1="562" x2="277" y2="608" stroke="#4f6ec2" stroke-width="1"/>
<line x1="200.3" y1="587.7" x2="274.3" y2="587.7" stroke="#4f6ec2" stroke-width="1"/>
<polyline points="208.8,585.6 200.3,587.7 208.8,589.8" stroke="#4f6ec2" stroke-width="1" fill="none"/>
<polyline points="265.8,589.8 274.3,587.7 265.8,585.6" stroke="#4f6ec2" stroke-width="1" fill="none"/>
<line x1="198.2" y1="605.5" x2="277" y2="605.5" stroke="#4f6ec2" stroke-width="1"/>
<polyline points="206.7,603.4 198.2,605.5 206.7,607.6" stroke="#4f6ec2" stroke-width="1" fill="none"/>
<polyline points="268.5,607.6 277,605.5 268.5,603.4" stroke="#4f6ec2" stroke-width="1" fill="none"/>
<text x="240.5" y="585.4" font-size="14" text-anchor="middle" fill="#ff0000" font-family="'Liberation Serif','Noto Serif CJK SC',serif" textLength="48" lengthAdjust="spacingAndGlyphs">75 ± 0. 2</text>
<text x="239.3" y="603.6" font-size="14" text-anchor="middle" fill="#ff0000" font-family="'Liberation Serif','Noto Serif CJK SC',serif" textLength="48" lengthAdjust="spacingAndGlyphs">80 ± 0. 2</text>
<line x1="291.4" y1="438.6" x2="340" y2="438.6" stroke="#4f6ec2" stroke-width="1"/>
<line x1="291.4" y1="571" x2="340" y2="571" stroke="#4f6ec2" stroke-width="1"/>
<line x1="278" y1="453.5" x2="325.5" y2="453.5" stroke="#4f6ec2" stroke-width="1"/>
<line x1="278" y1="556.6" x2="325.5" y2="556.6" stroke="#4f6ec2" stroke-width="1"/>
<line x1="322.1" y1="453.5" x2="322.1" y2="556.6" stroke="#4f6ec2" stroke-width="1"/>
<polyline points="324.2,462 322.1,453.5 320,462" stroke="#4f6ec2" stroke-width="1" fill="none"/>
<polyline points="320,548.1 322.1,556.6 324.2,548.1" stroke="#4f6ec2" stroke-width="1" fill="none"/>
<line x1="335.8" y1="438.6" x2="335.8" y2="571" stroke="#4f6ec2" stroke-width="1"/>
<polyline points="337.9,447.1 335.8,438.6 333.7,447.1" stroke="#4f6ec2" stroke-width="1" fill="none"/>
<polyline points="333.7,562.5 335.8,571 337.9,562.5" stroke="#4f6ec2" stroke-width="1" fill="none"/>
<text x="318.7" y="504.2" font-size="14" text-anchor="middle" fill="#ff0000" font-family="'Liberation Serif','Noto Serif CJK SC',serif" transform="rotate(-90 318.7 504.2)" textLength="55" lengthAdjust="spacingAndGlyphs">105 ± 0. 2</text>
<text x="332" y="504.2" font-size="14" text-anchor="middle" fill="#ff0000" font-family="'Liberation Serif','Noto Serif CJK SC',serif" transform="rotate(-90 332 504.2)" textLength="55" lengthAdjust="spacingAndGlyphs">135 ± 0. 5</text>
<line x1="0" y1="405.2" x2="2.2" y2="405.2" stroke="#ff0000" stroke-width="1.2"/>
</g>
<g id="v5">
<path d="M540.5 439.3 L630.5 439.3 Q641.6 439.3 641.6 450.5 L641.6 559 Q641.6 570.2 630.5 570.2 L540.5 570.2" stroke="#000" stroke-width="1.1" fill="#fff"/>
<path d="M540.5 447 L627 447 Q634.6 447 634.6 454.5 L634.6 555 Q634.6 562.5 627 562.5 L540.5 562.5" stroke="#000" stroke-width="1" fill="#fff"/>
<rect x="496.4" y="451.5" width="128" height="8.6" stroke="#000" stroke-width="1" fill="#fff"/>
<line x1="540.5" y1="451.5" x2="540.5" y2="460.1" stroke="#000" stroke-width="0.9"/>
<line x1="566" y1="451.5" x2="566" y2="460.1" stroke="#000" stroke-width="0.9"/>
<line x1="583.5" y1="451.5" x2="583.5" y2="460.1" stroke="#000" stroke-width="0.9"/>
<line x1="617" y1="451.5" x2="617" y2="460.1" stroke="#000" stroke-width="0.9"/>
<ellipse cx="549.6" cy="457.8" rx="4.6" ry="6.2" stroke="#000" stroke-width="1" fill="#fff"/>
<ellipse cx="621.5" cy="457.8" rx="3.6" ry="6" stroke="#000" stroke-width="1" fill="#fff"/>
<rect x="496.4" y="548.4" width="128" height="9" stroke="#000" stroke-width="1" fill="#fff"/>
<line x1="540.5" y1="548.4" x2="540.5" y2="557.4" stroke="#000" stroke-width="0.9"/>
<line x1="566" y1="548.4" x2="566" y2="557.4" stroke="#000" stroke-width="0.9"/>
<line x1="583.5" y1="548.4" x2="583.5" y2="557.4" stroke="#000" stroke-width="0.9"/>
<line x1="617" y1="548.4" x2="617" y2="557.4" stroke="#000" stroke-width="0.9"/>
<ellipse cx="549.6" cy="550.9" rx="4.6" ry="6.2" stroke="#000" stroke-width="1" fill="#fff"/>
<ellipse cx="621.5" cy="550.9" rx="3.6" ry="6" stroke="#000" stroke-width="1" fill="#fff"/>
<path d="M515.9 451 L515.9 442 Q516.4 439.6 519 439.4 L537.4 439.4 Q540 439.6 540.5 442 L540.5 451 Z" stroke="#000" stroke-width="1.2" fill="#fff"/>
<path d="M522.6 440.4 Q521.6 445 522.6 450.6 M534.2 440.4 Q535.2 445 534.2 450.6" stroke="#000" stroke-width="1" fill="none"/>
<path d="M516.6 442.5 Q519.4 439.8 522.4 442 Q528.4 438.4 534.4 442 Q537.4 439.8 540 442.5" stroke="#000" stroke-width="0.9" fill="none"/>
<rect x="515.9" y="460.1" width="24.6" height="5.9" stroke="#000" stroke-width="0.9" fill="#fff"/>
<line x1="516.5" y1="461.5" x2="540" y2="461.5" stroke="#000" stroke-width="1.6"/>
<line x1="516.5" y1="463.8" x2="540" y2="463.8" stroke="#000" stroke-width="1.2"/>
<rect x="515.9" y="543.5" width="24.6" height="4.9" stroke="#000" stroke-width="0.9" fill="#fff"/>
<line x1="516.5" y1="547" x2="540" y2="547" stroke="#000" stroke-width="1.6"/>
<line x1="516.5" y1="544.8" x2="540" y2="544.8" stroke="#000" stroke-width="1.2"/>
<rect x="515.9" y="557.4" width="24.6" height="3.8" stroke="#000" stroke-width="0.9" fill="#fff"/>
<path d="M515.9 561 L515.9 569.4 Q516.4 571.6 519 571.8 L537.4 571.8 Q540 571.6 540.5 569.4 L540.5 561 Z" stroke="#000" stroke-width="1.2" fill="#fff"/>
<path d="M522.6 570.8 Q521.6 566 522.6 561.4 M534.2 570.8 Q535.2 566 534.2 561.4" stroke="#000" stroke-width="1" fill="none"/>
<path d="M516.6 568.7 Q519.4 571.4 522.4 569.2 Q528.4 572.8 534.4 569.2 Q537.4 571.4 540 568.7" stroke="#000" stroke-width="0.9" fill="none"/>
<path d="M521 571.8 L521 574 Q528 577.2 535.5 574 L535.5 571.8 Z" stroke="#000" stroke-width="0.9" fill="#000"/>
<g transform="matrix(1 0 0 1 528.8 504.7)" fill="none" stroke="#000" stroke-linecap="butt">
<rect x="-122" y="-39.3" width="244" height="78.6" rx="12" ry="24" fill="#fff" stroke="#000" stroke-width="2.6"/>
<clipPath id="tc450"><rect x="-121.6" y="-38.9" width="243.2" height="77.8" rx="12" ry="24"/></clipPath>
<g clip-path="url(#tc450)">
<path d="M-120.93 -31.42L-124.13 -38.9M-124.13 31.42L-120.93 38.9M-120.5 -31.42L-123.7 -38.9M-123.7 31.42L-120.5 38.9M-119.68 -31.42L-122.88 -38.9M-122.88 31.42L-119.68 38.9M-118.5 -31.42L-121.7 -38.9M-121.7 31.42L-118.5 38.9M-116.93 -31.42L-120.13 -38.9M-120.13 31.42L-116.93 38.9M-115 -31.42L-118.2 -38.9M-118.2 31.42L-115 38.9M-112.7 -31.42L-115.9 -38.9M-115.9 31.42L-112.7 38.9M-110.05 -31.42L-113.25 -38.9M-113.25 31.42L-110.05 38.9M-107.05 -31.42L-110.25 -38.9M-110.25 31.42L-107.05 38.9M-103.71 -31.42L-106.91 -38.9M-106.91 31.42L-103.71 38.9M-100.04 -31.42L-103.24 -38.9M-103.24 31.42L-100.04 38.9M-96.05 -31.42L-99.25 -38.9M-99.25 31.42L-96.05 38.9M-91.76 -31.42L-94.96 -38.9M-94.96 31.42L-91.76 38.9M-87.18 -31.42L-90.38 -38.9M-90.38 31.42L-87.18 38.9M-82.33 -31.42L-85.53 -38.9M-85.53 31.42L-82.33 38.9M-77.21 -31.42L-80.41 -38.9M-80.41 31.42L-77.21 38.9M-71.84 -31.42L-75.04 -38.9M-75.04 31.42L-71.84 38.9M-66.25 -31.42L-69.45 -38.9M-69.45 31.42L-66.25 38.9M-60.44 -31.42L-63.64 -38.9M-63.64 31.42L-60.44 38.9M-54.44 -31.42L-57.64 -38.9M-57.64 31.42L-54.44 38.9M-48.27 -31.42L-51.47 -38.9M-51.47 31.42L-48.27 38.9M-41.94 -31.42L-45.14 -38.9M-45.14 31.42L-41.94 38.9M-35.47 -31.42L-38.67 -38.9M-38.67 31.42L-35.47 38.9M-28.89 -31.42L-32.09 -38.9M-32.09 31.42L-28.89 38.9M-22.21 -31.42L-25.41 -38.9M-25.41 31.42L-22.21 38.9M-15.46 -31.42L-18.66 -38.9M-18.66 31.42L-15.46 38.9M-8.66 -31.42L-11.86 -38.9M-11.86 31.42L-8.66 38.9M-1.82 -31.42L-5.02 -38.9M-5.02 31.42L-1.82 38.9M5.02 -31.42L1.82 -38.9M1.82 31.42L5.02 38.9M11.86 -31.42L8.66 -38.9M8.66 31.42L11.86 38.9M18.66 -31.42L15.46 -38.9M15.46 31.42L18.66 38.9M25.41 -31.42L22.21 -38.9M22.21 31.42L25.41 38.9M32.09 -31.42L28.89 -38.9M28.89 31.42L32.09 38.9M38.67 -31.42L35.47 -38.9M35.47 31.42L38.67 38.9M45.14 -31.42L41.94 -38.9M41.94 31.42L45.14 38.9M51.47 -31.42L48.27 -38.9M48.27 31.42L51.47 38.9M57.64 -31.42L54.44 -38.9M54.44 31.42L57.64 38.9M63.64 -31.42L60.44 -38.9M60.44 31.42L63.64 38.9M69.45 -31.42L66.25 -38.9M66.25 31.42L69.45 38.9M75.04 -31.42L71.84 -38.9M71.84 31.42L75.04 38.9M80.41 -31.42L77.21 -38.9M77.21 31.42L80.41 38.9M85.53 -31.42L82.33 -38.9M82.33 31.42L85.53 38.9M90.38 -31.42L87.18 -38.9M87.18 31.42L90.38 38.9M94.96 -31.42L91.76 -38.9M91.76 31.42L94.96 38.9M99.25 -31.42L96.05 -38.9M96.05 31.42L99.25 38.9M103.24 -31.42L100.04 -38.9M100.04 31.42L103.24 38.9M106.91 -31.42L103.71 -38.9M103.71 31.42L106.91 38.9M110.25 -31.42L107.05 -38.9M107.05 31.42L110.25 38.9M113.25 -31.42L110.05 -38.9M110.05 31.42L113.25 38.9M115.9 -31.42L112.7 -38.9M112.7 31.42L115.9 38.9M118.2 -31.42L115 -38.9M115 31.42L118.2 38.9M120.13 -31.42L116.93 -38.9M116.93 31.42L120.13 38.9M121.7 -31.42L118.5 -38.9M118.5 31.42L121.7 38.9M122.88 -31.42L119.68 -38.9M119.68 31.42L122.88 38.9M123.7 -31.42L120.5 -38.9M120.5 31.42L123.7 38.9" stroke-width="1.9"/>
<line x1="-122.6" y1="-31.92" x2="122.6" y2="-31.92" stroke-width="1.2"/>
<line x1="-122.6" y1="-36.7" x2="122.6" y2="-36.7" stroke-width="0.9"/>
<line x1="-122.6" y1="31.92" x2="122.6" y2="31.92" stroke-width="1.2"/>
<line x1="-122.6" y1="36.7" x2="122.6" y2="36.7" stroke-width="0.9"/>
<path d="M-122.58 -31.92L-122.56 -30.4L-122.55 -28.87L-122.56 -27.35L-122.58 -25.82L-122.6 -24.3L-122.6 -22.77L-122.6 -21.25L-122.6 -19.72L-122.6 -18.2L-122.6 -16.67L-122.6 -15.15L-122.6 -13.62L-122.6 -12.1L-122.58 -10.57M-122.45 -31.92L-122.4 -30.4L-122.37 -28.87L-122.38 -27.35L-122.43 -25.82L-122.49 -24.3L-122.55 -22.77L-122.58 -21.25L-122.6 -19.72L-122.6 -18.2L-122.6 -16.67L-122.59 -15.15L-122.56 -13.62L-122.51 -12.1L-122.45 -10.57M-122.55 31.92L-122.58 30.4L-122.59 28.87L-122.58 27.35L-122.56 25.82L-122.52 24.3L-122.46 22.77L-122.38 21.25L-122.32 19.72L-122.28 18.2L-122.3 16.67L-122.36 15.15L-122.43 13.62L-122.5 12.1L-122.55 10.57M-122.37 31.92L-122.43 30.4L-122.46 28.87L-122.44 27.35L-122.4 25.82L-122.31 24.3L-122.2 22.77L-122.07 21.25L-121.97 19.72L-121.92 18.2L-121.95 16.67L-122.04 15.15L-122.16 13.62L-122.28 12.1L-122.37 10.57M-120.38 -31.92L-120.18 -30.4L-120.09 -28.87L-120.14 -27.35L-120.31 -25.82L-120.56 -24.3L-120.83 -22.77L-121.06 -21.25L-121.22 -19.72L-121.29 -18.2L-121.26 -16.67L-121.12 -15.15L-120.91 -13.62L-120.65 -12.1L-120.38 -10.57M-119.55 -31.92L-119.31 -30.4L-119.2 -28.87L-119.26 -27.35L-119.46 -25.82L-119.75 -24.3L-120.07 -22.77L-120.35 -21.25L-120.55 -19.72L-120.63 -18.2L-120.59 -16.67L-120.43 -15.15L-120.17 -13.62L-119.86 -12.1L-119.55 -10.57M-120.1 31.92L-120.31 30.4L-120.39 28.87L-120.35 27.35L-120.18 25.82L-119.91 24.3L-119.58 22.77L-119.26 21.25L-119.01 19.72L-118.9 18.2L-118.95 16.67L-119.16 15.15L-119.47 13.62L-119.81 12.1L-120.1 10.57M-119.22 31.92L-119.46 30.4L-119.56 28.87L-119.51 27.35L-119.31 25.82L-119 24.3L-118.62 22.77L-118.25 21.25L-117.97 19.72L-117.84 18.2L-117.91 16.67L-118.14 15.15L-118.49 13.62L-118.88 12.1L-119.22 10.57M-114.52 -31.92L-114.14 -30.4L-113.98 -28.87L-114.06 -27.35L-114.38 -25.82L-114.85 -24.3L-115.38 -22.77L-115.86 -21.25L-116.2 -19.72L-116.34 -18.2L-116.27 -16.67L-115.99 -15.15L-115.55 -13.62L-115.03 -12.1L-114.52 -10.57M-113.01 -31.92L-112.6 -30.4L-112.42 -28.87L-112.51 -27.35L-112.85 -25.82L-113.37 -24.3L-113.95 -22.77L-114.47 -21.25L-114.84 -19.72L-115 -18.2L-114.92 -16.67L-114.61 -15.15L-114.13 -13.62L-113.56 -12.1L-113.01 -10.57M-114 31.92L-114.38 30.4L-114.55 28.87L-114.46 27.35L-114.15 25.82L-113.65 24.3L-113.07 22.77L-112.5 21.25L-112.08 19.72L-111.9 18.2L-111.99 16.67L-112.35 15.15L-112.87 13.62L-113.47 12.1L-114 10.57M-112.44 31.92L-112.86 30.4L-113.03 28.87L-112.94 27.35L-112.6 25.82L-112.07 24.3L-111.43 22.77L-110.83 21.25L-110.38 19.72L-110.18 18.2L-110.28 16.67L-110.66 15.15L-111.23 13.62L-111.86 12.1L-112.44 10.57M-105.18 -31.92L-104.64 -30.4L-104.4 -28.87L-104.53 -27.35L-104.98 -25.82L-105.66 -24.3L-106.43 -22.77L-107.14 -21.25L-107.65 -19.72L-107.86 -18.2L-107.75 -16.67L-107.33 -15.15L-106.68 -13.62L-105.91 -12.1L-105.18 -10.57M-103.04 -31.92L-102.46 -30.4L-102.22 -28.87L-102.34 -27.35L-102.82 -25.82L-103.54 -24.3L-104.36 -22.77L-105.1 -21.25L-105.64 -19.72L-105.87 -18.2L-105.75 -16.67L-105.31 -15.15L-104.62 -13.62L-103.81 -12.1L-103.04 -10.57M-104.44 31.92L-104.98 30.4L-105.22 28.87L-105.1 27.35L-104.65 25.82L-103.94 24.3L-103.12 22.77L-102.34 21.25L-101.75 19.72L-101.5 18.2L-101.63 16.67L-102.12 15.15L-102.85 13.62L-103.68 12.1L-104.44 10.57M-102.25 31.92L-102.83 30.4L-103.07 28.87L-102.95 27.35L-102.47 25.82L-101.73 24.3L-100.86 22.77L-100.04 21.25L-99.43 19.72L-99.17 18.2L-99.3 16.67L-99.81 15.15L-100.58 13.62L-101.45 12.1L-102.25 10.57M-92.65 -31.92L-91.96 -30.4L-91.66 -28.87L-91.81 -27.35L-92.39 -25.82L-93.26 -24.3L-94.25 -22.77L-95.16 -21.25L-95.82 -19.72L-96.1 -18.2L-95.96 -16.67L-95.41 -15.15L-94.57 -13.62L-93.58 -12.1L-92.65 -10.57M-89.93 -31.92L-89.22 -30.4L-88.91 -28.87L-89.07 -27.35L-89.66 -25.82L-90.57 -24.3L-91.6 -22.77L-92.55 -21.25L-93.23 -19.72L-93.52 -18.2L-93.37 -16.67L-92.81 -15.15L-91.93 -13.62L-90.9 -12.1L-89.93 -10.57M-91.7 31.92L-92.39 30.4L-92.69 28.87L-92.54 27.35L-91.96 25.82L-91.07 24.3L-90.04 22.77L-89.06 21.25L-88.33 19.72L-88.02 18.2L-88.18 16.67L-88.78 15.15L-89.7 13.62L-90.74 12.1L-91.7 10.57M-88.95 31.92L-89.67 30.4L-89.98 28.87L-89.82 27.35L-89.22 25.82L-88.3 24.3L-87.23 22.77L-86.21 21.25L-85.47 19.72L-85.14 18.2L-85.31 16.67L-85.93 15.15L-86.88 13.62L-87.96 12.1L-88.95 10.57M-77.3 -31.92L-76.48 -30.4L-76.13 -28.87L-76.31 -27.35L-76.99 -25.82L-78.02 -24.3L-79.21 -22.77L-80.3 -21.25L-81.08 -19.72L-81.42 -18.2L-81.25 -16.67L-80.59 -15.15L-79.58 -13.62L-78.41 -12.1L-77.3 -10.57M-74.1 -31.92L-73.26 -30.4L-72.9 -28.87L-73.09 -27.35L-73.78 -25.82L-74.85 -24.3L-76.06 -22.77L-77.18 -21.25L-77.99 -19.72L-78.34 -18.2L-78.16 -16.67L-77.49 -15.15L-76.45 -13.62L-75.24 -12.1L-74.1 -10.57M-76.18 31.92L-77 30.4L-77.35 28.87L-77.17 27.35L-76.49 25.82L-75.44 24.3L-74.22 22.77L-73.07 21.25L-72.23 19.72L-71.86 18.2L-72.05 16.67L-72.75 15.15L-73.83 13.62L-75.05 12.1L-76.18 10.57M-72.95 31.92L-73.79 30.4L-74.15 28.87L-73.97 27.35L-73.27 25.82L-72.19 24.3L-70.94 22.77L-69.77 21.25L-68.9 19.72L-68.53 18.2L-68.72 16.67L-69.44 15.15L-70.54 13.62L-71.79 12.1L-72.95 10.57M-59.6 -31.92L-58.68 -30.4L-58.28 -28.87L-58.49 -27.35L-59.25 -25.82L-60.42 -24.3L-61.75 -22.77L-62.99 -21.25L-63.88 -19.72L-64.27 -18.2L-64.07 -16.67L-63.33 -15.15L-62.18 -13.62L-60.85 -12.1L-59.6 -10.57M-56.01 -31.92L-55.08 -30.4L-54.67 -28.87L-54.88 -27.35L-55.66 -25.82L-56.85 -24.3L-58.21 -22.77L-59.47 -21.25L-60.38 -19.72L-60.77 -18.2L-60.57 -16.67L-59.81 -15.15L-58.64 -13.62L-57.28 -12.1L-56.01 -10.57M-58.34 31.92L-59.26 30.4L-59.65 28.87L-59.45 27.35L-58.69 25.82L-57.51 24.3L-56.15 22.77L-54.87 21.25L-53.93 19.72L-53.52 18.2L-53.73 16.67L-54.51 15.15L-55.71 13.62L-57.07 12.1L-58.34 10.57M-54.73 31.92L-55.67 30.4L-56.07 28.87L-55.86 27.35L-55.09 25.82L-53.89 24.3L-52.5 22.77L-51.2 21.25L-50.25 19.72L-49.84 18.2L-50.05 16.67L-50.84 15.15L-52.06 13.62L-53.44 12.1L-54.73 10.57M-40.09 -31.92L-39.1 -30.4L-38.67 -28.87L-38.89 -27.35L-39.71 -25.82L-40.98 -24.3L-42.42 -22.77L-43.77 -21.25L-44.74 -19.72L-45.16 -18.2L-44.95 -16.67L-44.14 -15.15L-42.89 -13.62L-41.44 -12.1L-40.09 -10.57M-36.22 -31.92L-35.22 -30.4L-34.79 -28.87L-35.01 -27.35L-35.84 -25.82L-37.12 -24.3L-38.58 -22.77L-39.94 -21.25L-40.93 -19.72L-41.36 -18.2L-41.14 -16.67L-40.32 -15.15L-39.05 -13.62L-37.59 -12.1L-36.22 -10.57M-38.73 31.92L-39.72 30.4L-40.15 28.87L-39.93 27.35L-39.1 25.82L-37.83 24.3L-36.37 22.77L-35 21.25L-33.99 19.72L-33.56 18.2L-33.78 16.67L-34.62 15.15L-35.9 13.62L-37.36 12.1L-38.73 10.57M-34.85 31.92L-35.85 30.4L-36.29 28.87L-36.06 27.35L-35.23 25.82L-33.95 24.3L-32.47 22.77L-31.08 21.25L-30.07 19.72L-29.63 18.2L-29.85 16.67L-30.7 15.15L-31.99 13.62L-33.47 12.1L-34.85 10.57M-19.36 -31.92L-18.32 -30.4L-17.88 -28.87L-18.11 -27.35L-18.97 -25.82L-20.29 -24.3L-21.8 -22.77L-23.21 -21.25L-24.24 -19.72L-24.68 -18.2L-24.46 -16.67L-23.6 -15.15L-22.29 -13.62L-20.77 -12.1L-19.36 -10.57M-15.33 -31.92L-14.29 -30.4L-13.85 -28.87L-14.08 -27.35L-14.94 -25.82L-16.27 -24.3L-17.79 -22.77L-19.21 -21.25L-20.24 -19.72L-20.69 -18.2L-20.46 -16.67L-19.6 -15.15L-18.28 -13.62L-16.76 -12.1L-15.33 -10.57M-17.94 31.92L-18.98 30.4L-19.42 28.87L-19.19 27.35L-18.33 25.82L-17.01 24.3L-15.48 22.77L-14.06 21.25L-13.02 19.72L-12.57 18.2L-12.8 16.67L-13.67 15.15L-14.99 13.62L-16.52 12.1L-17.94 10.57M-13.91 31.92L-14.95 30.4L-15.4 28.87L-15.17 27.35L-14.3 25.82L-12.97 24.3L-11.44 22.77L-10.01 21.25L-8.97 19.72L-8.52 18.2L-8.75 16.67L-9.62 15.15L-10.95 13.62L-12.48 12.1L-13.91 10.57M1.96 -31.92L3 -30.4L3.46 -28.87L3.22 -27.35L2.35 -25.82L1.02 -24.3L-0.52 -22.77L-1.96 -21.25L-3 -19.72L-3.46 -18.2L-3.22 -16.67L-2.35 -15.15L-1.02 -13.62L0.52 -12.1L1.96 -10.57M6.02 -31.92L7.07 -30.4L7.52 -28.87L7.29 -27.35L6.42 -25.82L5.08 -24.3L3.54 -22.77L2.11 -21.25L1.06 -19.72L0.61 -18.2L0.84 -16.67L1.71 -15.15L3.05 -13.62L4.59 -12.1L6.02 -10.57M3.39 31.92L2.34 30.4L1.89 28.87L2.12 27.35L3 25.82L4.33 24.3L5.87 22.77L7.3 21.25L8.35 19.72L8.8 18.2L8.57 16.67L7.7 15.15L6.36 13.62L4.83 12.1L3.39 10.57M7.45 31.92L6.41 30.4L5.96 28.87L6.19 27.35L7.06 25.82L8.39 24.3L9.93 22.77L11.36 21.25L12.4 19.72L12.85 18.2L12.62 16.67L11.75 15.15L10.42 13.62L8.89 12.1L7.45 10.57M23.21 -31.92L24.24 -30.4L24.68 -28.87L24.46 -27.35L23.6 -25.82L22.29 -24.3L20.77 -22.77L19.36 -21.25L18.32 -19.72L17.88 -18.2L18.11 -16.67L18.97 -15.15L20.29 -13.62L21.8 -12.1L23.21 -10.57M27.19 -31.92L28.21 -30.4L28.65 -28.87L28.43 -27.35L27.58 -25.82L26.27 -24.3L24.77 -22.77L23.36 -21.25L22.33 -19.72L21.89 -18.2L22.12 -16.67L22.97 -15.15L24.29 -13.62L25.79 -12.1L27.19 -10.57M24.62 31.92L23.59 30.4L23.15 28.87L23.38 27.35L24.23 25.82L25.54 24.3L27.05 22.77L28.44 21.25L29.46 19.72L29.9 18.2L29.67 16.67L28.83 15.15L27.53 13.62L26.03 12.1L24.62 10.57M28.59 31.92L27.57 30.4L27.13 28.87L27.36 27.35L28.2 25.82L29.5 24.3L30.99 22.77L32.38 21.25L33.39 19.72L33.83 18.2L33.6 16.67L32.76 15.15L31.47 13.62L29.98 12.1L28.59 10.57M43.77 -31.92L44.74 -30.4L45.16 -28.87L44.95 -27.35L44.14 -25.82L42.89 -24.3L41.44 -22.77L40.09 -21.25L39.1 -19.72L38.67 -18.2L38.89 -16.67L39.71 -15.15L40.98 -13.62L42.42 -12.1L43.77 -10.57M47.54 -31.92L48.5 -30.4L48.92 -28.87L48.7 -27.35L47.9 -25.82L46.67 -24.3L45.24 -22.77L43.91 -21.25L42.93 -19.72L42.5 -18.2L42.72 -16.67L43.54 -15.15L44.78 -13.62L46.21 -12.1L47.54 -10.57M45.1 31.92L44.13 30.4L43.7 28.87L43.92 27.35L44.73 25.82L45.98 24.3L47.4 22.77L48.72 21.25L49.68 19.72L50.09 18.2L49.88 16.67L49.08 15.15L47.85 13.62L46.43 12.1L45.1 10.57M48.86 31.92L47.9 30.4L47.48 28.87L47.69 27.35L48.49 25.82L49.72 24.3L51.12 22.77L52.42 21.25L53.37 19.72L53.77 18.2L53.57 16.67L52.78 15.15L51.57 13.62L50.17 12.1L48.86 10.57M62.99 -31.92L63.88 -30.4L64.27 -28.87L64.07 -27.35L63.33 -25.82L62.18 -24.3L60.85 -22.77L59.6 -21.25L58.68 -19.72L58.28 -18.2L58.49 -16.67L59.25 -15.15L60.42 -13.62L61.75 -12.1L62.99 -10.57M66.44 -31.92L67.32 -30.4L67.7 -28.87L67.5 -27.35L66.77 -25.82L65.65 -24.3L64.34 -22.77L63.12 -21.25L62.22 -19.72L61.83 -18.2L62.03 -16.67L62.78 -15.15L63.92 -13.62L65.23 -12.1L66.44 -10.57M64.21 31.92L63.32 30.4L62.93 28.87L63.13 27.35L63.88 25.82L65.01 24.3L66.31 22.77L67.52 21.25L68.39 19.72L68.76 18.2L68.57 16.67L67.85 15.15L66.73 13.62L65.43 12.1L64.21 10.57M67.64 31.92L66.77 30.4L66.39 28.87L66.58 27.35L67.31 25.82L68.42 24.3L69.7 22.77L70.87 21.25L71.72 19.72L72.09 18.2L71.9 16.67L71.19 15.15L70.1 13.62L68.83 12.1L67.64 10.57M80.3 -31.92L81.08 -30.4L81.42 -28.87L81.25 -27.35L80.59 -25.82L79.58 -24.3L78.41 -22.77L77.3 -21.25L76.48 -19.72L76.13 -18.2L76.31 -16.67L76.99 -15.15L78.02 -13.62L79.21 -12.1L80.3 -10.57M83.32 -31.92L84.09 -30.4L84.42 -28.87L84.25 -27.35L83.61 -25.82L82.63 -24.3L81.49 -22.77L80.41 -21.25L79.62 -19.72L79.27 -18.2L79.45 -16.67L80.11 -15.15L81.12 -13.62L82.26 -12.1L83.32 -10.57M81.37 31.92L80.59 30.4L80.25 28.87L80.42 27.35L81.08 25.82L82.08 24.3L83.21 22.77L84.26 21.25L85.02 19.72L85.34 18.2L85.18 16.67L84.55 15.15L83.57 13.62L82.44 12.1L81.37 10.57M84.37 31.92L83.61 30.4L83.27 28.87L83.45 27.35L84.08 25.82L85.05 24.3L86.15 22.77L87.17 21.25L87.9 19.72L88.21 18.2L88.05 16.67L87.44 15.15L86.5 13.62L85.4 12.1L84.37 10.57M95.16 -31.92L95.82 -30.4L96.1 -28.87L95.96 -27.35L95.41 -25.82L94.57 -24.3L93.58 -22.77L92.65 -21.25L91.96 -19.72L91.66 -18.2L91.81 -16.67L92.39 -15.15L93.26 -13.62L94.25 -12.1L95.16 -10.57M97.67 -31.92L98.3 -30.4L98.57 -28.87L98.43 -27.35L97.91 -25.82L97.1 -24.3L96.16 -22.77L95.26 -21.25L94.6 -19.72L94.31 -18.2L94.46 -16.67L95.01 -15.15L95.85 -13.62L96.8 -12.1L97.67 -10.57M96.06 31.92L95.41 30.4L95.12 28.87L95.27 27.35L95.81 25.82L96.64 24.3L97.58 22.77L98.44 21.25L99.06 19.72L99.33 18.2L99.19 16.67L98.68 15.15L97.88 13.62L96.95 12.1L96.06 10.57M98.53 31.92L97.91 30.4L97.63 28.87L97.77 27.35L98.3 25.82L99.09 24.3L99.99 22.77L100.81 21.25L101.41 19.72L101.66 18.2L101.53 16.67L101.04 15.15L100.27 13.62L99.38 12.1L98.53 10.57M107.14 -31.92L107.65 -30.4L107.86 -28.87L107.75 -27.35L107.33 -25.82L106.68 -24.3L105.91 -22.77L105.18 -21.25L104.64 -19.72L104.4 -18.2L104.53 -16.67L104.98 -15.15L105.66 -13.62L106.43 -12.1L107.14 -10.57M109.06 -31.92L109.53 -30.4L109.73 -28.87L109.63 -27.35L109.24 -25.82L108.62 -24.3L107.9 -22.77L107.21 -21.25L106.7 -19.72L106.48 -18.2L106.59 -16.67L107.02 -15.15L107.67 -13.62L108.39 -12.1L109.06 -10.57M107.83 31.92L107.33 30.4L107.11 28.87L107.22 27.35L107.64 25.82L108.27 24.3L108.99 22.77L109.64 21.25L110.1 19.72L110.3 18.2L110.2 16.67L109.81 15.15L109.21 13.62L108.51 12.1L107.83 10.57M109.7 31.92L109.23 30.4L109.03 28.87L109.13 27.35L109.53 25.82L110.12 24.3L110.79 22.77L111.4 21.25L111.83 19.72L112.01 18.2L111.92 16.67L111.56 15.15L111 13.62L110.34 12.1L109.7 10.57M115.86 -31.92L116.2 -30.4L116.34 -28.87L116.27 -27.35L115.99 -25.82L115.55 -24.3L115.03 -22.77L114.52 -21.25L114.14 -19.72L113.98 -18.2L114.06 -16.67L114.38 -15.15L114.85 -13.62L115.38 -12.1L115.86 -10.57M117.13 -31.92L117.43 -30.4L117.56 -28.87L117.49 -27.35L117.24 -25.82L116.85 -24.3L116.37 -22.77L115.91 -21.25L115.56 -19.72L115.41 -18.2L115.49 -16.67L115.78 -15.15L116.21 -13.62L116.69 -12.1L117.13 -10.57M116.32 31.92L115.99 30.4L115.84 28.87L115.92 27.35L116.2 25.82L116.62 24.3L117.08 22.77L117.5 21.25L117.79 19.72L117.92 18.2L117.85 16.67L117.61 15.15L117.23 13.62L116.77 12.1L116.32 10.57M117.54 31.92L117.24 30.4L117.11 28.87L117.18 27.35L117.43 25.82L117.81 24.3L118.22 22.77L118.6 21.25L118.86 19.72L118.97 18.2L118.91 16.67L118.69 15.15L118.35 13.62L117.94 12.1L117.54 10.57M121.06 -31.92L121.22 -30.4L121.29 -28.87L121.26 -27.35L121.12 -25.82L120.91 -24.3L120.65 -22.77L120.38 -21.25L120.18 -19.72L120.09 -18.2L120.14 -16.67L120.31 -15.15L120.56 -13.62L120.83 -12.1L121.06 -10.57M121.64 -31.92L121.76 -30.4L121.82 -28.87L121.79 -27.35L121.69 -25.82L121.52 -24.3L121.3 -22.77L121.09 -21.25L120.92 -19.72L120.84 -18.2L120.88 -16.67L121.02 -15.15L121.23 -13.62L121.45 -12.1L121.64 -10.57M121.28 31.92L121.12 30.4L121.05 28.87L121.09 27.35L121.22 25.82L121.41 24.3L121.62 22.77L121.79 21.25L121.91 19.72L121.95 18.2L121.93 16.67L121.84 15.15L121.68 13.62L121.48 12.1L121.28 10.57M121.81 31.92L121.69 30.4L121.63 28.87L121.66 27.35L121.76 25.82L121.91 24.3L122.06 22.77L122.19 21.25L122.27 19.72L122.3 18.2L122.29 16.67L122.22 15.15L122.11 13.62L121.96 12.1L121.81 10.57M122.6 -31.92L122.6 -30.4L122.6 -28.87L122.6 -27.35L122.6 -25.82L122.6 -24.3L122.6 -22.77L122.58 -21.25L122.56 -19.72L122.55 -18.2L122.56 -16.67L122.58 -15.15L122.6 -13.62L122.6 -12.1L122.6 -10.57M122.6 -31.92L122.6 -30.4L122.6 -28.87L122.6 -27.35L122.6 -25.82L122.6 -24.3L122.6 -22.77L122.6 -21.25L122.6 -19.72L122.6 -18.2L122.6 -16.67L122.6 -15.15L122.6 -13.62L122.6 -12.1L122.6 -10.57M122.6 31.92L122.6 30.4L122.6 28.87L122.6 27.35L122.6 25.82L122.6 24.3L122.6 22.77L122.6 21.25L122.6 19.72L122.6 18.2L122.6 16.67L122.6 15.15L122.6 13.62L122.6 12.1L122.6 10.57M122.6 31.92L122.6 30.4L122.6 28.87L122.6 27.35L122.6 25.82L122.6 24.3L122.6 22.77L122.6 21.25L122.6 19.72L122.6 18.2L122.6 16.67L122.6 15.15L122.6 13.62L122.6 12.1L122.6 10.57" stroke-width="2.2" stroke-linejoin="round"/>
<path d="M-122.6 -31.92L-122.6 -30.4L-122.6 -28.87L-122.6 -27.35L-122.6 -25.82L-122.6 -24.3L-122.6 -22.77L-122.6 -21.25L-122.6 -19.72L-122.6 -18.2L-122.6 -16.67L-122.6 -15.15L-122.6 -13.62L-122.6 -12.1L-122.6 -10.57M-122.6 31.92L-122.6 30.4L-122.6 28.87L-122.6 27.35L-122.6 25.82L-122.59 24.3L-122.57 22.77L-122.54 21.25L-122.5 19.72L-122.49 18.2L-122.49 16.67L-122.52 15.15L-122.56 13.62L-122.59 12.1L-122.6 10.57M-122.37 -28.72Q-121.93 -12.69 -121.25 -28.72M-121.93 28.72Q-121.25 12.69 -120.35 28.72M-120.98 -31.92L-120.82 -30.4L-120.74 -28.87L-120.78 -27.35L-120.92 -25.82L-121.11 -24.3L-121.32 -22.77L-121.51 -21.25L-121.63 -19.72L-121.68 -18.2L-121.65 -16.67L-121.55 -15.15L-121.39 -13.62L-121.18 -12.1L-120.98 -10.57M-120.68 31.92L-120.84 30.4L-120.91 28.87L-120.88 27.35L-120.74 25.82L-120.52 24.3L-120.26 22.77L-119.99 21.25L-119.79 19.72L-119.7 18.2L-119.75 16.67L-119.92 15.15L-120.17 13.62L-120.44 12.1L-120.68 10.57M-119.21 -28.72Q-117.85 -12.69 -116.26 -28.72M-117.85 28.72Q-116.26 12.69 -114.46 28.72M-115.68 -31.92L-115.36 -30.4L-115.22 -28.87L-115.29 -27.35L-115.56 -25.82L-115.97 -24.3L-116.42 -22.77L-116.82 -21.25L-117.11 -19.72L-117.23 -18.2L-117.17 -16.67L-116.93 -15.15L-116.56 -13.62L-116.11 -12.1L-115.68 -10.57M-115.09 31.92L-115.42 30.4L-115.55 28.87L-115.48 27.35L-115.21 25.82L-114.79 24.3L-114.28 22.77L-113.8 21.25L-113.44 19.72L-113.28 18.2L-113.36 16.67L-113.67 15.15L-114.12 13.62L-114.63 12.1L-115.09 10.57M-112.43 -28.72Q-110.19 -12.69 -107.74 -28.72M-110.19 28.72Q-107.74 12.69 -105.09 28.72M-106.88 -31.92L-106.4 -30.4L-106.2 -28.87L-106.3 -27.35L-106.7 -25.82L-107.3 -24.3L-107.97 -22.77L-108.59 -21.25L-109.03 -19.72L-109.22 -18.2L-109.12 -16.67L-108.76 -15.15L-108.18 -13.62L-107.51 -12.1L-106.88 -10.57M-106 31.92L-106.48 30.4L-106.69 28.87L-106.58 27.35L-106.18 25.82L-105.57 24.3L-104.84 22.77L-104.15 21.25L-103.64 19.72L-103.42 18.2L-103.54 16.67L-103.96 15.15L-104.61 13.62L-105.33 12.1L-106 10.57M-102.23 -28.72Q-99.19 -12.69 -95.95 -28.72M-99.19 28.72Q-95.95 12.69 -92.53 28.72M-94.82 -31.92L-94.21 -30.4L-93.94 -28.87L-94.08 -27.35L-94.59 -25.82L-95.36 -24.3L-96.24 -22.77L-97.05 -21.25L-97.64 -19.72L-97.89 -18.2L-97.76 -16.67L-97.28 -15.15L-96.53 -13.62L-95.65 -12.1L-94.82 -10.57M-93.69 31.92L-94.31 30.4L-94.58 28.87L-94.44 27.35L-93.93 25.82L-93.14 24.3L-92.21 22.77L-91.34 21.25L-90.7 19.72L-90.42 18.2L-90.56 16.67L-91.1 15.15L-91.91 13.62L-92.84 12.1L-93.69 10.57M-88.93 -28.72Q-85.17 -12.69 -81.24 -28.72M-85.17 28.72Q-81.24 12.69 -77.15 28.72M-79.88 -31.92L-79.15 -30.4L-78.84 -28.87L-79 -27.35L-79.61 -25.82L-80.54 -24.3L-81.6 -22.77L-82.57 -21.25L-83.28 -19.72L-83.58 -18.2L-83.43 -16.67L-82.84 -15.15L-81.93 -13.62L-80.88 -12.1L-79.88 -10.57M-78.54 31.92L-79.28 30.4L-79.59 28.87L-79.43 27.35L-78.82 25.82L-77.88 24.3L-76.78 22.77L-75.75 21.25L-74.99 19.72L-74.67 18.2L-74.84 16.67L-75.47 15.15L-76.43 13.62L-77.53 12.1L-78.54 10.57M-72.93 -28.72Q-68.56 -12.69 -64.06 -28.72M-68.56 28.72Q-64.06 12.69 -59.44 28.72M-62.52 -31.92L-61.69 -30.4L-61.34 -28.87L-61.52 -27.35L-62.21 -25.82L-63.26 -24.3L-64.47 -22.77L-65.58 -21.25L-66.39 -19.72L-66.74 -18.2L-66.56 -16.67L-65.89 -15.15L-64.85 -13.62L-63.65 -12.1L-62.52 -10.57M-61 31.92L-61.83 30.4L-62.19 28.87L-62.01 27.35L-61.32 25.82L-60.25 24.3L-59.02 22.77L-57.86 21.25L-57.01 19.72L-56.65 18.2L-56.84 16.67L-57.54 15.15L-58.62 13.62L-59.86 12.1L-61 10.57M-54.7 -28.72Q-49.87 -12.69 -44.93 -28.72M-49.87 28.72Q-44.93 12.69 -39.91 28.72M-43.26 -31.92L-42.36 -30.4L-41.97 -28.87L-42.17 -27.35L-42.92 -25.82L-44.06 -24.3L-45.38 -22.77L-46.6 -21.25L-47.48 -19.72L-47.87 -18.2L-47.67 -16.67L-46.93 -15.15L-45.8 -13.62L-44.49 -12.1L-43.26 -10.57M-41.61 31.92L-42.51 30.4L-42.9 28.87L-42.7 27.35L-41.95 25.82L-40.79 24.3L-39.46 22.77L-38.21 21.25L-37.3 19.72L-36.91 18.2L-37.11 16.67L-37.87 15.15L-39.03 13.62L-40.37 12.1L-41.61 10.57M-34.82 -28.72Q-29.66 -12.69 -24.44 -28.72M-29.66 28.72Q-24.44 12.69 -19.18 28.72M-22.68 -31.92L-21.74 -30.4L-21.33 -28.87L-21.54 -27.35L-22.32 -25.82L-23.53 -24.3L-24.91 -22.77L-26.2 -21.25L-27.14 -19.72L-27.54 -18.2L-27.33 -16.67L-26.55 -15.15L-25.35 -13.62L-23.97 -12.1L-22.68 -10.57M-20.95 31.92L-21.89 30.4L-22.3 28.87L-22.09 27.35L-21.31 25.82L-20.1 24.3L-18.71 22.77L-17.4 21.25L-16.45 19.72L-16.04 18.2L-16.25 16.67L-17.05 15.15L-18.26 13.62L-19.65 12.1L-20.95 10.57M-13.88 -28.72Q-8.55 -12.69 -3.21 -28.72M-8.55 28.72Q-3.21 12.69 2.14 28.72M-1.42 -31.92L-0.46 -30.4L-0.04 -28.87L-0.25 -27.35L-1.05 -25.82L-2.28 -24.3L-3.69 -22.77L-5 -21.25L-5.96 -19.72L-6.38 -18.2L-6.16 -16.67L-5.37 -15.15L-4.14 -13.62L-2.73 -12.1L-1.42 -10.57M0.35 31.92L-0.61 30.4L-1.03 28.87L-0.82 27.35L-0.02 25.82L1.21 24.3L2.62 22.77L3.93 21.25L4.89 19.72L5.31 18.2L5.09 16.67L4.3 15.15L3.07 13.62L1.66 12.1L0.35 10.57M7.48 -28.72Q12.82 -12.69 18.12 -28.72M12.82 28.72Q18.12 12.69 23.39 28.72M19.89 -31.92L20.84 -30.4L21.25 -28.87L21.04 -27.35L20.25 -25.82L19.04 -24.3L17.65 -22.77L16.35 -21.25L15.39 -19.72L14.98 -18.2L15.19 -16.67L15.98 -15.15L17.2 -13.62L18.59 -12.1L19.89 -10.57M21.63 31.92L20.68 30.4L20.27 28.87L20.48 27.35L21.27 25.82L22.48 24.3L23.86 22.77L25.15 21.25L26.09 19.72L26.5 18.2L26.29 16.67L25.51 15.15L24.31 13.62L22.92 12.1L21.63 10.57M28.62 -28.72Q33.79 -12.69 38.9 -28.72M33.79 28.72Q38.9 12.69 43.94 28.72M40.6 -31.92L41.5 -30.4L41.89 -28.87L41.69 -27.35L40.94 -25.82L39.78 -24.3L38.45 -22.77L37.2 -21.25L36.28 -19.72L35.88 -18.2L36.09 -16.67L36.85 -15.15L38.02 -13.62L39.36 -12.1L40.6 -10.57M42.26 31.92L41.35 30.4L40.96 28.87L41.16 27.35L41.91 25.82L43.06 24.3L44.38 22.77L45.61 21.25L46.5 19.72L46.88 18.2L46.68 16.67L45.94 15.15L44.8 13.62L43.49 12.1L42.26 10.57M48.89 -28.72Q53.74 -12.69 58.5 -28.72M53.74 28.72Q58.5 12.69 63.14 28.72M60.07 -31.92L60.91 -30.4L61.26 -28.87L61.08 -27.35L60.39 -25.82L59.32 -24.3L58.08 -22.77L56.92 -21.25L56.06 -19.72L55.7 -18.2L55.89 -16.67L56.59 -15.15L57.68 -13.62L58.92 -12.1L60.07 -10.57M61.6 31.92L60.77 30.4L60.41 28.87L60.59 27.35L61.28 25.82L62.34 24.3L63.55 22.77L64.67 21.25L65.49 19.72L65.84 18.2L65.66 16.67L64.98 15.15L63.94 13.62L62.73 12.1L61.6 10.57M67.67 -28.72Q72.06 -12.69 76.32 -28.72M72.06 28.72Q76.32 12.69 80.43 28.72M77.72 -31.92L78.46 -30.4L78.77 -28.87L78.61 -27.35L78 -25.82L77.05 -24.3L75.95 -22.77L74.91 -21.25L74.15 -19.72L73.81 -18.2L73.98 -16.67L74.62 -15.15L75.59 -13.62L76.69 -12.1L77.72 -10.57M79.07 31.92L78.33 30.4L78.01 28.87L78.18 27.35L78.79 25.82L79.73 24.3L80.79 22.77L81.78 21.25L82.49 19.72L82.8 18.2L82.64 16.67L82.05 15.15L81.13 13.62L80.07 12.1L79.07 10.57M84.39 -28.72Q88.19 -12.69 91.82 -28.72M88.19 28.72Q91.82 12.69 95.28 28.72M93 -31.92L93.62 -30.4L93.89 -28.87L93.75 -27.35L93.24 -25.82L92.44 -24.3L91.5 -22.77L90.62 -21.25L89.97 -19.72L89.69 -18.2L89.84 -16.67L90.38 -15.15L91.2 -13.62L92.14 -12.1L93 -10.57M94.14 31.92L93.52 30.4L93.25 28.87L93.39 27.35L93.91 25.82L94.69 24.3L95.58 22.77L96.4 21.25L96.99 19.72L97.24 18.2L97.11 16.67L96.62 15.15L95.86 13.62L94.98 12.1L94.14 10.57M98.55 -28.72Q101.64 -12.69 104.53 -28.72M101.64 28.72Q104.53 12.69 107.23 28.72M105.46 -31.92L105.95 -30.4L106.15 -28.87L106.05 -27.35L105.64 -25.82L105.02 -24.3L104.28 -22.77L103.59 -21.25L103.07 -19.72L102.84 -18.2L102.96 -16.67L103.39 -15.15L104.04 -13.62L104.78 -12.1L105.46 -10.57M106.35 31.92L105.87 30.4L105.66 28.87L105.76 27.35L106.17 25.82L106.77 24.3L107.46 22.77L108.09 21.25L108.54 19.72L108.73 18.2L108.63 16.67L108.26 15.15L107.68 13.62L107 12.1L106.35 10.57M109.72 -28.72Q112 -12.69 114.07 -28.72M112 28.72Q114.07 12.69 115.92 28.72M114.71 -31.92L115.05 -30.4L115.19 -28.87L115.12 -27.35L114.84 -25.82L114.41 -24.3L113.89 -22.77L113.4 -21.25L113.03 -19.72L112.87 -18.2L112.95 -16.67L113.26 -15.15L113.72 -13.62L114.24 -12.1L114.71 -10.57M115.32 31.92L114.99 30.4L114.85 28.87L114.92 27.35L115.2 25.82L115.61 24.3L116.08 22.77L116.49 21.25L116.79 19.72L116.91 18.2L116.85 16.67L116.61 15.15L116.22 13.62L115.76 12.1L115.32 10.57M117.55 -28.72Q118.96 -12.69 120.14 -28.72M118.96 28.72Q120.14 12.69 121.09 28.72M120.48 -31.92L120.66 -30.4L120.73 -28.87L120.69 -27.35L120.55 -25.82L120.32 -24.3L120.04 -22.77L119.77 -21.25L119.56 -19.72L119.47 -18.2L119.51 -16.67L119.69 -15.15L119.95 -13.62L120.23 -12.1L120.48 -10.57M120.8 31.92L120.63 30.4L120.55 28.87L120.59 27.35L120.73 25.82L120.94 24.3L121.16 22.77L121.36 21.25L121.49 19.72L121.55 18.2L121.52 16.67L121.41 15.15L121.23 13.62L121.01 12.1L120.8 10.57M121.81 -28.72Q122.3 -12.69 122.56 -28.72M122.3 28.72Q122.56 12.69 122.6 28.72M122.59 -31.92L122.6 -30.4L122.6 -28.87L122.6 -27.35L122.6 -25.82L122.58 -24.3L122.54 -22.77L122.5 -21.25L122.45 -19.72L122.43 -18.2L122.44 -16.67L122.48 -15.15L122.53 -13.62L122.57 -12.1L122.59 -10.57M122.6 31.92L122.6 30.4L122.6 28.87L122.6 27.35L122.6 25.82L122.6 24.3L122.6 22.77L122.6 21.25L122.6 19.72L122.6 18.2L122.6 16.67L122.6 15.15L122.6 13.62L122.6 12.1L122.6 10.57" stroke-width="1.3" stroke-linejoin="round"/>
<rect x="-122.6" y="-8.7" width="245.2" height="17.4" fill="#fff" stroke="none"/>
<line x1="-122.6" y1="-8.2" x2="122.6" y2="-8.2" stroke-width="3.2"/>
<line x1="-122.6" y1="8.2" x2="122.6" y2="8.2" stroke-width="3.2"/>
<line x1="-122.6" y1="-2.1" x2="122.6" y2="-2.1" stroke-width="1.8"/>
<line x1="-122.6" y1="2.1" x2="122.6" y2="2.1" stroke-width="1.8"/>
<path d="M-122.25 -7.5L-121.99 -7.5L-121.99 7.5L-122.25 7.5ZM-118.8 -7.5L-118.03 -7.5L-118.03 7.5L-118.8 7.5ZM-111.74 -7.5L-110.47 -7.5L-110.47 7.5L-111.74 7.5ZM-101.28 -7.5L-99.56 -7.5L-99.56 7.5L-101.28 7.5ZM-87.74 -7.5L-85.63 -7.5L-85.63 7.5L-87.74 7.5ZM-71.54 -7.5L-69.09 -7.5L-69.09 7.5L-71.54 7.5ZM-53.17 -7.5L-50.45 -7.5L-50.45 7.5L-53.17 7.5ZM-33.18 -7.5L-30.28 -7.5L-30.28 7.5L-33.18 7.5ZM-12.18 -7.5L-9.19 -7.5L-9.19 7.5L-12.18 7.5ZM9.19 -7.5L12.18 -7.5L12.18 7.5L9.19 7.5ZM30.28 -7.5L33.18 -7.5L33.18 7.5L30.28 7.5ZM50.45 -7.5L53.17 -7.5L53.17 7.5L50.45 7.5ZM69.09 -7.5L71.54 -7.5L71.54 7.5L69.09 7.5ZM85.63 -7.5L87.74 -7.5L87.74 7.5L85.63 7.5ZM99.56 -7.5L101.28 -7.5L101.28 7.5L99.56 7.5ZM110.47 -7.5L111.74 -7.5L111.74 7.5L110.47 7.5ZM118.03 -7.5L118.8 -7.5L118.8 7.5L118.03 7.5ZM121.99 -7.5L122.25 -7.5L122.25 7.5L121.99 7.5Z" fill="#000" stroke="none"/>
</g>
</g>
<line x1="547" y1="504.6" x2="626.3" y2="504.6" stroke="#ff0000" stroke-width="1.3" stroke-dasharray="17 3 3 3"/>
<line x1="588.2" y1="504.5" x2="594.6" y2="504.5" stroke="#4f6ec2" stroke-width="1"/>
<line x1="591.3" y1="501.5" x2="591.3" y2="507.7" stroke="#4f6ec2" stroke-width="1"/>
<path d="M423.9 425 A187 187 0 0 0 423.9 584.3" stroke="#ff0000" stroke-width="1.1" fill="none"/>
<polyline points="422.33,434.75 423.9,425 417.44,432.47" stroke="#ff0000" stroke-width="1.1" fill="none"/>
<polyline points="417.44,576.83 423.9,584.3 422.33,574.55" stroke="#ff0000" stroke-width="1.1" fill="none"/>
<text x="347.6" y="429.6" font-size="14" text-anchor="start" fill="#ff0000" font-family="'Liberation Serif','Noto Serif CJK SC',serif" textLength="52" lengthAdjust="spacingAndGlyphs">ϕ 380 ± 1</text>
<polyline points="347.6,431.8 400,431.8 418.3,437.6" stroke="#4f6ec2" stroke-width="1" fill="none"/>
<polyline points="410.61,437.05 418.3,437.6 411.69,433.62" stroke="#4f6ec2" stroke-width="1" fill="none"/>
<text x="345.6" y="586" font-size="14" text-anchor="start" fill="#ff0000" font-family="'Liberation Serif','Noto Serif CJK SC',serif" textLength="47.5" lengthAdjust="spacingAndGlyphs">R190 ± 1</text>
<polyline points="345.6,588.7 397.5,588.7 421.3,579.5" stroke="#4f6ec2" stroke-width="1" fill="none"/>
<polyline points="414.95,583.88 421.3,579.5 413.66,580.53" stroke="#4f6ec2" stroke-width="1" fill="none"/>
</g>
<g id="isoL" stroke-linejoin="round">
<path d="M695.2 437.2 L726.6 417.2 Q729.6 415.3 733 417 L757 429 L757 446 L731 459 L700 446 L696.5 443.3 Z" stroke="#000" stroke-width="1" fill="#fff"/>
<path d="M696.5 443.3 L727.6 423.4 Q730 422 733 423.2 L757 435.2" stroke="#000" stroke-width="0.9" fill="none"/>
<ellipse cx="702.6" cy="439.3" rx="2.4" ry="1.5" stroke="#000" stroke-width="0.9" fill="#fff" transform="rotate(-25 702.6 439.3)"/>
<ellipse cx="729.5" cy="424" rx="2.6" ry="1.6" stroke="#000" stroke-width="0.9" fill="#fff" transform="rotate(-25 729.5 424)"/>
<path d="M727 432 L748 444 L742 452 L722 440 Z" stroke="#000" stroke-width="0.9" fill="#fff"/>
<path d="M711 441 Q723 430 736 433" stroke="#000" stroke-width="1.6" fill="none"/>
<polygon points="700.6,508.6 700.8,503.4 701.1,500.7 702.1,495.3 702.7,492.6 704.3,487.1 706.3,481.6 707.5,478.9 708.7,476.2 711.5,471 713,468.4 714.6,465.9 716.3,463.4 718,461 719.8,458.7 723.6,454.3 725.5,452.3 727.6,450.3 729.6,448.5 731.7,446.7 733.8,445.1 735.9,443.6 738.1,442.2 740.3,440.9 742.4,439.8 744.6,438.8 746.8,437.9 748.9,437.2 751,436.6 753.1,436.2 755.2,435.9 757.3,435.7 759.2,435.7 761.2,435.8 763.1,436.1 764.9,436.5 766.7,437.1 768.4,437.8 782.2,444.3 783.8,445.2 785.4,446.2 787,447.3 799.1,456.6 800.5,457.8 801.8,459.1 803,460.6 804.1,462.2 805.1,463.9 806,465.7 806.8,467.7 807.5,469.7 808.1,471.8 808.6,474 809.2,478.6 809.3,481 809.4,483.5 809.3,486.1 809.1,488.7 808.8,491.3 808.4,494 807.9,496.7 807.2,499.4 806.5,502.1 804.7,507.6 802.5,513 801.3,515.6 799.9,518.3 798.5,520.9 797,523.4 793.8,528.4 792.1,530.7 790.3,533 788.4,535.3 786.5,537.4 784.6,539.4 782.6,541.4 780.5,543.2 778.5,544.9 776.4,546.6 774.2,548.1 770,550.7 767.8,551.8 765.6,552.8 763.5,553.7 761.4,554.4 759.3,555 757.2,555.4 755.1,555.7 753.1,555.9 751.1,555.9 749.2,555.8 747.3,555.5 745.5,555.1 743.7,554.5 742,553.8 729.8,548.4 728.1,547.6 726.4,546.8 724.8,545.8 712.4,536.8 710.9,535.7 709.5,534.5 708.2,533.1 707,531.6 705.9,530 704.9,528.3 704,526.5 703.2,524.6 702.5,522.5 701.9,520.4 701.4,518.2 701,515.9 700.8,513.5 700.6,511.1" stroke="#000" stroke-width="0.6" fill="#000"/>
<path d="M773.97 441.54L774.72 442.18L776.92 443.48L776.17 442.84ZM775.36 442.77L776.06 443.48L778.25 444.78L777.55 444.07ZM776.65 444.12L777.31 444.9L779.5 446.2L778.85 445.42ZM777.86 445.6L778.46 446.44L780.65 447.74L780.05 446.9ZM778.97 447.2L779.52 448.09L781.71 449.39L781.16 448.5ZM779.98 448.9L780.47 449.86L782.67 451.16L782.17 450.21ZM780.89 450.72L781.33 451.74L783.52 453.04L783.08 452.02ZM781.69 452.65L782.08 453.71L784.27 455.01L783.88 453.95ZM782.39 454.67L782.72 455.79L784.91 457.09L784.58 455.97ZM782.98 456.78L783.25 457.95L785.44 459.25L785.17 458.09ZM783.46 458.99L783.67 460.2L785.87 461.5L785.66 460.29ZM783.83 461.27L783.99 462.52L786.18 463.82L786.03 462.57ZM784.09 463.64L784.19 464.92L786.38 466.22L786.29 464.94ZM784.24 466.07L784.27 467.39L786.47 468.69L786.43 467.37ZM784.27 468.56L784.25 469.91L786.44 471.21L786.47 469.86ZM784.2 471.11L784.11 472.48L786.3 473.79L786.39 472.41ZM784 473.7L783.86 475.1L786.05 476.4L786.2 475ZM783.7 476.34L783.49 477.76L785.68 479.06L785.89 477.64ZM783.28 479.01L783.02 480.45L785.21 481.75L785.48 480.31ZM782.76 481.71L782.43 483.16L784.63 484.46L784.95 483.01ZM782.12 484.43L781.74 485.89L783.93 487.19L784.32 485.73ZM781.38 487.16L780.94 488.62L783.14 489.92L783.57 488.46ZM780.53 489.9L780.04 491.35L782.23 492.65L782.73 491.2ZM779.59 492.63L779.04 494.08L781.23 495.38L781.78 493.93ZM778.54 495.35L777.94 496.79L780.13 498.09L780.73 496.65ZM777.39 498.05L776.74 499.49L778.93 500.79L779.58 499.35ZM776.15 500.73L775.45 502.15L777.64 503.45L778.34 502.03ZM774.82 503.38L774.07 504.77L776.26 506.07L777.01 504.68ZM773.4 505.98L772.61 507.36L774.8 508.66L775.59 507.28ZM771.89 508.54L771.06 509.89L773.25 511.19L774.09 509.84ZM770.31 511.05L769.44 512.36L771.63 513.66L772.51 512.35ZM768.66 513.49L767.75 514.77L769.94 516.07L770.85 514.79ZM766.93 515.87L765.98 517.11L768.18 518.41L769.12 517.17ZM765.14 518.17L764.16 519.37L766.35 520.67L767.33 519.47ZM763.29 520.39L762.28 521.54L764.47 522.84L765.48 521.69ZM761.38 522.53L760.34 523.63L762.54 524.93L763.57 523.83ZM759.42 524.57L758.36 525.62L760.55 526.92L761.62 525.87ZM757.42 526.52L756.34 527.51L758.53 528.81L759.61 527.82ZM755.38 528.36L754.27 529.3L756.47 530.6L757.57 529.66ZM753.3 530.09L752.18 530.97L754.38 532.27L755.5 531.39ZM751.2 531.71L750.07 532.53L752.26 533.83L753.39 533.01ZM749.07 533.21L747.93 533.97L750.12 535.27L751.26 534.51ZM746.93 534.59L745.78 535.28L747.97 536.58L749.12 535.9ZM744.78 535.85L743.62 536.47L745.82 537.77L746.97 537.15ZM742.62 536.98L741.47 537.52L743.66 538.82L744.81 538.28ZM740.46 537.97L739.31 538.45L741.51 539.75L742.65 539.27ZM738.31 538.83L737.17 539.23L739.36 540.53L740.5 540.13ZM736.17 539.55L735.04 539.88L737.23 541.18L738.37 540.85ZM734.06 540.14L732.94 540.39L735.13 541.69L736.25 541.44ZM731.96 540.58L730.86 540.76L733.05 542.06L734.16 541.88ZM729.9 540.88L728.81 540.98L731.01 542.28L732.09 542.18ZM727.87 541.04L726.81 541.07L729 542.37L730.07 542.34ZM725.89 541.06L724.85 541.01L727.04 542.31L728.08 542.36ZM723.95 540.93L722.94 540.8L725.13 542.1L726.14 542.23ZM722.06 540.66L721.08 540.45L723.27 541.76L724.26 541.96ZM720.23 540.24L719.28 539.97L721.48 541.27L722.43 541.55ZM718.47 539.69L717.55 539.34L719.75 540.64L720.66 540.99ZM782.55 446.13L784.09 447.94L788.04 450.28L786.49 448.47ZM785.42 449.83L786.67 451.99L790.62 454.33L789.37 452.17ZM787.72 454.19L788.66 456.67L792.61 459.02L791.66 456.53ZM789.4 459.16L790.02 461.92L793.96 464.26L793.35 461.5ZM790.44 464.65L790.72 467.64L794.67 469.98L794.39 466.99ZM790.83 470.57L790.77 473.75L794.72 476.1L794.78 472.91ZM790.55 476.84L790.15 480.16L794.1 482.5L794.5 479.18ZM789.62 483.35L788.89 486.75L792.83 489.09L793.57 485.69ZM788.04 489.99L786.99 493.43L790.93 495.77L791.99 492.33ZM785.84 496.68L784.49 500.09L788.43 502.43L789.79 499.02ZM783.06 503.29L781.42 506.63L785.37 508.97L787.01 505.63ZM779.74 509.73L777.84 512.94L781.79 515.28L783.69 512.07ZM775.94 515.9L773.81 518.93L777.76 521.27L779.88 518.24ZM771.7 521.69L769.38 524.49L773.33 526.83L775.65 524.03ZM767.1 527.01L764.63 529.54L768.57 531.88L771.05 529.36ZM762.22 531.79L759.62 534.01L763.57 536.35L766.17 534.13ZM757.12 535.95L754.45 537.82L758.4 540.16L761.07 538.29ZM751.9 539.41L749.19 540.91L753.13 543.25L755.84 541.75ZM746.62 542.14L743.92 543.23L747.87 545.57L750.57 544.48ZM741.38 544.07L738.73 544.75L742.68 547.09L745.33 546.41ZM736.26 545.19L733.7 545.44L737.64 547.78L740.2 547.53ZM731.33 545.47L728.9 545.29L732.85 547.63L735.28 547.81ZM726.68 544.91L724.42 544.3L728.37 546.64L730.63 547.25ZM790.77 450.07L792.46 451.7L796.41 454.04L794.72 452.41ZM793.93 453.43L795.34 455.43L799.29 457.77L797.88 455.77ZM796.53 457.49L797.64 459.83L801.59 462.17L800.48 459.83ZM798.54 462.19L799.32 464.82L803.27 467.17L802.49 464.53ZM799.91 467.45L800.36 470.35L804.31 472.69L803.86 469.79ZM800.63 473.19L800.74 476.31L804.69 478.65L804.58 475.54ZM800.68 479.33L800.45 482.61L804.4 484.95L804.63 481.67ZM800.08 485.76L799.51 489.15L803.45 491.49L804.02 488.1ZM798.81 492.39L797.91 495.83L801.86 498.17L802.76 494.73ZM796.91 499.1L795.7 502.55L799.64 504.89L800.86 501.44ZM794.41 505.79L792.9 509.19L796.84 511.53L798.35 508.14ZM791.33 512.37L789.55 515.66L793.5 518L795.28 514.71ZM787.75 518.71L785.72 521.85L789.67 524.19L791.69 521.05ZM783.7 524.73L781.46 527.67L785.4 530.01L787.64 527.07ZM779.25 530.33L776.83 533.01L780.78 535.35L783.2 532.67ZM774.48 535.42L771.92 537.81L775.87 540.15L778.42 537.76ZM769.45 539.91L766.8 541.97L770.74 544.31L773.4 542.25ZM764.25 543.75L761.54 545.44L765.49 547.79L768.2 546.09ZM758.97 546.87L756.24 548.17L760.19 550.51L762.91 549.21ZM753.67 549.21L750.98 550.1L754.92 552.44L757.62 551.55ZM748.45 550.75L745.83 551.21L749.78 553.55L752.4 553.09ZM743.4 551.45L740.88 551.49L744.83 553.83L747.34 553.79ZM738.57 551.31L736.22 550.92L740.16 553.26L742.52 553.65ZM734.07 550.33L731.9 549.51L735.85 551.85L738.02 552.68ZM796.97 454.82L797.7 455.5L799.61 456.62L798.87 455.95ZM798.32 456.12L799.01 456.87L800.91 457.99L800.23 457.25ZM799.59 457.55L800.22 458.36L802.12 459.49L801.49 458.68ZM800.75 459.1L801.33 459.97L803.23 461.1L802.65 460.22ZM801.82 460.76L802.35 461.7L804.25 462.83L803.72 461.89ZM802.79 462.54L803.26 463.54L805.16 464.66L804.69 463.67ZM803.65 464.43L804.07 465.48L805.97 466.61L805.55 465.56ZM804.41 466.42L804.77 467.52L806.67 468.65L806.31 467.55ZM805.06 468.51L805.36 469.66L807.26 470.79L806.96 469.63ZM805.6 470.69L805.85 471.88L807.75 473.01L807.5 471.81ZM806.03 472.95L806.22 474.19L808.12 475.32L807.93 474.08ZM806.35 475.29L806.47 476.57L808.37 477.7L808.25 476.42ZM806.56 477.71L806.62 479.03L808.52 480.15L808.46 478.84ZM806.65 480.19L806.65 481.54L808.55 482.67L808.55 481.32ZM806.62 482.73L806.56 484.11L808.47 485.24L808.52 483.86ZM806.49 485.33L806.37 486.73L808.27 487.86L808.39 486.46ZM806.24 487.97L806.06 489.39L807.96 490.52L808.14 489.1ZM805.87 490.65L805.63 492.09L807.54 493.21L807.77 491.77ZM805.4 493.35L805.1 494.81L807 495.94L807.3 494.48ZM804.81 496.09L804.46 497.55L806.36 498.68L806.71 497.21ZM804.12 498.84L803.71 500.3L805.61 501.43L806.02 499.96ZM803.32 501.59L802.85 503.06L804.75 504.19L805.22 502.72ZM802.41 504.35L801.89 505.82L803.79 506.94L804.31 505.48ZM801.4 507.1L800.83 508.56L802.73 509.69L803.31 508.23ZM800.3 509.84L799.67 511.29L801.57 512.41L802.2 510.96ZM799.09 512.55L798.41 513.99L800.31 515.11L800.99 513.68ZM797.79 515.24L797.07 516.65L798.97 517.78L799.7 516.36ZM796.41 517.88L795.63 519.28L797.53 520.41L798.31 519.01ZM794.93 520.49L794.12 521.86L796.02 522.99L796.84 521.62ZM793.38 523.04L792.52 524.38L794.42 525.51L795.28 524.17ZM791.75 525.54L790.85 526.84L792.75 527.97L793.65 526.67ZM790.04 527.97L789.1 529.24L791 530.36L791.94 529.1ZM788.27 530.33L787.3 531.56L789.2 532.68L790.17 531.46ZM786.43 532.61L785.43 533.79L787.33 534.92L788.33 533.74ZM784.53 534.81L783.5 535.94L785.4 537.07L786.43 535.94ZM782.58 536.92L781.53 538L783.43 539.13L784.49 538.04ZM780.59 538.93L779.5 539.96L781.4 541.09L782.49 540.05ZM778.55 540.84L777.44 541.81L779.34 542.94L780.45 541.96ZM776.47 542.64L775.35 543.56L777.25 544.68L778.37 543.77ZM774.36 544.33L773.23 545.19L775.13 546.31L776.26 545.46ZM772.23 545.91L771.08 546.7L772.98 547.82L774.13 547.03ZM770.08 547.36L768.92 548.08L770.82 549.21L771.98 548.49ZM767.91 548.69L766.75 549.35L768.65 550.47L769.81 549.82ZM765.74 549.89L764.57 550.48L766.48 551.6L767.64 551.02ZM763.56 550.96L762.4 551.48L764.3 552.6L765.46 552.09ZM761.39 551.9L760.23 552.34L762.13 553.47L763.29 553.02ZM759.23 552.69L758.08 553.06L759.98 554.19L761.13 553.82ZM757.08 553.35L755.94 553.65L757.84 554.77L758.98 554.48ZM754.96 553.87L753.83 554.09L755.73 555.22L756.86 555ZM752.86 554.25L751.75 554.39L753.66 555.51L754.76 555.37ZM750.8 554.48L749.71 554.54L751.61 555.67L752.7 555.6ZM748.77 554.57L747.71 554.55L749.61 555.68L750.67 555.69ZM746.79 554.51L745.76 554.42L747.66 555.55L748.7 555.64ZM744.87 554.31L743.86 554.14L745.76 555.27L746.77 555.43ZM742.99 553.96L742.02 553.72L743.92 554.85L744.89 555.09ZM741.18 553.48L740.24 553.16L742.14 554.29L743.08 554.6Z" fill="#fff" stroke="none"/>
<path d="M786.79 447.55L788.66 449.25L790.37 451.18L791.91 453.34L793.26 455.7L794.43 458.25L795.41 460.99L796.2 463.9L796.78 466.97L797.16 470.18L797.33 473.51L797.3 476.95L797.07 480.49L796.63 484.1L795.98 487.77L795.14 491.48L794.1 495.21L792.88 498.94L791.47 502.66L789.88 506.35L788.12 509.99L786.2 513.56L784.13 517.04L781.92 520.42L779.58 523.68L777.12 526.81L774.55 529.79L771.89 532.6L769.14 535.23L766.33 537.67L763.46 539.91L760.55 541.94L757.62 543.74L754.67 545.3L751.73 546.63L748.8 547.71L745.9 548.54L743.05 549.12L740.26 549.43L737.54 549.48L734.9 549.28L732.36 548.81L729.94 548.09" fill="none" stroke="#fff" stroke-width="0.7" stroke-dasharray="4 1.2"/>
<path d="M788.37 448.48L790.24 450.18L791.95 452.12L793.48 454.27L794.84 456.63L796.01 459.19L796.99 461.93L797.77 464.84L798.35 467.9L798.73 471.11L798.91 474.44L798.88 477.89L798.64 481.42L798.2 485.03L797.56 488.7L796.71 492.41L795.68 496.14L794.45 499.88L793.04 503.6L791.45 507.28L789.69 510.92L787.78 514.49L785.71 517.97L783.49 521.35L781.15 524.62L778.69 527.74L776.12 530.72L773.46 533.53L770.72 536.16L767.9 538.61L765.04 540.84L762.13 542.87L759.19 544.67L756.25 546.24L753.3 547.57L750.37 548.65L747.48 549.48L744.62 550.05L741.83 550.36L739.11 550.42L736.47 550.21L733.94 549.74L731.51 549.02" fill="none" stroke="#fff" stroke-width="0.7" stroke-dasharray="4 1.2"/>
<ellipse cx="742" cy="488.2" rx="33.33" ry="54.2" stroke="#000" stroke-width="0.5" fill="#000" transform="rotate(29.5 742 488.2)"/>
<ellipse cx="742" cy="488.2" rx="31.12" ry="50.6" stroke="#fff" stroke-width="0.4" fill="none" transform="rotate(29.5 742 488.2)"/>
<path d="M767.39 443.31L768.2 443.79L769.21 442.07L768.37 441.57ZM768.8 444.19L769.56 444.74L770.63 443.05L769.84 442.48ZM770.13 445.19L770.86 445.8L771.98 444.16L771.22 443.52ZM771.39 446.3L772.07 446.99L773.24 445.39L772.53 444.68ZM772.57 447.54L773.2 448.28L774.41 446.74L773.76 445.96ZM773.67 448.88L774.25 449.69L775.5 448.2L774.9 447.35ZM774.68 450.33L775.21 451.2L776.5 449.76L775.94 448.86ZM775.6 451.88L776.07 452.81L777.4 451.44L776.9 450.48ZM776.42 453.54L776.85 454.52L778.2 453.21L777.76 452.2ZM777.15 455.29L777.53 456.32L778.9 455.09L778.52 454.01ZM777.79 457.13L778.11 458.21L779.51 457.05L779.18 455.92ZM778.33 459.05L778.59 460.18L780.01 459.09L779.74 457.92ZM778.77 461.06L778.97 462.23L780.4 461.22L780.19 460.01ZM779.1 463.14L779.25 464.35L780.69 463.42L780.54 462.17ZM779.34 465.29L779.43 466.53L780.88 465.69L780.79 464.4ZM779.47 467.5L779.5 468.78L780.96 468.02L780.93 466.69ZM779.5 469.76L779.48 471.07L780.93 470.41L780.96 469.05ZM779.43 472.08L779.35 473.42L780.79 472.84L780.88 471.46ZM779.26 474.44L779.11 475.8L780.55 475.32L780.7 473.91ZM778.98 476.84L778.78 478.22L780.21 477.83L780.41 476.4ZM778.6 479.28L778.34 480.66L779.75 480.37L780.02 478.93ZM778.12 481.73L777.81 483.13L779.2 482.93L779.53 481.48ZM777.55 484.2L777.18 485.61L778.54 485.51L778.93 484.05ZM776.87 486.69L776.45 488.1L777.78 488.09L778.22 486.63ZM776.1 489.18L775.62 490.59L776.93 490.68L777.42 489.21ZM775.24 491.66L774.71 493.07L775.98 493.26L776.53 491.8ZM774.28 494.14L773.7 495.53L774.93 495.82L775.53 494.37ZM773.24 496.6L772.61 497.98L773.8 498.36L774.45 496.92ZM772.11 499.04L771.43 500.4L772.58 500.88L773.28 499.46ZM770.9 501.44L770.18 502.79L771.27 503.36L772.02 501.96ZM769.61 503.81L768.84 505.14L769.88 505.79L770.68 504.42ZM768.24 506.14L767.44 507.44L768.42 508.18L769.26 506.84ZM766.8 508.42L765.96 509.69L766.89 510.52L767.77 509.2ZM765.3 510.64L764.41 511.88L765.28 512.79L766.2 511.51ZM763.73 512.81L762.81 514L763.62 515L764.57 513.76ZM762.1 514.9L761.15 516.05L761.89 517.13L762.88 515.93ZM760.41 516.92L759.43 518.03L760.11 519.19L761.13 518.03ZM758.68 518.86L757.67 519.93L758.28 521.16L759.32 520.05ZM756.9 520.72L755.87 521.74L756.41 523.04L757.47 521.98ZM755.07 522.49L754.03 523.45L754.49 524.82L755.58 523.82ZM753.22 524.17L752.15 525.07L752.54 526.5L753.65 525.56ZM751.33 525.74L750.25 526.59L750.57 528.08L751.69 527.2ZM749.41 527.22L748.32 528.01L748.56 529.55L749.7 528.73ZM747.48 528.59L746.38 529.31L746.55 530.9L747.69 530.15ZM745.53 529.84L744.42 530.5L744.51 532.14L745.67 531.46ZM743.57 530.98L742.46 531.58L742.48 533.26L743.63 532.64ZM741.61 532.01L740.49 532.54L740.44 534.25L741.59 533.71ZM739.65 532.91L738.54 533.37L738.4 535.12L739.55 534.65ZM737.69 533.7L736.59 534.08L736.38 535.86L737.52 535.46ZM735.75 534.35L734.65 534.67L734.37 536.47L735.5 536.14ZM733.82 534.88L732.74 535.13L732.38 536.95L733.5 536.69ZM731.91 535.29L730.85 535.46L730.41 537.29L731.52 537.11ZM730.04 535.56L728.99 535.66L728.48 537.5L729.57 537.4ZM728.19 535.71L727.16 535.73L726.59 537.57L727.66 537.55ZM726.39 535.72L725.38 535.67L724.74 537.51L725.78 537.56ZM724.62 535.6L723.65 535.48L722.93 537.31L723.95 537.44ZM722.91 535.36L721.96 535.16L721.18 536.98L722.17 537.18ZM721.24 534.98L720.33 534.71L719.49 536.51L720.44 536.79ZM719.64 534.48L718.75 534.14L717.85 535.92L718.77 536.27ZM718.09 533.85L717.25 533.43L716.29 535.19L717.17 535.62ZM716.61 533.09L715.8 532.61L714.79 534.33L715.63 534.83ZM715.2 532.21L714.44 531.66L713.37 533.35L714.16 533.92ZM713.87 531.21L713.14 530.6L712.02 532.24L712.78 532.88ZM764.36 441.92L765.25 442.26L766.15 440.48L765.23 440.13ZM765.91 442.55L766.75 442.97L767.71 441.21L766.83 440.78Z" fill="#fff" stroke="none"/>
<ellipse cx="742" cy="488.2" rx="29.83" ry="48.5" stroke="#000" stroke-width="0.8" fill="#fff" transform="rotate(29.5 742 488.2)"/>
<ellipse cx="742.26" cy="488.35" rx="27.92" ry="45.4" stroke="#000" stroke-width="0.9" fill="none" transform="rotate(29.5 742.26 488.35)"/>
<ellipse cx="742.78" cy="488.64" rx="24.97" ry="40.6" stroke="#000" stroke-width="0.9" fill="none" transform="rotate(29.5 742.78 488.64)"/>
<ellipse cx="743.04" cy="488.79" rx="23.74" ry="38.6" stroke="#000" stroke-width="0.9" fill="none" transform="rotate(29.5 743.04 488.79)"/>
<ellipse cx="743.74" cy="489.18" rx="19.68" ry="32" stroke="#000" stroke-width="0.9" fill="none" transform="rotate(29.5 743.74 489.18)"/>
<ellipse cx="744" cy="489.33" rx="18.45" ry="30" stroke="#000" stroke-width="0.9" fill="none" transform="rotate(29.5 744 489.33)"/>
<ellipse cx="744.78" cy="489.77" rx="14.45" ry="23.5" stroke="#000" stroke-width="0.9" fill="none" transform="rotate(29.5 744.78 489.77)"/>
<ellipse cx="744.96" cy="489.87" rx="13.28" ry="21.6" stroke="#000" stroke-width="0.9" fill="none" transform="rotate(29.5 744.96 489.87)"/>
<ellipse cx="745.31" cy="490.07" rx="9.22" ry="15" stroke="#000" stroke-width="0.9" fill="none" transform="rotate(29.5 745.31 490.07)"/>
<path d="M701.6 450.0 L727.6 434.0 L731.6 434.6 L733.6 437.6 L751.6 478.6 Q752.8 488.5 746.5 493.2 L736.5 498.4 Q730.5 499.6 726.6 492.0 L703.1 464.2 Q701.4 457 701.6 450.0 Z" stroke="#000" stroke-width="1" fill="#fff"/>
<path d="M729.5 434.2 L749.4 478.8 Q750.5 487.5 745 491.8" stroke="#000" stroke-width="0.8" fill="none"/>
<path d="M700.5 448.2 L727.0 431.9" stroke="#000" stroke-width="1.5" fill="none"/>
<path d="M733 495 Q740 494.5 745.8 490" stroke="#000" stroke-width="0.8" fill="none"/>
<circle cx="734.4" cy="483" r="6.2" stroke="#000" stroke-width="0.8" fill="#000"/>
<ellipse cx="735.6" cy="484.2" rx="2.6" ry="3.4" stroke="#fff" stroke-width="0.7" fill="none" transform="rotate(20 735.6 484.2)"/>
</g>
<g id="isoR" stroke-linejoin="round">
<path d="M851.6 446.6 L849.0 456.5 L851.0 457.3 L853.8 447.6 Z" stroke="#000" stroke-width="0.8" fill="#fff"/>
<polygon points="811.6,522.3 811.7,519.7 811.9,517.1 812.2,514.5 812.6,511.8 813.1,509.1 813.8,506.4 814.5,503.7 816.3,498.2 818.5,492.8 819.7,490.2 821.1,487.5 822.5,484.9 824,482.4 827.2,477.4 828.9,475.1 830.7,472.8 832.6,470.5 834.5,468.4 836.4,466.4 838.4,464.4 840.5,462.6 842.5,460.9 844.6,459.2 846.8,457.7 848.9,456.4 851,455.1 853.2,454 855.4,453 857.5,452.1 859.6,451.4 861.7,450.8 863.8,450.4 865.9,450.1 867.9,449.9 869.9,449.9 871.8,450 873.7,450.3 875.5,450.7 877.3,451.3 879,452 891.2,457.4 894.6,459 896.2,460 908.6,469 910.1,470.1 911.5,471.3 912.8,472.7 914,474.2 915.1,475.8 916.1,477.5 917,479.3 917.8,481.2 918.5,483.3 919.1,485.4 919.6,487.6 920,489.9 920.2,492.3 920.4,494.7 920.4,497.2 920.2,502.4 919.9,505.1 918.9,510.5 918.3,513.2 916.7,518.7 914.7,524.2 912.3,529.6 910.9,532.2 909.5,534.8 908,537.4 906.4,539.9 904.7,542.4 903,544.8 901.2,547.1 897.4,551.5 895.5,553.5 893.4,555.5 891.4,557.3 889.3,559.1 887.2,560.7 885.1,562.2 882.9,563.6 880.7,564.9 878.6,566 876.4,567 874.2,567.9 872.1,568.6 870,569.2 867.9,569.6 865.8,569.9 863.7,570.1 861.8,570.1 859.8,570 857.9,569.7 856.1,569.3 854.3,568.7 852.6,568 838.8,561.5 837.2,560.6 835.6,559.6 834,558.5 821.9,549.2 820.5,548 819.2,546.7 818,545.2 816.9,543.6 815.9,541.9 815,540.1 814.2,538.1 813.5,536.1 812.9,534 812.4,531.8 811.8,527.2 811.7,524.8" stroke="#000" stroke-width="0.6" fill="#000"/>
<path d="M847.03 564.26L846.28 563.62L844.08 562.32L844.83 562.96ZM845.64 563.03L844.94 562.32L842.75 561.02L843.45 561.73ZM844.35 561.68L843.69 560.9L841.5 559.6L842.15 560.38ZM843.14 560.2L842.54 559.36L840.35 558.06L840.95 558.9ZM842.03 558.6L841.48 557.71L839.29 556.41L839.84 557.3ZM841.02 556.9L840.53 555.94L838.33 554.64L838.83 555.59ZM840.11 555.08L839.67 554.06L837.48 552.76L837.92 553.78ZM839.31 553.15L838.92 552.09L836.73 550.79L837.12 551.85ZM838.61 551.13L838.28 550.01L836.09 548.71L836.42 549.83ZM838.02 549.02L837.75 547.85L835.56 546.55L835.83 547.71ZM837.54 546.81L837.33 545.6L835.13 544.3L835.34 545.51ZM837.17 544.53L837.01 543.28L834.82 541.98L834.97 543.23ZM836.91 542.16L836.81 540.88L834.62 539.58L834.71 540.86ZM836.76 539.73L836.73 538.41L834.53 537.11L834.57 538.43ZM836.73 537.24L836.75 535.89L834.56 534.59L834.53 535.94ZM836.8 534.69L836.89 533.32L834.7 532.01L834.61 533.39ZM837 532.1L837.14 530.7L834.95 529.4L834.8 530.8ZM837.3 529.46L837.51 528.04L835.32 526.74L835.11 528.16ZM837.72 526.79L837.98 525.35L835.79 524.05L835.52 525.49ZM838.24 524.09L838.57 522.64L836.37 521.34L836.05 522.79ZM838.88 521.37L839.26 519.91L837.07 518.61L836.68 520.07ZM839.62 518.64L840.06 517.18L837.86 515.88L837.43 517.34ZM840.47 515.9L840.96 514.45L838.77 513.15L838.27 514.6ZM841.41 513.17L841.96 511.72L839.77 510.42L839.22 511.87ZM842.46 510.45L843.06 509.01L840.87 507.71L840.27 509.15ZM843.61 507.75L844.26 506.31L842.07 505.01L841.42 506.45ZM844.85 505.07L845.55 503.65L843.36 502.35L842.66 503.77ZM846.18 502.42L846.93 501.03L844.74 499.73L843.99 501.12ZM847.6 499.82L848.39 498.44L846.2 497.14L845.41 498.52ZM849.11 497.26L849.94 495.91L847.75 494.61L846.91 495.96ZM850.69 494.75L851.56 493.44L849.37 492.14L848.49 493.45ZM852.34 492.31L853.25 491.03L851.06 489.73L850.15 491.01ZM854.07 489.93L855.02 488.69L852.82 487.39L851.88 488.63ZM855.86 487.63L856.84 486.43L854.65 485.13L853.67 486.33ZM857.71 485.41L858.72 484.26L856.53 482.96L855.52 484.11ZM859.62 483.27L860.66 482.17L858.46 480.87L857.43 481.97ZM861.58 481.23L862.64 480.18L860.45 478.88L859.38 479.93ZM863.58 479.28L864.66 478.29L862.47 476.99L861.39 477.98ZM865.62 477.44L866.73 476.5L864.53 475.2L863.43 476.14ZM867.7 475.71L868.82 474.83L866.62 473.53L865.5 474.41ZM869.8 474.09L870.93 473.27L868.74 471.97L867.61 472.79ZM871.93 472.59L873.07 471.83L870.88 470.53L869.74 471.29ZM874.07 471.21L875.22 470.52L873.03 469.22L871.88 469.9ZM876.22 469.95L877.38 469.33L875.18 468.03L874.03 468.65ZM878.38 468.82L879.53 468.28L877.34 466.98L876.19 467.52ZM880.54 467.83L881.69 467.35L879.49 466.05L878.35 466.53ZM882.69 466.97L883.83 466.57L881.64 465.27L880.5 465.67ZM884.83 466.25L885.96 465.92L883.77 464.62L882.63 464.95ZM886.94 465.66L888.06 465.41L885.87 464.11L884.75 464.36ZM889.04 465.22L890.14 465.04L887.95 463.74L886.84 463.92ZM891.1 464.92L892.19 464.82L889.99 463.52L888.91 463.62ZM893.13 464.76L894.19 464.73L892 463.43L890.93 463.46ZM895.11 464.74L896.15 464.79L893.96 463.49L892.92 463.44ZM897.05 464.87L898.06 465L895.87 463.7L894.86 463.57ZM898.94 465.14L899.92 465.35L897.73 464.04L896.74 463.84ZM900.77 465.56L901.72 465.83L899.52 464.53L898.57 464.25ZM902.53 466.11L903.45 466.46L901.25 465.16L900.34 464.81ZM838.45 559.67L836.91 557.86L832.96 555.52L834.51 557.33ZM835.58 555.97L834.33 553.81L830.38 551.47L831.63 553.63ZM833.28 551.61L832.34 549.13L828.39 546.78L829.34 549.27ZM831.6 546.64L830.98 543.88L827.04 541.54L827.65 544.3ZM830.56 541.15L830.28 538.16L826.33 535.82L826.61 538.81ZM830.17 535.23L830.23 532.05L826.28 529.7L826.22 532.89ZM830.45 528.96L830.85 525.64L826.9 523.3L826.5 526.62ZM831.38 522.45L832.11 519.05L828.17 516.71L827.43 520.11ZM832.96 515.81L834.01 512.37L830.07 510.03L829.01 513.47ZM835.16 509.12L836.51 505.71L832.57 503.37L831.21 506.78ZM837.94 502.51L839.58 499.17L835.63 496.83L833.99 500.17ZM841.26 496.07L843.16 492.86L839.21 490.52L837.31 493.73ZM845.06 489.9L847.19 486.87L843.24 484.53L841.12 487.56ZM849.3 484.11L851.62 481.31L847.67 478.97L845.35 481.77ZM853.9 478.79L856.37 476.26L852.43 473.92L849.95 476.44ZM858.78 474.01L861.38 471.79L857.43 469.45L854.83 471.67ZM863.88 469.85L866.55 467.98L862.6 465.64L859.93 467.51ZM869.1 466.39L871.81 464.89L867.87 462.55L865.16 464.05ZM874.38 463.66L877.08 462.57L873.13 460.23L870.43 461.32ZM879.62 461.73L882.27 461.05L878.32 458.71L875.67 459.39ZM884.74 460.61L887.3 460.36L883.36 458.02L880.8 458.27ZM889.67 460.33L892.1 460.51L888.15 458.17L885.72 457.99ZM894.32 460.89L896.58 461.5L892.63 459.16L890.37 458.55ZM830.23 555.73L828.54 554.1L824.59 551.76L826.28 553.39ZM827.07 552.37L825.66 550.37L821.71 548.03L823.12 550.03ZM824.47 548.31L823.36 545.97L819.41 543.63L820.52 545.97ZM822.46 543.61L821.68 540.98L817.73 538.63L818.51 541.27ZM821.09 538.35L820.64 535.45L816.69 533.11L817.14 536.01ZM820.37 532.61L820.26 529.49L816.31 527.15L816.42 530.26ZM820.32 526.47L820.55 523.19L816.6 520.85L816.37 524.13ZM820.92 520.04L821.49 516.65L817.55 514.31L816.98 517.7ZM822.19 513.41L823.09 509.97L819.14 507.63L818.24 511.07ZM824.09 506.7L825.3 503.25L821.36 500.91L820.14 504.36ZM826.59 500.01L828.1 496.61L824.16 494.27L822.65 497.66ZM829.67 493.43L831.45 490.14L827.5 487.8L825.72 491.09ZM833.25 487.09L835.28 483.95L831.33 481.61L829.31 484.75ZM837.3 481.07L839.54 478.13L835.6 475.79L833.36 478.73ZM841.75 475.47L844.17 472.79L840.22 470.45L837.8 473.13ZM846.52 470.38L849.08 467.99L845.13 465.65L842.58 468.04ZM851.55 465.89L854.2 463.83L850.26 461.49L847.6 463.55ZM856.75 462.05L859.46 460.36L855.51 458.01L852.8 459.71ZM862.03 458.93L864.76 457.63L860.81 455.29L858.09 456.59ZM867.33 456.59L870.02 455.7L866.08 453.36L863.38 454.25ZM872.55 455.05L875.17 454.59L871.22 452.25L868.6 452.71ZM877.6 454.35L880.12 454.31L876.17 451.97L873.66 452.01ZM882.43 454.49L884.78 454.88L880.84 452.54L878.48 452.15ZM886.93 455.47L889.1 456.29L885.15 453.95L882.98 453.12ZM824.03 550.98L823.3 550.3L821.39 549.18L822.13 549.85ZM822.68 549.68L821.99 548.93L820.09 547.81L820.77 548.55ZM821.41 548.25L820.78 547.44L818.88 546.31L819.51 547.12ZM820.25 546.7L819.67 545.83L817.77 544.7L818.35 545.58ZM819.18 545.04L818.65 544.1L816.75 542.97L817.28 543.91ZM818.21 543.26L817.74 542.26L815.84 541.14L816.31 542.13ZM817.35 541.37L816.93 540.32L815.03 539.19L815.45 540.24ZM816.59 539.38L816.23 538.28L814.33 537.15L814.69 538.25ZM815.94 537.29L815.64 536.14L813.74 535.01L814.04 536.17ZM815.4 535.11L815.15 533.92L813.25 532.79L813.5 533.99ZM814.97 532.85L814.78 531.61L812.88 530.48L813.07 531.72ZM814.65 530.51L814.53 529.23L812.63 528.1L812.75 529.38ZM814.44 528.09L814.38 526.77L812.48 525.65L812.54 526.96ZM814.35 525.61L814.35 524.26L812.45 523.13L812.45 524.48ZM814.38 523.07L814.44 521.69L812.53 520.56L812.48 521.94ZM814.51 520.47L814.63 519.07L812.73 517.94L812.61 519.34ZM814.76 517.83L814.94 516.41L813.04 515.28L812.86 516.7ZM815.13 515.15L815.37 513.71L813.46 512.59L813.23 514.03ZM815.6 512.45L815.9 510.99L814 509.86L813.7 511.32ZM816.19 509.71L816.54 508.25L814.64 507.12L814.29 508.59ZM816.88 506.96L817.29 505.5L815.39 504.37L814.98 505.84ZM817.68 504.21L818.15 502.74L816.25 501.61L815.78 503.08ZM818.59 501.45L819.11 499.98L817.21 498.86L816.69 500.32ZM819.6 498.7L820.17 497.24L818.27 496.11L817.69 497.57ZM820.7 495.96L821.33 494.51L819.43 493.39L818.8 494.84ZM821.91 493.25L822.59 491.81L820.69 490.69L820.01 492.12ZM823.21 490.56L823.93 489.15L822.03 488.02L821.3 489.44ZM824.59 487.92L825.37 486.52L823.47 485.39L822.69 486.79ZM826.07 485.31L826.88 483.94L824.98 482.81L824.16 484.18ZM827.62 482.76L828.48 481.42L826.58 480.29L825.72 481.63ZM829.25 480.26L830.15 478.96L828.25 477.83L827.35 479.13ZM830.96 477.83L831.9 476.56L830 475.44L829.06 476.7ZM832.73 475.47L833.7 474.24L831.8 473.12L830.83 474.34ZM834.57 473.19L835.57 472.01L833.67 470.88L832.67 472.06ZM836.47 470.99L837.5 469.86L835.6 468.73L834.57 469.86ZM838.42 468.88L839.47 467.8L837.57 466.67L836.51 467.76ZM840.41 466.87L841.5 465.84L839.6 464.71L838.51 465.75ZM842.45 464.96L843.56 463.99L841.66 462.86L840.55 463.84ZM844.53 463.16L845.65 462.24L843.75 461.12L842.63 462.03ZM846.64 461.47L847.77 460.61L845.87 459.49L844.74 460.34ZM848.77 459.89L849.92 459.1L848.02 457.98L846.87 458.77ZM850.92 458.44L852.08 457.72L850.18 456.59L849.02 457.31ZM853.09 457.11L854.25 456.45L852.35 455.33L851.19 455.98ZM855.26 455.91L856.43 455.32L854.52 454.2L853.36 454.78ZM857.44 454.84L858.6 454.32L856.7 453.2L855.54 453.71ZM859.61 453.9L860.77 453.46L858.87 452.33L857.71 452.78ZM861.77 453.11L862.92 452.74L861.02 451.61L859.87 451.98ZM863.92 452.45L865.06 452.15L863.16 451.03L862.02 451.32ZM866.04 451.93L867.17 451.71L865.27 450.58L864.14 450.8ZM868.14 451.55L869.25 451.41L867.34 450.29L866.24 450.43ZM870.2 451.32L871.29 451.26L869.39 450.13L868.3 450.2ZM872.23 451.23L873.29 451.25L871.39 450.12L870.33 450.11ZM874.21 451.29L875.24 451.38L873.34 450.25L872.3 450.16ZM876.13 451.49L877.14 451.66L875.24 450.53L874.23 450.37ZM878.01 451.84L878.98 452.08L877.08 450.95L876.11 450.71ZM879.82 452.32L880.76 452.64L878.86 451.51L877.92 451.2Z" fill="#fff" stroke="none"/>
<path d="M834.21 558.25L832.34 556.55L830.63 554.62L829.09 552.46L827.74 550.1L826.57 547.55L825.59 544.81L824.8 541.9L824.22 538.83L823.84 535.62L823.67 532.29L823.7 528.85L823.93 525.31L824.37 521.7L825.02 518.03L825.86 514.32L826.9 510.59L828.12 506.86L829.53 503.14L831.12 499.45L832.88 495.81L834.8 492.24L836.87 488.76L839.08 485.38L841.42 482.12L843.88 478.99L846.45 476.01L849.11 473.2L851.86 470.57L854.67 468.13L857.54 465.89L860.45 463.86L863.38 462.06L866.33 460.5L869.27 459.17L872.2 458.09L875.1 457.26L877.95 456.68L880.74 456.37L883.46 456.32L886.1 456.52L888.64 456.99L891.06 457.71" fill="none" stroke="#fff" stroke-width="0.7" stroke-dasharray="4 1.2"/>
<path d="M832.63 557.32L830.76 555.62L829.05 553.68L827.52 551.53L826.16 549.17L824.99 546.61L824.01 543.87L823.23 540.96L822.65 537.9L822.27 534.69L822.09 531.36L822.12 527.91L822.36 524.38L822.8 520.77L823.44 517.1L824.29 513.39L825.32 509.66L826.55 505.92L827.96 502.2L829.55 498.52L831.31 494.88L833.22 491.31L835.29 487.83L837.51 484.45L839.85 481.18L842.31 478.06L844.88 475.08L847.54 472.27L850.28 469.64L853.1 467.19L855.96 464.96L858.87 462.93L861.81 461.13L864.75 459.56L867.7 458.23L870.63 457.15L873.52 456.32L876.38 455.75L879.17 455.44L881.89 455.38L884.53 455.59L887.06 456.06L889.49 456.78" fill="none" stroke="#fff" stroke-width="0.7" stroke-dasharray="4 1.2"/>
<ellipse cx="879" cy="517.6" rx="33.33" ry="54.2" stroke="#000" stroke-width="0.5" fill="#000" transform="rotate(29.5 879 517.6)"/>
<ellipse cx="879" cy="517.6" rx="31.12" ry="50.6" stroke="#fff" stroke-width="0.4" fill="none" transform="rotate(29.5 879 517.6)"/>
<path d="M904.39 472.71L905.2 473.19L906.21 471.47L905.37 470.97ZM905.8 473.59L906.56 474.14L907.63 472.45L906.84 471.88ZM907.13 474.59L907.86 475.2L908.98 473.56L908.22 472.92ZM856.64 563.88L855.75 563.54L854.85 565.32L855.77 565.67ZM855.09 563.25L854.25 562.83L853.29 564.59L854.17 565.02ZM853.61 562.49L852.8 562.01L851.79 563.73L852.63 564.23ZM852.2 561.61L851.44 561.06L850.37 562.75L851.16 563.32ZM850.87 560.61L850.14 560L849.02 561.64L849.78 562.28ZM849.61 559.5L848.93 558.81L847.76 560.41L848.47 561.12ZM848.43 558.26L847.8 557.52L846.59 559.06L847.24 559.84ZM847.33 556.92L846.75 556.11L845.5 557.6L846.1 558.45ZM846.32 555.47L845.79 554.6L844.5 556.04L845.06 556.94ZM845.4 553.92L844.93 552.99L843.6 554.36L844.1 555.32ZM844.58 552.26L844.15 551.28L842.8 552.59L843.24 553.6ZM843.85 550.51L843.47 549.48L842.1 550.71L842.48 551.79ZM843.21 548.67L842.89 547.59L841.49 548.75L841.82 549.88ZM842.67 546.75L842.41 545.62L840.99 546.71L841.26 547.88ZM842.23 544.74L842.03 543.57L840.6 544.58L840.81 545.79ZM841.9 542.66L841.75 541.45L840.31 542.38L840.46 543.63ZM841.66 540.51L841.57 539.27L840.12 540.11L840.21 541.4ZM841.53 538.3L841.5 537.02L840.04 537.78L840.07 539.11ZM841.5 536.04L841.52 534.73L840.07 535.39L840.04 536.75ZM841.57 533.72L841.65 532.38L840.21 532.96L840.12 534.34ZM841.74 531.36L841.89 530L840.45 530.48L840.3 531.89ZM842.02 528.96L842.22 527.58L840.79 527.97L840.59 529.4ZM842.4 526.52L842.66 525.14L841.25 525.43L840.98 526.87ZM842.88 524.07L843.19 522.67L841.8 522.87L841.47 524.32ZM843.45 521.6L843.82 520.19L842.46 520.29L842.07 521.75ZM844.13 519.11L844.55 517.7L843.22 517.71L842.78 519.17ZM844.9 516.62L845.38 515.21L844.07 515.12L843.58 516.59ZM845.76 514.14L846.29 512.73L845.02 512.54L844.47 514ZM846.72 511.66L847.3 510.27L846.07 509.98L845.47 511.43ZM847.76 509.2L848.39 507.82L847.2 507.44L846.55 508.88ZM848.89 506.76L849.57 505.4L848.42 504.92L847.72 506.34ZM850.1 504.36L850.82 503.01L849.73 502.44L848.98 503.84ZM851.39 501.99L852.16 500.66L851.12 500.01L850.32 501.38ZM852.76 499.66L853.56 498.36L852.58 497.62L851.74 498.96ZM854.2 497.38L855.04 496.11L854.11 495.28L853.23 496.6ZM855.7 495.16L856.59 493.92L855.72 493.01L854.8 494.29ZM857.27 492.99L858.19 491.8L857.38 490.8L856.43 492.04ZM858.9 490.9L859.85 489.75L859.11 488.67L858.12 489.87ZM860.59 488.88L861.57 487.77L860.89 486.61L859.87 487.77ZM862.32 486.94L863.33 485.87L862.72 484.64L861.68 485.75ZM864.1 485.08L865.13 484.06L864.59 482.76L863.53 483.82ZM865.93 483.31L866.97 482.35L866.51 480.98L865.42 481.98ZM867.78 481.63L868.85 480.73L868.46 479.3L867.35 480.24ZM869.67 480.06L870.75 479.21L870.43 477.72L869.31 478.6ZM871.59 478.58L872.68 477.79L872.44 476.25L871.3 477.07ZM873.52 477.21L874.62 476.49L874.45 474.9L873.31 475.65ZM875.47 475.96L876.58 475.3L876.49 473.66L875.33 474.34ZM877.43 474.82L878.54 474.22L878.52 472.54L877.37 473.16ZM879.39 473.79L880.51 473.26L880.56 471.55L879.41 472.09ZM881.35 472.89L882.46 472.43L882.6 470.68L881.45 471.15ZM883.31 472.1L884.41 471.72L884.62 469.94L883.48 470.34ZM885.25 471.45L886.35 471.13L886.63 469.33L885.5 469.66ZM887.18 470.92L888.26 470.67L888.62 468.85L887.5 469.11ZM889.09 470.51L890.15 470.34L890.59 468.51L889.48 468.69ZM890.96 470.24L892.01 470.14L892.52 468.3L891.43 468.4ZM892.81 470.09L893.84 470.07L894.41 468.23L893.34 468.25ZM894.61 470.08L895.62 470.13L896.26 468.29L895.22 468.24ZM896.38 470.2L897.35 470.32L898.07 468.49L897.05 468.36ZM898.09 470.44L899.04 470.64L899.82 468.82L898.83 468.62ZM899.76 470.82L900.67 471.09L901.51 469.29L900.56 469.01ZM901.36 471.32L902.25 471.66L903.15 469.88L902.23 469.53ZM902.91 471.95L903.75 472.37L904.71 470.61L903.83 470.18Z" fill="#fff" stroke="none"/>
<ellipse cx="879" cy="517.6" rx="29.83" ry="48.5" stroke="#000" stroke-width="0.8" fill="#fff" transform="rotate(29.5 879 517.6)"/>
<ellipse cx="878.74" cy="517.45" rx="27.92" ry="45.4" stroke="#000" stroke-width="0.9" fill="none" transform="rotate(29.5 878.74 517.45)"/>
<ellipse cx="878.22" cy="517.16" rx="24.97" ry="40.6" stroke="#000" stroke-width="0.9" fill="none" transform="rotate(29.5 878.22 517.16)"/>
<ellipse cx="877.96" cy="517.01" rx="23.74" ry="38.6" stroke="#000" stroke-width="0.9" fill="none" transform="rotate(29.5 877.96 517.01)"/>
<ellipse cx="877.26" cy="516.62" rx="19.68" ry="32" stroke="#000" stroke-width="0.9" fill="none" transform="rotate(29.5 877.26 516.62)"/>
<ellipse cx="877" cy="516.47" rx="18.45" ry="30" stroke="#000" stroke-width="0.9" fill="none" transform="rotate(29.5 877 516.47)"/>
<ellipse cx="876.22" cy="516.03" rx="14.45" ry="23.5" stroke="#000" stroke-width="0.9" fill="none" transform="rotate(29.5 876.22 516.03)"/>
<ellipse cx="876.04" cy="515.93" rx="13.28" ry="21.6" stroke="#000" stroke-width="0.9" fill="none" transform="rotate(29.5 876.04 515.93)"/>
<ellipse cx="875.69" cy="515.73" rx="9.22" ry="15" stroke="#000" stroke-width="0.9" fill="none" transform="rotate(29.5 875.69 515.73)"/>
<path d="M888.5 462.0 L875.7 513.3 Q874.0 521.5 877.0 525.3 Q882.0 531.0 887.5 528.4 Q891.5 525.5 892.6 518.5 L898.6 504.5 Q905 488 914.4 472.5 Q918.6 465 919.0 456.5 L919.4 446.5 Z" stroke="#000" stroke-width="1" fill="#fff"/>
<path d="M890.9 462.0 L878.2 513.0 Q876.8 520.0 878.8 523.5" stroke="#000" stroke-width="0.8" fill="none"/>
<path d="M913.0 471.5 Q904 487 897.0 504.0 L893.0 513.0" stroke="#000" stroke-width="0.8" fill="none"/>
<circle cx="886" cy="521.2" r="5.6" stroke="#000" stroke-width="1.4" fill="#fff"/>
<ellipse cx="884.6" cy="520.4" rx="3.4" ry="4.2" stroke="#000" stroke-width="0.9" fill="#fff" transform="rotate(25 884.6 520.4)"/>
<path d="M851.4 437.5 L851.4 441.8 L889.5 464.6 L921.2 446.8 L921.2 442.3 L889.5 460 Z" stroke="#000" stroke-width="0.9" fill="#fff"/>
<path d="M849.0 432 L849.0 437.0 L889.5 460.3 L923.0 441.6 L923.0 436.5 Z" stroke="#000" stroke-width="0.9" fill="#fff"/>
<path d="M846.4 427.0 L846.4 430.6 Q846.6 432.4 848.6 433.6 L888.0 455.0 Q891 456.4 894 455.0 L923.4 438.0 Q925.4 436.6 925.5 434.6 L925.5 431.2 Z" stroke="#000" stroke-width="0.9" fill="#fff"/>
<path d="M848.5 424.6 L878.6 407.0 Q881.6 405.3 884.6 407.0 L923.6 428.6 Q927.4 431.0 923.6 433.4 L893.8 450.6 Q891 452.2 888.0 450.6 L848.5 429.2 Q844.6 426.9 848.5 424.6 Z" stroke="#000" stroke-width="1" fill="#fff"/>
<ellipse cx="881.4" cy="410.4" rx="3" ry="1.9" stroke="#000" stroke-width="0.9" fill="#fff"/>
<ellipse cx="854.6" cy="426" rx="3" ry="1.9" stroke="#000" stroke-width="0.9" fill="#fff"/>
<ellipse cx="917.8" cy="431.2" rx="3" ry="1.9" stroke="#000" stroke-width="0.9" fill="#fff"/>
<ellipse cx="890.8" cy="446.8" rx="3" ry="1.9" stroke="#000" stroke-width="0.9" fill="#fff"/>
<ellipse cx="885.8" cy="428.8" rx="7.2" ry="4.4" stroke="#000" stroke-width="1.1" fill="#fff"/>
<ellipse cx="885.8" cy="428.8" rx="2" ry="1.3" stroke="#000" stroke-width="0.8" fill="#000"/>
</g>
<text x="804.6" y="606.3" font-size="16.3" text-anchor="start" fill="#ff0000" font-family="'Liberation Sans','Noto Sans CJK SC',sans-serif" font-weight="bold">专利产品，仿冒必究。</text>
</svg>
</body></html>
